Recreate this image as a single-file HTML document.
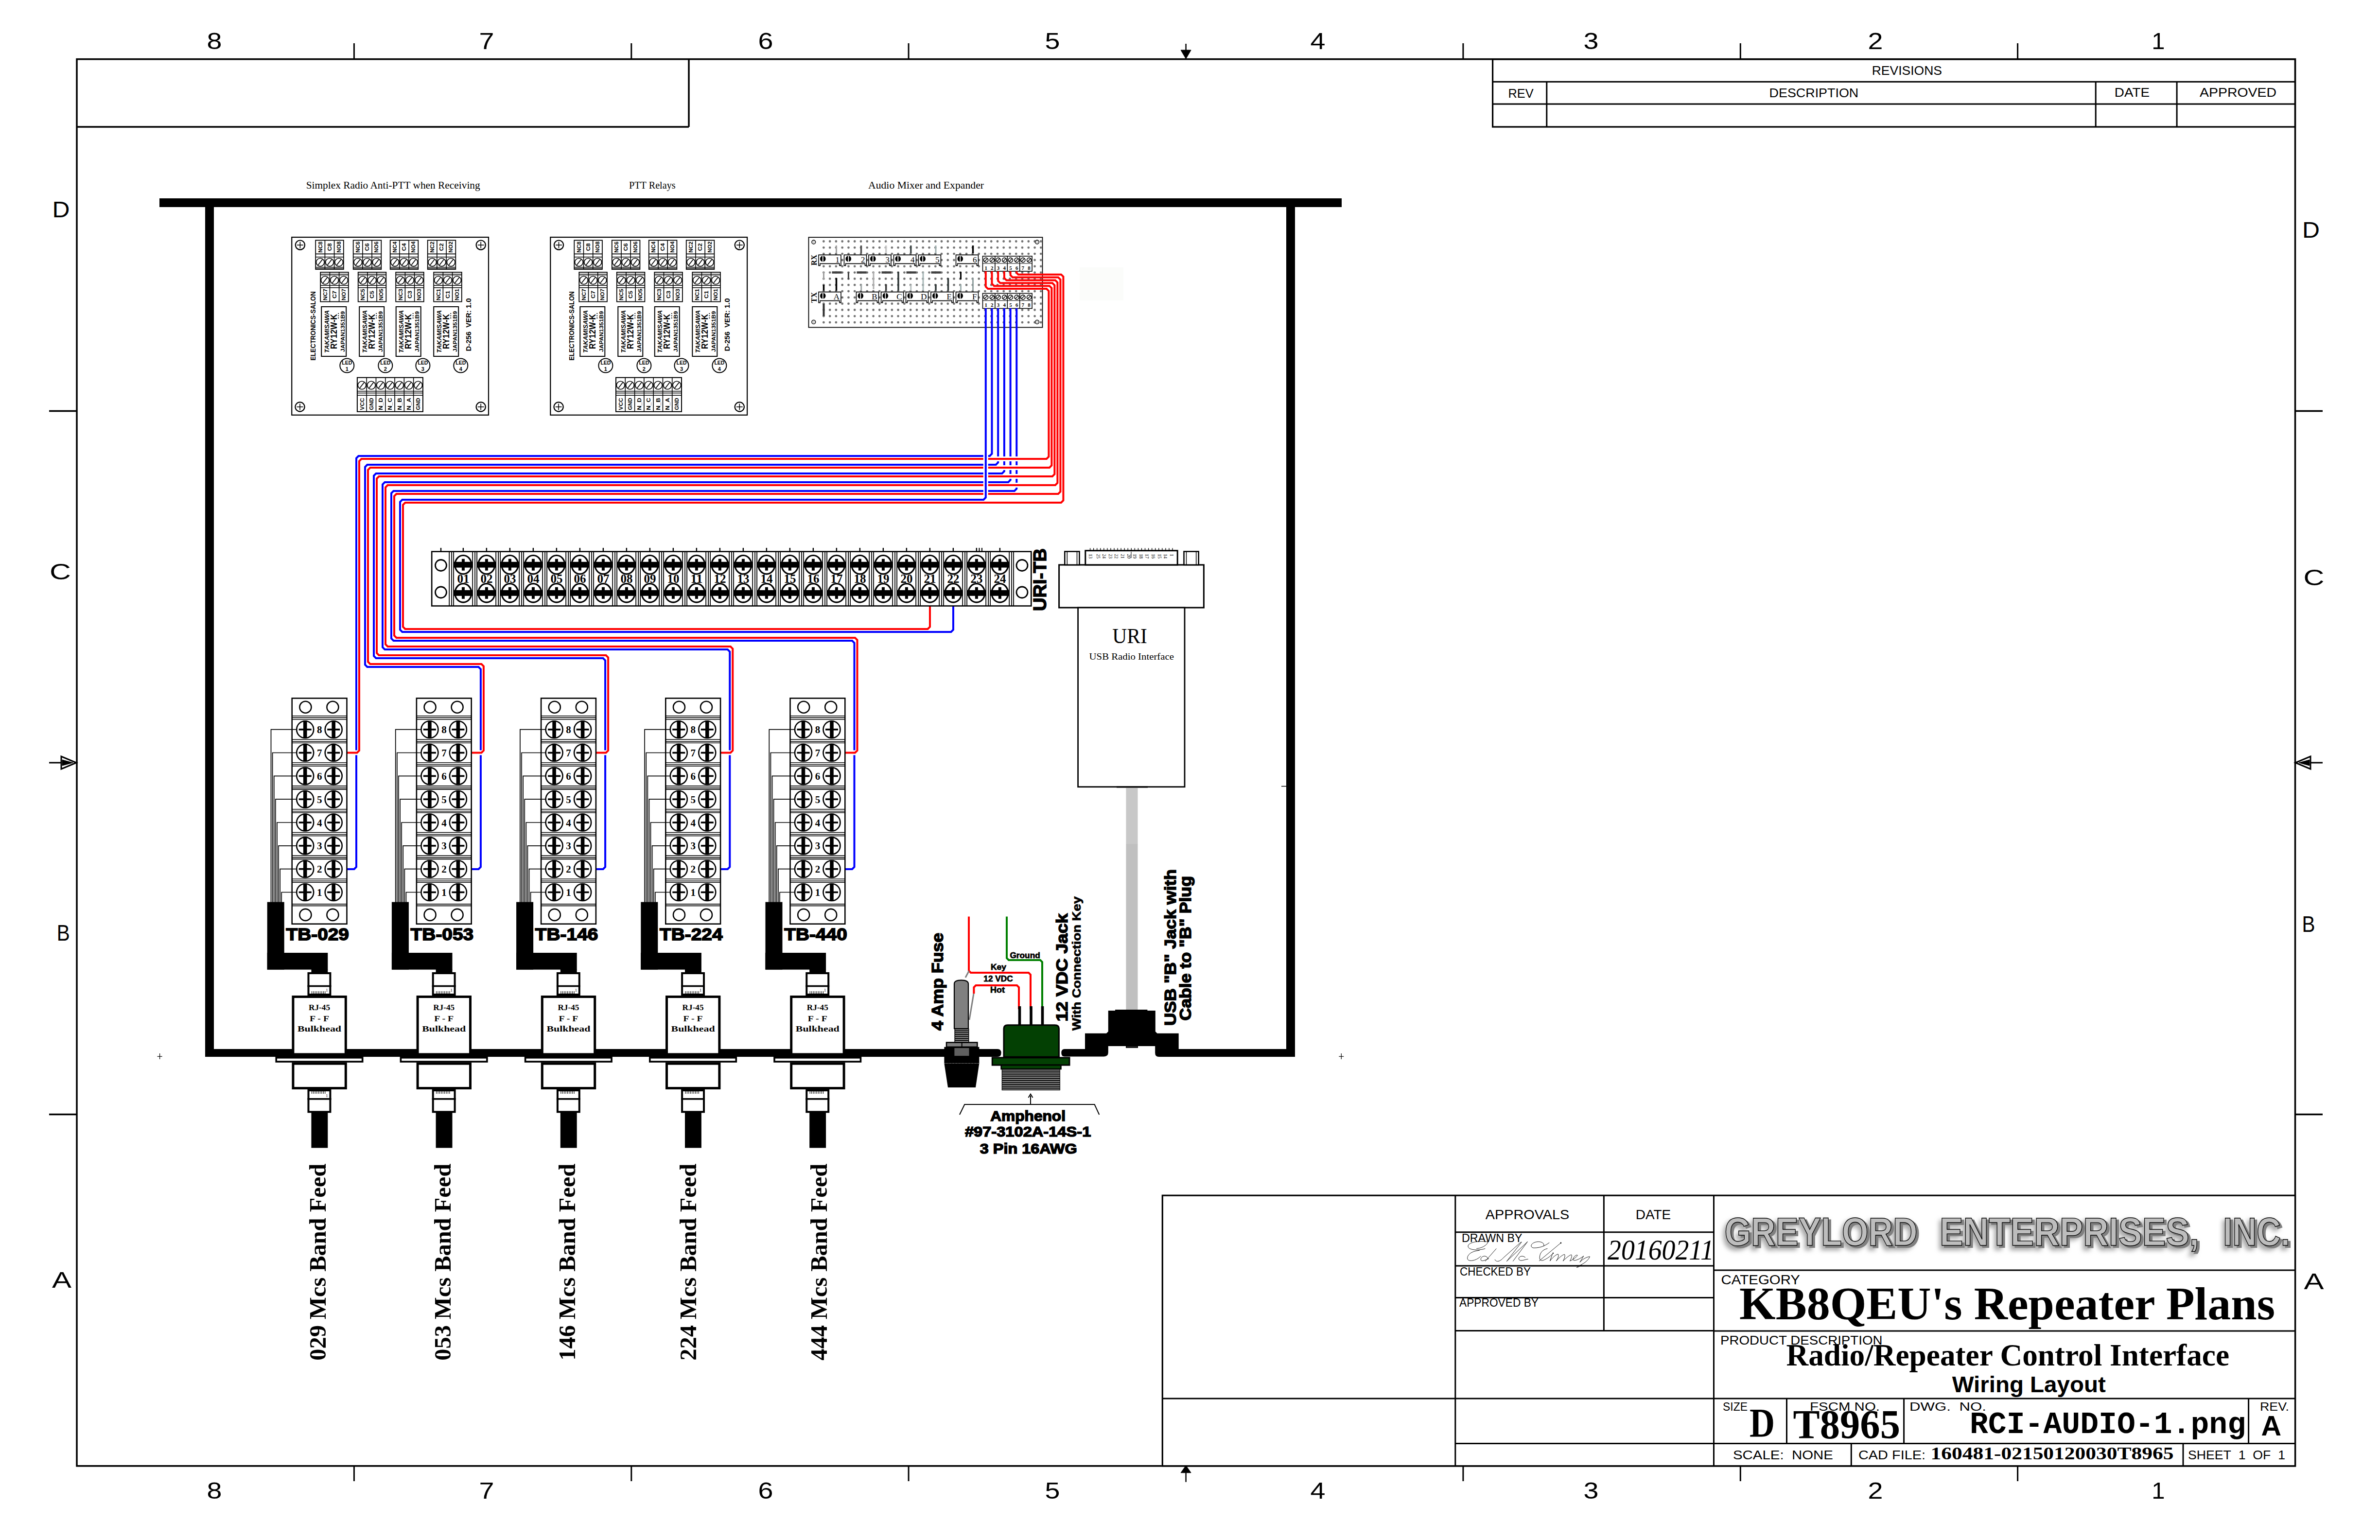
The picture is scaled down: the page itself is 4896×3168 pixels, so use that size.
<!DOCTYPE html><html><head><meta charset="utf-8"><style>html,body{margin:0;padding:0;background:#fff;overflow:hidden}svg{display:block}</style></head><body>
<svg width="4896" height="3168" viewBox="0 0 4896 3168">
<rect x="0" y="0" width="4896" height="3168" fill="#fff"/>
<rect x="158" y="121.7" width="4563.5" height="2894" fill="none" stroke="#000" stroke-width="3.5" />
<line x1="158" y1="261" x2="1417" y2="261" stroke="#000" stroke-width="3.5" />
<line x1="1417" y1="121.7" x2="1417" y2="261" stroke="#000" stroke-width="3.5" />
<line x1="728.4" y1="89" x2="728.4" y2="121.7" stroke="#000" stroke-width="3" />
<line x1="728.4" y1="3015.7" x2="728.4" y2="3047" stroke="#000" stroke-width="3" />
<line x1="1298.8" y1="89" x2="1298.8" y2="121.7" stroke="#000" stroke-width="3" />
<line x1="1298.8" y1="3015.7" x2="1298.8" y2="3047" stroke="#000" stroke-width="3" />
<line x1="1869.1" y1="89" x2="1869.1" y2="121.7" stroke="#000" stroke-width="3" />
<line x1="1869.1" y1="3015.7" x2="1869.1" y2="3047" stroke="#000" stroke-width="3" />
<line x1="3009.9" y1="89" x2="3009.9" y2="121.7" stroke="#000" stroke-width="3" />
<line x1="3009.9" y1="3015.7" x2="3009.9" y2="3047" stroke="#000" stroke-width="3" />
<line x1="3580.3" y1="89" x2="3580.3" y2="121.7" stroke="#000" stroke-width="3" />
<line x1="3580.3" y1="3015.7" x2="3580.3" y2="3047" stroke="#000" stroke-width="3" />
<line x1="4150.6" y1="89" x2="4150.6" y2="121.7" stroke="#000" stroke-width="3" />
<line x1="4150.6" y1="3015.7" x2="4150.6" y2="3047" stroke="#000" stroke-width="3" />
<line x1="101" y1="845.5" x2="158" y2="845.5" stroke="#000" stroke-width="3.5" />
<line x1="4721.5" y1="845.5" x2="4778" y2="845.5" stroke="#000" stroke-width="3.5" />
<line x1="101" y1="2292.5" x2="158" y2="2292.5" stroke="#000" stroke-width="3.5" />
<line x1="4721.5" y1="2292.5" x2="4778" y2="2292.5" stroke="#000" stroke-width="3.5" />
<line x1="2439.6" y1="90" x2="2439.6" y2="104" stroke="#000" stroke-width="2.5" />
<path d="M2429.1,103 L2450.1,103 L2439.6,121 Z" fill="#000" stroke="#000" stroke-width="1" />
<line x1="2439.6" y1="3048.7" x2="2439.6" y2="3029.7" stroke="#000" stroke-width="2.5" />
<path d="M2429.1,3029.7 L2450.1,3029.7 L2439.6,3014.7 Z" fill="#000" stroke="#000" stroke-width="1" />
<line x1="101" y1="1569" x2="126" y2="1569" stroke="#000" stroke-width="3" />
<path d="M126,1556 L126,1582 L157,1569 Z" fill="none" stroke="#000" stroke-width="3" />
<path d="M128,1563 L128,1575 L150,1569 Z" fill="#000" stroke="#000" stroke-width="1" />
<line x1="4753" y1="1569" x2="4778" y2="1569" stroke="#000" stroke-width="3" />
<path d="M4753,1556 L4753,1582 L4722,1569 Z" fill="none" stroke="#000" stroke-width="3" />
<path d="M4751,1563 L4751,1575 L4729,1569 Z" fill="#000" stroke="#000" stroke-width="1" />
<text x="441" y="101" font-family='"Liberation Sans", sans-serif' font-size="49" font-weight="normal" text-anchor="middle" fill="#000" textLength="31" lengthAdjust="spacingAndGlyphs" >8</text>
<text x="441" y="3083" font-family='"Liberation Sans", sans-serif' font-size="49" font-weight="normal" text-anchor="middle" fill="#000" textLength="31" lengthAdjust="spacingAndGlyphs" >8</text>
<text x="1001" y="101" font-family='"Liberation Sans", sans-serif' font-size="49" font-weight="normal" text-anchor="middle" fill="#000" textLength="31" lengthAdjust="spacingAndGlyphs" >7</text>
<text x="1001" y="3083" font-family='"Liberation Sans", sans-serif' font-size="49" font-weight="normal" text-anchor="middle" fill="#000" textLength="31" lengthAdjust="spacingAndGlyphs" >7</text>
<text x="1575" y="101" font-family='"Liberation Sans", sans-serif' font-size="49" font-weight="normal" text-anchor="middle" fill="#000" textLength="31" lengthAdjust="spacingAndGlyphs" >6</text>
<text x="1575" y="3083" font-family='"Liberation Sans", sans-serif' font-size="49" font-weight="normal" text-anchor="middle" fill="#000" textLength="31" lengthAdjust="spacingAndGlyphs" >6</text>
<text x="2165" y="101" font-family='"Liberation Sans", sans-serif' font-size="49" font-weight="normal" text-anchor="middle" fill="#000" textLength="31" lengthAdjust="spacingAndGlyphs" >5</text>
<text x="2165" y="3083" font-family='"Liberation Sans", sans-serif' font-size="49" font-weight="normal" text-anchor="middle" fill="#000" textLength="31" lengthAdjust="spacingAndGlyphs" >5</text>
<text x="2711" y="101" font-family='"Liberation Sans", sans-serif' font-size="49" font-weight="normal" text-anchor="middle" fill="#000" textLength="31" lengthAdjust="spacingAndGlyphs" >4</text>
<text x="2711" y="3083" font-family='"Liberation Sans", sans-serif' font-size="49" font-weight="normal" text-anchor="middle" fill="#000" textLength="31" lengthAdjust="spacingAndGlyphs" >4</text>
<text x="3273" y="101" font-family='"Liberation Sans", sans-serif' font-size="49" font-weight="normal" text-anchor="middle" fill="#000" textLength="31" lengthAdjust="spacingAndGlyphs" >3</text>
<text x="3273" y="3083" font-family='"Liberation Sans", sans-serif' font-size="49" font-weight="normal" text-anchor="middle" fill="#000" textLength="31" lengthAdjust="spacingAndGlyphs" >3</text>
<text x="3858" y="101" font-family='"Liberation Sans", sans-serif' font-size="49" font-weight="normal" text-anchor="middle" fill="#000" textLength="31" lengthAdjust="spacingAndGlyphs" >2</text>
<text x="3858" y="3083" font-family='"Liberation Sans", sans-serif' font-size="49" font-weight="normal" text-anchor="middle" fill="#000" textLength="31" lengthAdjust="spacingAndGlyphs" >2</text>
<text x="4440" y="101" font-family='"Liberation Sans", sans-serif' font-size="49" font-weight="normal" text-anchor="middle" fill="#000" >1</text>
<text x="4440" y="3083" font-family='"Liberation Sans", sans-serif' font-size="49" font-weight="normal" text-anchor="middle" fill="#000" >1</text>
<text x="125.6" y="447" font-family='"Liberation Sans", sans-serif' font-size="46" font-weight="normal" text-anchor="middle" fill="#000" textLength="36" lengthAdjust="spacingAndGlyphs" >D</text>
<text x="124" y="1192" font-family='"Liberation Sans", sans-serif' font-size="46" font-weight="normal" text-anchor="middle" fill="#000" textLength="44" lengthAdjust="spacingAndGlyphs" >C</text>
<text x="130.3" y="1935" font-family='"Liberation Sans", sans-serif' font-size="46" font-weight="normal" text-anchor="middle" fill="#000" textLength="27" lengthAdjust="spacingAndGlyphs" >B</text>
<text x="127" y="2649" font-family='"Liberation Sans", sans-serif' font-size="46" font-weight="normal" text-anchor="middle" fill="#000" textLength="40" lengthAdjust="spacingAndGlyphs" >A</text>
<text x="4754" y="489" font-family='"Liberation Sans", sans-serif' font-size="46" font-weight="normal" text-anchor="middle" fill="#000" textLength="36" lengthAdjust="spacingAndGlyphs" >D</text>
<text x="4760" y="1204" font-family='"Liberation Sans", sans-serif' font-size="46" font-weight="normal" text-anchor="middle" fill="#000" textLength="43" lengthAdjust="spacingAndGlyphs" >C</text>
<text x="4749" y="1917" font-family='"Liberation Sans", sans-serif' font-size="46" font-weight="normal" text-anchor="middle" fill="#000" textLength="27" lengthAdjust="spacingAndGlyphs" >B</text>
<text x="4760" y="2652" font-family='"Liberation Sans", sans-serif' font-size="46" font-weight="normal" text-anchor="middle" fill="#000" textLength="41" lengthAdjust="spacingAndGlyphs" >A</text>
<rect x="3070.6" y="121.7" width="1650.9" height="139.3" fill="none" stroke="#000" stroke-width="3.2" />
<line x1="3070.6" y1="168.2" x2="4721.5" y2="168.2" stroke="#000" stroke-width="3" />
<line x1="3070.6" y1="214.1" x2="4721.5" y2="214.1" stroke="#000" stroke-width="3" />
<line x1="3181.8" y1="168.2" x2="3181.8" y2="261" stroke="#000" stroke-width="3" />
<line x1="4311.2" y1="168.2" x2="4311.2" y2="261" stroke="#000" stroke-width="3" />
<line x1="4478.1" y1="168.2" x2="4478.1" y2="261" stroke="#000" stroke-width="3" />
<text x="3850.7" y="154.1" font-family='"Liberation Sans", sans-serif' font-size="26" font-weight="normal" text-anchor="start" fill="#000" textLength="144.3" lengthAdjust="spacingAndGlyphs" >REVISIONS</text>
<text x="3102.4" y="201" font-family='"Liberation Sans", sans-serif' font-size="26" font-weight="normal" text-anchor="start" fill="#000" textLength="52.2" lengthAdjust="spacingAndGlyphs" >REV</text>
<text x="3639.6" y="200" font-family='"Liberation Sans", sans-serif' font-size="26" font-weight="normal" text-anchor="start" fill="#000" textLength="183.6" lengthAdjust="spacingAndGlyphs" >DESCRIPTION</text>
<text x="4349.8" y="198.5" font-family='"Liberation Sans", sans-serif' font-size="26" font-weight="normal" text-anchor="start" fill="#000" textLength="72.2" lengthAdjust="spacingAndGlyphs" >DATE</text>
<text x="4525" y="198.5" font-family='"Liberation Sans", sans-serif' font-size="26" font-weight="normal" text-anchor="start" fill="#000" textLength="158" lengthAdjust="spacingAndGlyphs" >APPROVED</text>
<text x="629.7" y="387.5" font-family='"Liberation Serif", serif' font-size="21.4" font-weight="normal" text-anchor="start" fill="#000" textLength="358" lengthAdjust="spacingAndGlyphs" >Simplex Radio Anti-PTT when Receiving</text>
<text x="1294" y="387.5" font-family='"Liberation Serif", serif' font-size="21.4" font-weight="normal" text-anchor="start" fill="#000" textLength="95.7" lengthAdjust="spacingAndGlyphs" >PTT Relays</text>
<text x="1786" y="387.5" font-family='"Liberation Serif", serif' font-size="21.4" font-weight="normal" text-anchor="start" fill="#000" textLength="238" lengthAdjust="spacingAndGlyphs" >Audio Mixer and Expander</text>
<rect x="328" y="408" width="2432" height="18" fill="#000" />
<rect x="422" y="426" width="18" height="1748" fill="#000" />
<rect x="2646" y="426" width="18" height="1748" fill="#000" />
<path d="M422,2158 L2052,2158 Q2059.6,2158 2059.6,2166 Q2059.6,2174 2052,2174 L422,2174 Z" fill="#000" stroke="none" stroke-width="0" />
<rect x="2424" y="2158" width="240" height="16" fill="#000" />
<line x1="323.6" y1="2173.3" x2="333.6" y2="2173.3" stroke="#000" stroke-width="1.2" />
<line x1="328.6" y1="2167" x2="328.6" y2="2179" stroke="#000" stroke-width="1.2" />
<line x1="2754.3" y1="2173.3" x2="2764.3" y2="2173.3" stroke="#000" stroke-width="1.2" />
<line x1="2759.3" y1="2167" x2="2759.3" y2="2179" stroke="#000" stroke-width="1.2" />
<line x1="2636" y1="1617.5" x2="2646" y2="1617.5" stroke="#000" stroke-width="1.5" />
<rect x="2221" y="549.7" width="90" height="68.3" fill="#fbfcfa" />
<rect x="600.2" y="488" width="404.8" height="365.8" fill="#fff" stroke="#000" stroke-width="2.2" />
<circle cx="617.4" cy="504.1" r="9.6" fill="#fff" stroke="#000" stroke-width="2.2" />
<line x1="610.9" y1="504.1" x2="623.9" y2="504.1" stroke="#000" stroke-width="1.6" />
<line x1="617.4" y1="497.6" x2="617.4" y2="510.6" stroke="#000" stroke-width="1.6" />
<circle cx="989.2" cy="504.1" r="9.6" fill="#fff" stroke="#000" stroke-width="2.2" />
<line x1="982.7" y1="504.1" x2="995.7" y2="504.1" stroke="#000" stroke-width="1.6" />
<line x1="989.2" y1="497.6" x2="989.2" y2="510.6" stroke="#000" stroke-width="1.6" />
<circle cx="617" cy="837" r="9.6" fill="#fff" stroke="#000" stroke-width="2.2" />
<line x1="610.5" y1="837" x2="623.5" y2="837" stroke="#000" stroke-width="1.6" />
<line x1="617" y1="830.5" x2="617" y2="843.5" stroke="#000" stroke-width="1.6" />
<circle cx="989.2" cy="837" r="9.6" fill="#fff" stroke="#000" stroke-width="2.2" />
<line x1="982.7" y1="837" x2="995.7" y2="837" stroke="#000" stroke-width="1.6" />
<line x1="989.2" y1="830.5" x2="989.2" y2="843.5" stroke="#000" stroke-width="1.6" />
<rect x="649.2" y="494.3" width="57.6" height="59.7" fill="#fff" stroke="#000" stroke-width="1.8" />
<line x1="649.2" y1="522.4" x2="706.8" y2="522.4" stroke="#000" stroke-width="1.6" />
<line x1="649.2" y1="528.7" x2="706.8" y2="528.7" stroke="#000" stroke-width="1.6" />
<line x1="649.2" y1="549.7" x2="706.8" y2="549.7" stroke="#000" stroke-width="1.2" />
<line x1="649.2" y1="551.9" x2="706.8" y2="551.9" stroke="#000" stroke-width="1.2" />
<line x1="668.4" y1="494.3" x2="668.4" y2="554" stroke="#000" stroke-width="1.6" />
<line x1="687.6" y1="494.3" x2="687.6" y2="554" stroke="#000" stroke-width="1.6" />
<circle cx="658.8" cy="539.5" r="8.3" fill="#fff" stroke="#000" stroke-width="1.6" />
<line x1="654.32" y1="545.18" x2="663.28" y2="533.82" stroke="#000" stroke-width="1.76" />
<text x="662.58" y="508.3" font-family='"Liberation Sans", sans-serif' font-size="10.5" font-weight="bold" text-anchor="middle" fill="#000" textLength="23" lengthAdjust="spacingAndGlyphs" transform="rotate(-90 662.58 508.3)" >NC8</text>
<circle cx="678" cy="539.5" r="8.3" fill="#fff" stroke="#000" stroke-width="1.6" />
<line x1="673.52" y1="545.18" x2="682.48" y2="533.82" stroke="#000" stroke-width="1.76" />
<text x="681.78" y="508.3" font-family='"Liberation Sans", sans-serif' font-size="10.5" font-weight="bold" text-anchor="middle" fill="#000" textLength="16" lengthAdjust="spacingAndGlyphs" transform="rotate(-90 681.78 508.3)" >C8</text>
<circle cx="697.2" cy="539.5" r="8.3" fill="#fff" stroke="#000" stroke-width="1.6" />
<line x1="692.72" y1="545.18" x2="701.68" y2="533.82" stroke="#000" stroke-width="1.76" />
<text x="700.98" y="508.3" font-family='"Liberation Sans", sans-serif' font-size="10.5" font-weight="bold" text-anchor="middle" fill="#000" textLength="23" lengthAdjust="spacingAndGlyphs" transform="rotate(-90 700.98 508.3)" >NO8</text>
<rect x="726.7" y="494.3" width="57.6" height="59.7" fill="#fff" stroke="#000" stroke-width="1.8" />
<line x1="726.7" y1="522.4" x2="784.3" y2="522.4" stroke="#000" stroke-width="1.6" />
<line x1="726.7" y1="528.7" x2="784.3" y2="528.7" stroke="#000" stroke-width="1.6" />
<line x1="726.7" y1="549.7" x2="784.3" y2="549.7" stroke="#000" stroke-width="1.2" />
<line x1="726.7" y1="551.9" x2="784.3" y2="551.9" stroke="#000" stroke-width="1.2" />
<line x1="745.9" y1="494.3" x2="745.9" y2="554" stroke="#000" stroke-width="1.6" />
<line x1="765.1" y1="494.3" x2="765.1" y2="554" stroke="#000" stroke-width="1.6" />
<circle cx="736.3" cy="539.5" r="8.3" fill="#fff" stroke="#000" stroke-width="1.6" />
<line x1="731.82" y1="545.18" x2="740.78" y2="533.82" stroke="#000" stroke-width="1.76" />
<text x="740.08" y="508.3" font-family='"Liberation Sans", sans-serif' font-size="10.5" font-weight="bold" text-anchor="middle" fill="#000" textLength="23" lengthAdjust="spacingAndGlyphs" transform="rotate(-90 740.08 508.3)" >NC6</text>
<circle cx="755.5" cy="539.5" r="8.3" fill="#fff" stroke="#000" stroke-width="1.6" />
<line x1="751.02" y1="545.18" x2="759.98" y2="533.82" stroke="#000" stroke-width="1.76" />
<text x="759.28" y="508.3" font-family='"Liberation Sans", sans-serif' font-size="10.5" font-weight="bold" text-anchor="middle" fill="#000" textLength="16" lengthAdjust="spacingAndGlyphs" transform="rotate(-90 759.28 508.3)" >C6</text>
<circle cx="774.7" cy="539.5" r="8.3" fill="#fff" stroke="#000" stroke-width="1.6" />
<line x1="770.22" y1="545.18" x2="779.18" y2="533.82" stroke="#000" stroke-width="1.76" />
<text x="778.48" y="508.3" font-family='"Liberation Sans", sans-serif' font-size="10.5" font-weight="bold" text-anchor="middle" fill="#000" textLength="23" lengthAdjust="spacingAndGlyphs" transform="rotate(-90 778.48 508.3)" >NO6</text>
<rect x="802.7" y="494.3" width="57.6" height="59.7" fill="#fff" stroke="#000" stroke-width="1.8" />
<line x1="802.7" y1="522.4" x2="860.3" y2="522.4" stroke="#000" stroke-width="1.6" />
<line x1="802.7" y1="528.7" x2="860.3" y2="528.7" stroke="#000" stroke-width="1.6" />
<line x1="802.7" y1="549.7" x2="860.3" y2="549.7" stroke="#000" stroke-width="1.2" />
<line x1="802.7" y1="551.9" x2="860.3" y2="551.9" stroke="#000" stroke-width="1.2" />
<line x1="821.9" y1="494.3" x2="821.9" y2="554" stroke="#000" stroke-width="1.6" />
<line x1="841.1" y1="494.3" x2="841.1" y2="554" stroke="#000" stroke-width="1.6" />
<circle cx="812.3" cy="539.5" r="8.3" fill="#fff" stroke="#000" stroke-width="1.6" />
<line x1="807.82" y1="545.18" x2="816.78" y2="533.82" stroke="#000" stroke-width="1.76" />
<text x="816.08" y="508.3" font-family='"Liberation Sans", sans-serif' font-size="10.5" font-weight="bold" text-anchor="middle" fill="#000" textLength="23" lengthAdjust="spacingAndGlyphs" transform="rotate(-90 816.08 508.3)" >NC4</text>
<circle cx="831.5" cy="539.5" r="8.3" fill="#fff" stroke="#000" stroke-width="1.6" />
<line x1="827.02" y1="545.18" x2="835.98" y2="533.82" stroke="#000" stroke-width="1.76" />
<text x="835.28" y="508.3" font-family='"Liberation Sans", sans-serif' font-size="10.5" font-weight="bold" text-anchor="middle" fill="#000" textLength="16" lengthAdjust="spacingAndGlyphs" transform="rotate(-90 835.28 508.3)" >C4</text>
<circle cx="850.7" cy="539.5" r="8.3" fill="#fff" stroke="#000" stroke-width="1.6" />
<line x1="846.22" y1="545.18" x2="855.18" y2="533.82" stroke="#000" stroke-width="1.76" />
<text x="854.48" y="508.3" font-family='"Liberation Sans", sans-serif' font-size="10.5" font-weight="bold" text-anchor="middle" fill="#000" textLength="23" lengthAdjust="spacingAndGlyphs" transform="rotate(-90 854.48 508.3)" >NO4</text>
<rect x="879.7" y="494.3" width="57.6" height="59.7" fill="#fff" stroke="#000" stroke-width="1.8" />
<line x1="879.7" y1="522.4" x2="937.3" y2="522.4" stroke="#000" stroke-width="1.6" />
<line x1="879.7" y1="528.7" x2="937.3" y2="528.7" stroke="#000" stroke-width="1.6" />
<line x1="879.7" y1="549.7" x2="937.3" y2="549.7" stroke="#000" stroke-width="1.2" />
<line x1="879.7" y1="551.9" x2="937.3" y2="551.9" stroke="#000" stroke-width="1.2" />
<line x1="898.9" y1="494.3" x2="898.9" y2="554" stroke="#000" stroke-width="1.6" />
<line x1="918.1" y1="494.3" x2="918.1" y2="554" stroke="#000" stroke-width="1.6" />
<circle cx="889.3" cy="539.5" r="8.3" fill="#fff" stroke="#000" stroke-width="1.6" />
<line x1="884.82" y1="545.18" x2="893.78" y2="533.82" stroke="#000" stroke-width="1.76" />
<text x="893.08" y="508.3" font-family='"Liberation Sans", sans-serif' font-size="10.5" font-weight="bold" text-anchor="middle" fill="#000" textLength="23" lengthAdjust="spacingAndGlyphs" transform="rotate(-90 893.08 508.3)" >NC2</text>
<circle cx="908.5" cy="539.5" r="8.3" fill="#fff" stroke="#000" stroke-width="1.6" />
<line x1="904.02" y1="545.18" x2="912.98" y2="533.82" stroke="#000" stroke-width="1.76" />
<text x="912.28" y="508.3" font-family='"Liberation Sans", sans-serif' font-size="10.5" font-weight="bold" text-anchor="middle" fill="#000" textLength="16" lengthAdjust="spacingAndGlyphs" transform="rotate(-90 912.28 508.3)" >C2</text>
<circle cx="927.7" cy="539.5" r="8.3" fill="#fff" stroke="#000" stroke-width="1.6" />
<line x1="923.22" y1="545.18" x2="932.18" y2="533.82" stroke="#000" stroke-width="1.76" />
<text x="931.48" y="508.3" font-family='"Liberation Sans", sans-serif' font-size="10.5" font-weight="bold" text-anchor="middle" fill="#000" textLength="23" lengthAdjust="spacingAndGlyphs" transform="rotate(-90 931.48 508.3)" >NO2</text>
<rect x="659.2" y="560" width="57.6" height="60.6" fill="#fff" stroke="#000" stroke-width="1.8" />
<line x1="659.2" y1="563.8" x2="716.8" y2="563.8" stroke="#000" stroke-width="1.2" />
<line x1="659.2" y1="566" x2="716.8" y2="566" stroke="#000" stroke-width="1.2" />
<line x1="659.2" y1="587.3" x2="716.8" y2="587.3" stroke="#000" stroke-width="1.6" />
<line x1="659.2" y1="591.8" x2="716.8" y2="591.8" stroke="#000" stroke-width="1.6" />
<line x1="678.4" y1="560" x2="678.4" y2="620.6" stroke="#000" stroke-width="1.6" />
<line x1="697.6" y1="560" x2="697.6" y2="620.6" stroke="#000" stroke-width="1.6" />
<circle cx="668.8" cy="576.5" r="8.3" fill="#fff" stroke="#000" stroke-width="1.6" />
<line x1="664.32" y1="582.18" x2="673.28" y2="570.82" stroke="#000" stroke-width="1.76" />
<text x="672.58" y="606" font-family='"Liberation Sans", sans-serif' font-size="10.5" font-weight="bold" text-anchor="middle" fill="#000" textLength="24" lengthAdjust="spacingAndGlyphs" transform="rotate(-90 672.58 606)" >NC7</text>
<circle cx="688" cy="576.5" r="8.3" fill="#fff" stroke="#000" stroke-width="1.6" />
<line x1="683.52" y1="582.18" x2="692.48" y2="570.82" stroke="#000" stroke-width="1.76" />
<text x="691.78" y="606" font-family='"Liberation Sans", sans-serif' font-size="10.5" font-weight="bold" text-anchor="middle" fill="#000" textLength="16" lengthAdjust="spacingAndGlyphs" transform="rotate(-90 691.78 606)" >C7</text>
<circle cx="707.2" cy="576.5" r="8.3" fill="#fff" stroke="#000" stroke-width="1.6" />
<line x1="702.72" y1="582.18" x2="711.68" y2="570.82" stroke="#000" stroke-width="1.76" />
<text x="710.98" y="606" font-family='"Liberation Sans", sans-serif' font-size="10.5" font-weight="bold" text-anchor="middle" fill="#000" textLength="24" lengthAdjust="spacingAndGlyphs" transform="rotate(-90 710.98 606)" >NO7</text>
<rect x="736.7" y="560" width="57.6" height="60.6" fill="#fff" stroke="#000" stroke-width="1.8" />
<line x1="736.7" y1="563.8" x2="794.3" y2="563.8" stroke="#000" stroke-width="1.2" />
<line x1="736.7" y1="566" x2="794.3" y2="566" stroke="#000" stroke-width="1.2" />
<line x1="736.7" y1="587.3" x2="794.3" y2="587.3" stroke="#000" stroke-width="1.6" />
<line x1="736.7" y1="591.8" x2="794.3" y2="591.8" stroke="#000" stroke-width="1.6" />
<line x1="755.9" y1="560" x2="755.9" y2="620.6" stroke="#000" stroke-width="1.6" />
<line x1="775.1" y1="560" x2="775.1" y2="620.6" stroke="#000" stroke-width="1.6" />
<circle cx="746.3" cy="576.5" r="8.3" fill="#fff" stroke="#000" stroke-width="1.6" />
<line x1="741.82" y1="582.18" x2="750.78" y2="570.82" stroke="#000" stroke-width="1.76" />
<text x="750.08" y="606" font-family='"Liberation Sans", sans-serif' font-size="10.5" font-weight="bold" text-anchor="middle" fill="#000" textLength="24" lengthAdjust="spacingAndGlyphs" transform="rotate(-90 750.08 606)" >NC5</text>
<circle cx="765.5" cy="576.5" r="8.3" fill="#fff" stroke="#000" stroke-width="1.6" />
<line x1="761.02" y1="582.18" x2="769.98" y2="570.82" stroke="#000" stroke-width="1.76" />
<text x="769.28" y="606" font-family='"Liberation Sans", sans-serif' font-size="10.5" font-weight="bold" text-anchor="middle" fill="#000" textLength="16" lengthAdjust="spacingAndGlyphs" transform="rotate(-90 769.28 606)" >C5</text>
<circle cx="784.7" cy="576.5" r="8.3" fill="#fff" stroke="#000" stroke-width="1.6" />
<line x1="780.22" y1="582.18" x2="789.18" y2="570.82" stroke="#000" stroke-width="1.76" />
<text x="788.48" y="606" font-family='"Liberation Sans", sans-serif' font-size="10.5" font-weight="bold" text-anchor="middle" fill="#000" textLength="24" lengthAdjust="spacingAndGlyphs" transform="rotate(-90 788.48 606)" >NO5</text>
<rect x="814.2" y="560" width="57.6" height="60.6" fill="#fff" stroke="#000" stroke-width="1.8" />
<line x1="814.2" y1="563.8" x2="871.8" y2="563.8" stroke="#000" stroke-width="1.2" />
<line x1="814.2" y1="566" x2="871.8" y2="566" stroke="#000" stroke-width="1.2" />
<line x1="814.2" y1="587.3" x2="871.8" y2="587.3" stroke="#000" stroke-width="1.6" />
<line x1="814.2" y1="591.8" x2="871.8" y2="591.8" stroke="#000" stroke-width="1.6" />
<line x1="833.4" y1="560" x2="833.4" y2="620.6" stroke="#000" stroke-width="1.6" />
<line x1="852.6" y1="560" x2="852.6" y2="620.6" stroke="#000" stroke-width="1.6" />
<circle cx="823.8" cy="576.5" r="8.3" fill="#fff" stroke="#000" stroke-width="1.6" />
<line x1="819.32" y1="582.18" x2="828.28" y2="570.82" stroke="#000" stroke-width="1.76" />
<text x="827.58" y="606" font-family='"Liberation Sans", sans-serif' font-size="10.5" font-weight="bold" text-anchor="middle" fill="#000" textLength="24" lengthAdjust="spacingAndGlyphs" transform="rotate(-90 827.58 606)" >NC3</text>
<circle cx="843" cy="576.5" r="8.3" fill="#fff" stroke="#000" stroke-width="1.6" />
<line x1="838.52" y1="582.18" x2="847.48" y2="570.82" stroke="#000" stroke-width="1.76" />
<text x="846.78" y="606" font-family='"Liberation Sans", sans-serif' font-size="10.5" font-weight="bold" text-anchor="middle" fill="#000" textLength="16" lengthAdjust="spacingAndGlyphs" transform="rotate(-90 846.78 606)" >C3</text>
<circle cx="862.2" cy="576.5" r="8.3" fill="#fff" stroke="#000" stroke-width="1.6" />
<line x1="857.72" y1="582.18" x2="866.68" y2="570.82" stroke="#000" stroke-width="1.76" />
<text x="865.98" y="606" font-family='"Liberation Sans", sans-serif' font-size="10.5" font-weight="bold" text-anchor="middle" fill="#000" textLength="24" lengthAdjust="spacingAndGlyphs" transform="rotate(-90 865.98 606)" >NO3</text>
<rect x="892.2" y="560" width="57.6" height="60.6" fill="#fff" stroke="#000" stroke-width="1.8" />
<line x1="892.2" y1="563.8" x2="949.8" y2="563.8" stroke="#000" stroke-width="1.2" />
<line x1="892.2" y1="566" x2="949.8" y2="566" stroke="#000" stroke-width="1.2" />
<line x1="892.2" y1="587.3" x2="949.8" y2="587.3" stroke="#000" stroke-width="1.6" />
<line x1="892.2" y1="591.8" x2="949.8" y2="591.8" stroke="#000" stroke-width="1.6" />
<line x1="911.4" y1="560" x2="911.4" y2="620.6" stroke="#000" stroke-width="1.6" />
<line x1="930.6" y1="560" x2="930.6" y2="620.6" stroke="#000" stroke-width="1.6" />
<circle cx="901.8" cy="576.5" r="8.3" fill="#fff" stroke="#000" stroke-width="1.6" />
<line x1="897.32" y1="582.18" x2="906.28" y2="570.82" stroke="#000" stroke-width="1.76" />
<text x="905.58" y="606" font-family='"Liberation Sans", sans-serif' font-size="10.5" font-weight="bold" text-anchor="middle" fill="#000" textLength="24" lengthAdjust="spacingAndGlyphs" transform="rotate(-90 905.58 606)" >NC1</text>
<circle cx="921" cy="576.5" r="8.3" fill="#fff" stroke="#000" stroke-width="1.6" />
<line x1="916.52" y1="582.18" x2="925.48" y2="570.82" stroke="#000" stroke-width="1.76" />
<text x="924.78" y="606" font-family='"Liberation Sans", sans-serif' font-size="10.5" font-weight="bold" text-anchor="middle" fill="#000" textLength="16" lengthAdjust="spacingAndGlyphs" transform="rotate(-90 924.78 606)" >C1</text>
<circle cx="940.2" cy="576.5" r="8.3" fill="#fff" stroke="#000" stroke-width="1.6" />
<line x1="935.72" y1="582.18" x2="944.68" y2="570.82" stroke="#000" stroke-width="1.76" />
<text x="943.98" y="606" font-family='"Liberation Sans", sans-serif' font-size="10.5" font-weight="bold" text-anchor="middle" fill="#000" textLength="24" lengthAdjust="spacingAndGlyphs" transform="rotate(-90 943.98 606)" >NO1</text>
<rect x="661.2" y="631" width="51" height="102" fill="#fff" stroke="#000" stroke-width="2" />
<text x="676.88" y="682" font-family='"Liberation Sans", sans-serif' font-size="13" font-weight="bold" text-anchor="middle" fill="#000" textLength="88" lengthAdjust="spacingAndGlyphs" transform="rotate(-90 676.88 682)" font-style="italic" >TAKAMISAWA</text>
<text x="692.54" y="682" font-family='"Liberation Sans", sans-serif' font-size="19" font-weight="bold" text-anchor="middle" fill="#000" textLength="72" lengthAdjust="spacingAndGlyphs" transform="rotate(-90 692.54 682)" >RY12W-K</text>
<text x="708.84" y="682" font-family='"Liberation Sans", sans-serif' font-size="11.5" font-weight="bold" text-anchor="middle" fill="#000" textLength="84" lengthAdjust="spacingAndGlyphs" transform="rotate(-90 708.84 682)" >JAPAN1351B9</text>
<circle cx="696.2" cy="645" r="1.1" fill="#000" stroke="#000" stroke-width="0" />
<circle cx="696.2" cy="649.6" r="1.1" fill="#000" stroke="#000" stroke-width="0" />
<circle cx="696.2" cy="654.2" r="1.1" fill="#000" stroke="#000" stroke-width="0" />
<rect x="739.2" y="631" width="51" height="102" fill="#fff" stroke="#000" stroke-width="2" />
<text x="754.88" y="682" font-family='"Liberation Sans", sans-serif' font-size="13" font-weight="bold" text-anchor="middle" fill="#000" textLength="88" lengthAdjust="spacingAndGlyphs" transform="rotate(-90 754.88 682)" font-style="italic" >TAKAMISAWA</text>
<text x="770.54" y="682" font-family='"Liberation Sans", sans-serif' font-size="19" font-weight="bold" text-anchor="middle" fill="#000" textLength="72" lengthAdjust="spacingAndGlyphs" transform="rotate(-90 770.54 682)" >RY12W-K</text>
<text x="786.84" y="682" font-family='"Liberation Sans", sans-serif' font-size="11.5" font-weight="bold" text-anchor="middle" fill="#000" textLength="84" lengthAdjust="spacingAndGlyphs" transform="rotate(-90 786.84 682)" >JAPAN1351B9</text>
<circle cx="774.2" cy="645" r="1.1" fill="#000" stroke="#000" stroke-width="0" />
<circle cx="774.2" cy="649.6" r="1.1" fill="#000" stroke="#000" stroke-width="0" />
<circle cx="774.2" cy="654.2" r="1.1" fill="#000" stroke="#000" stroke-width="0" />
<rect x="814.7" y="631" width="51" height="102" fill="#fff" stroke="#000" stroke-width="2" />
<text x="830.38" y="682" font-family='"Liberation Sans", sans-serif' font-size="13" font-weight="bold" text-anchor="middle" fill="#000" textLength="88" lengthAdjust="spacingAndGlyphs" transform="rotate(-90 830.38 682)" font-style="italic" >TAKAMISAWA</text>
<text x="846.04" y="682" font-family='"Liberation Sans", sans-serif' font-size="19" font-weight="bold" text-anchor="middle" fill="#000" textLength="72" lengthAdjust="spacingAndGlyphs" transform="rotate(-90 846.04 682)" >RY12W-K</text>
<text x="862.34" y="682" font-family='"Liberation Sans", sans-serif' font-size="11.5" font-weight="bold" text-anchor="middle" fill="#000" textLength="84" lengthAdjust="spacingAndGlyphs" transform="rotate(-90 862.34 682)" >JAPAN1351B9</text>
<circle cx="849.7" cy="645" r="1.1" fill="#000" stroke="#000" stroke-width="0" />
<circle cx="849.7" cy="649.6" r="1.1" fill="#000" stroke="#000" stroke-width="0" />
<circle cx="849.7" cy="654.2" r="1.1" fill="#000" stroke="#000" stroke-width="0" />
<rect x="892.2" y="631" width="51" height="102" fill="#fff" stroke="#000" stroke-width="2" />
<text x="907.88" y="682" font-family='"Liberation Sans", sans-serif' font-size="13" font-weight="bold" text-anchor="middle" fill="#000" textLength="88" lengthAdjust="spacingAndGlyphs" transform="rotate(-90 907.88 682)" font-style="italic" >TAKAMISAWA</text>
<text x="923.54" y="682" font-family='"Liberation Sans", sans-serif' font-size="19" font-weight="bold" text-anchor="middle" fill="#000" textLength="72" lengthAdjust="spacingAndGlyphs" transform="rotate(-90 923.54 682)" >RY12W-K</text>
<text x="939.84" y="682" font-family='"Liberation Sans", sans-serif' font-size="11.5" font-weight="bold" text-anchor="middle" fill="#000" textLength="84" lengthAdjust="spacingAndGlyphs" transform="rotate(-90 939.84 682)" >JAPAN1351B9</text>
<circle cx="927.2" cy="645" r="1.1" fill="#000" stroke="#000" stroke-width="0" />
<circle cx="927.2" cy="649.6" r="1.1" fill="#000" stroke="#000" stroke-width="0" />
<circle cx="927.2" cy="654.2" r="1.1" fill="#000" stroke="#000" stroke-width="0" />
<circle cx="713.8" cy="752" r="14.5" fill="#fff" stroke="#000" stroke-width="2" />
<text x="713.8" y="750" font-family='"Liberation Sans", sans-serif' font-size="10" font-weight="bold" text-anchor="middle" fill="#000" textLength="21" lengthAdjust="spacingAndGlyphs" >LED</text>
<text x="713.8" y="763" font-family='"Liberation Sans", sans-serif' font-size="11" font-weight="bold" text-anchor="middle" fill="#000" >1</text>
<circle cx="792.8" cy="752" r="14.5" fill="#fff" stroke="#000" stroke-width="2" />
<text x="792.8" y="750" font-family='"Liberation Sans", sans-serif' font-size="10" font-weight="bold" text-anchor="middle" fill="#000" textLength="21" lengthAdjust="spacingAndGlyphs" >LED</text>
<text x="792.8" y="763" font-family='"Liberation Sans", sans-serif' font-size="11" font-weight="bold" text-anchor="middle" fill="#000" >2</text>
<circle cx="869.9" cy="752" r="14.5" fill="#fff" stroke="#000" stroke-width="2" />
<text x="869.9" y="750" font-family='"Liberation Sans", sans-serif' font-size="10" font-weight="bold" text-anchor="middle" fill="#000" textLength="21" lengthAdjust="spacingAndGlyphs" >LED</text>
<text x="869.9" y="763" font-family='"Liberation Sans", sans-serif' font-size="11" font-weight="bold" text-anchor="middle" fill="#000" >3</text>
<circle cx="947.8" cy="752" r="14.5" fill="#fff" stroke="#000" stroke-width="2" />
<text x="947.8" y="750" font-family='"Liberation Sans", sans-serif' font-size="10" font-weight="bold" text-anchor="middle" fill="#000" textLength="21" lengthAdjust="spacingAndGlyphs" >LED</text>
<text x="947.8" y="763" font-family='"Liberation Sans", sans-serif' font-size="11" font-weight="bold" text-anchor="middle" fill="#000" >4</text>
<text x="648.92" y="670.5" font-family='"Liberation Sans", sans-serif' font-size="14.5" font-weight="bold" text-anchor="middle" fill="#000" textLength="142" lengthAdjust="spacingAndGlyphs" transform="rotate(-90 648.92 670.5)" >ELECTRONICS-SALON</text>
<text x="969.3" y="668" font-family='"Liberation Sans", sans-serif' font-size="15" font-weight="bold" text-anchor="middle" fill="#000" textLength="109" lengthAdjust="spacingAndGlyphs" transform="rotate(-90 969.3 668)" >D-256&#160;&#160;VER: 1.0</text>
<rect x="734.9" y="776.7" width="135.03" height="70.1" fill="#fff" stroke="#000" stroke-width="2" />
<line x1="734.9" y1="804.7" x2="869.93" y2="804.7" stroke="#000" stroke-width="1.5" />
<line x1="734.9" y1="808.5" x2="869.93" y2="808.5" stroke="#000" stroke-width="1.5" />
<line x1="734.9" y1="813.3" x2="869.93" y2="813.3" stroke="#000" stroke-width="1.5" />
<line x1="754.19" y1="776.7" x2="754.19" y2="846.8" stroke="#000" stroke-width="1.6" />
<line x1="773.48" y1="776.7" x2="773.48" y2="846.8" stroke="#000" stroke-width="1.6" />
<line x1="792.77" y1="776.7" x2="792.77" y2="846.8" stroke="#000" stroke-width="1.6" />
<line x1="812.06" y1="776.7" x2="812.06" y2="846.8" stroke="#000" stroke-width="1.6" />
<line x1="831.35" y1="776.7" x2="831.35" y2="846.8" stroke="#000" stroke-width="1.6" />
<line x1="850.64" y1="776.7" x2="850.64" y2="846.8" stroke="#000" stroke-width="1.6" />
<circle cx="744.55" cy="792.5" r="8.3" fill="#fff" stroke="#000" stroke-width="1.6" />
<line x1="740.06" y1="798.18" x2="749.03" y2="786.82" stroke="#000" stroke-width="1.76" />
<text x="748.51" y="831" font-family='"Liberation Sans", sans-serif' font-size="11" font-weight="bold" text-anchor="middle" fill="#000" textLength="25" lengthAdjust="spacingAndGlyphs" transform="rotate(-90 748.51 831)" >VCC</text>
<circle cx="763.84" cy="792.5" r="8.3" fill="#fff" stroke="#000" stroke-width="1.6" />
<line x1="759.35" y1="798.18" x2="768.32" y2="786.82" stroke="#000" stroke-width="1.76" />
<text x="767.8" y="831" font-family='"Liberation Sans", sans-serif' font-size="11" font-weight="bold" text-anchor="middle" fill="#000" textLength="25" lengthAdjust="spacingAndGlyphs" transform="rotate(-90 767.8 831)" >GND</text>
<circle cx="783.13" cy="792.5" r="8.3" fill="#fff" stroke="#000" stroke-width="1.6" />
<line x1="778.64" y1="798.18" x2="787.61" y2="786.82" stroke="#000" stroke-width="1.76" />
<text x="787.09" y="831" font-family='"Liberation Sans", sans-serif' font-size="11" font-weight="bold" text-anchor="middle" fill="#000" textLength="25" lengthAdjust="spacingAndGlyphs" transform="rotate(-90 787.09 831)" >N_D</text>
<circle cx="802.42" cy="792.5" r="8.3" fill="#fff" stroke="#000" stroke-width="1.6" />
<line x1="797.93" y1="798.18" x2="806.9" y2="786.82" stroke="#000" stroke-width="1.76" />
<text x="806.38" y="831" font-family='"Liberation Sans", sans-serif' font-size="11" font-weight="bold" text-anchor="middle" fill="#000" textLength="25" lengthAdjust="spacingAndGlyphs" transform="rotate(-90 806.38 831)" >N_C</text>
<circle cx="821.71" cy="792.5" r="8.3" fill="#fff" stroke="#000" stroke-width="1.6" />
<line x1="817.22" y1="798.18" x2="826.19" y2="786.82" stroke="#000" stroke-width="1.76" />
<text x="825.67" y="831" font-family='"Liberation Sans", sans-serif' font-size="11" font-weight="bold" text-anchor="middle" fill="#000" textLength="25" lengthAdjust="spacingAndGlyphs" transform="rotate(-90 825.67 831)" >N_B</text>
<circle cx="841" cy="792.5" r="8.3" fill="#fff" stroke="#000" stroke-width="1.6" />
<line x1="836.51" y1="798.18" x2="845.48" y2="786.82" stroke="#000" stroke-width="1.76" />
<text x="844.96" y="831" font-family='"Liberation Sans", sans-serif' font-size="11" font-weight="bold" text-anchor="middle" fill="#000" textLength="25" lengthAdjust="spacingAndGlyphs" transform="rotate(-90 844.96 831)" >N_A</text>
<circle cx="860.29" cy="792.5" r="8.3" fill="#fff" stroke="#000" stroke-width="1.6" />
<line x1="855.8" y1="798.18" x2="864.77" y2="786.82" stroke="#000" stroke-width="1.76" />
<text x="864.25" y="831" font-family='"Liberation Sans", sans-serif' font-size="11" font-weight="bold" text-anchor="middle" fill="#000" textLength="25" lengthAdjust="spacingAndGlyphs" transform="rotate(-90 864.25 831)" >GND</text>
<rect x="1132.3" y="488" width="404.8" height="365.8" fill="#fff" stroke="#000" stroke-width="2.2" />
<circle cx="1149.5" cy="504.1" r="9.6" fill="#fff" stroke="#000" stroke-width="2.2" />
<line x1="1143" y1="504.1" x2="1156" y2="504.1" stroke="#000" stroke-width="1.6" />
<line x1="1149.5" y1="497.6" x2="1149.5" y2="510.6" stroke="#000" stroke-width="1.6" />
<circle cx="1521.3" cy="504.1" r="9.6" fill="#fff" stroke="#000" stroke-width="2.2" />
<line x1="1514.8" y1="504.1" x2="1527.8" y2="504.1" stroke="#000" stroke-width="1.6" />
<line x1="1521.3" y1="497.6" x2="1521.3" y2="510.6" stroke="#000" stroke-width="1.6" />
<circle cx="1149.1" cy="837" r="9.6" fill="#fff" stroke="#000" stroke-width="2.2" />
<line x1="1142.6" y1="837" x2="1155.6" y2="837" stroke="#000" stroke-width="1.6" />
<line x1="1149.1" y1="830.5" x2="1149.1" y2="843.5" stroke="#000" stroke-width="1.6" />
<circle cx="1521.3" cy="837" r="9.6" fill="#fff" stroke="#000" stroke-width="2.2" />
<line x1="1514.8" y1="837" x2="1527.8" y2="837" stroke="#000" stroke-width="1.6" />
<line x1="1521.3" y1="830.5" x2="1521.3" y2="843.5" stroke="#000" stroke-width="1.6" />
<rect x="1181.3" y="494.3" width="57.6" height="59.7" fill="#fff" stroke="#000" stroke-width="1.8" />
<line x1="1181.3" y1="522.4" x2="1238.9" y2="522.4" stroke="#000" stroke-width="1.6" />
<line x1="1181.3" y1="528.7" x2="1238.9" y2="528.7" stroke="#000" stroke-width="1.6" />
<line x1="1181.3" y1="549.7" x2="1238.9" y2="549.7" stroke="#000" stroke-width="1.2" />
<line x1="1181.3" y1="551.9" x2="1238.9" y2="551.9" stroke="#000" stroke-width="1.2" />
<line x1="1200.5" y1="494.3" x2="1200.5" y2="554" stroke="#000" stroke-width="1.6" />
<line x1="1219.7" y1="494.3" x2="1219.7" y2="554" stroke="#000" stroke-width="1.6" />
<circle cx="1190.9" cy="539.5" r="8.3" fill="#fff" stroke="#000" stroke-width="1.6" />
<line x1="1186.42" y1="545.18" x2="1195.38" y2="533.82" stroke="#000" stroke-width="1.76" />
<text x="1194.68" y="508.3" font-family='"Liberation Sans", sans-serif' font-size="10.5" font-weight="bold" text-anchor="middle" fill="#000" textLength="23" lengthAdjust="spacingAndGlyphs" transform="rotate(-90 1194.68 508.3)" >NC8</text>
<circle cx="1210.1" cy="539.5" r="8.3" fill="#fff" stroke="#000" stroke-width="1.6" />
<line x1="1205.62" y1="545.18" x2="1214.58" y2="533.82" stroke="#000" stroke-width="1.76" />
<text x="1213.88" y="508.3" font-family='"Liberation Sans", sans-serif' font-size="10.5" font-weight="bold" text-anchor="middle" fill="#000" textLength="16" lengthAdjust="spacingAndGlyphs" transform="rotate(-90 1213.88 508.3)" >C8</text>
<circle cx="1229.3" cy="539.5" r="8.3" fill="#fff" stroke="#000" stroke-width="1.6" />
<line x1="1224.82" y1="545.18" x2="1233.78" y2="533.82" stroke="#000" stroke-width="1.76" />
<text x="1233.08" y="508.3" font-family='"Liberation Sans", sans-serif' font-size="10.5" font-weight="bold" text-anchor="middle" fill="#000" textLength="23" lengthAdjust="spacingAndGlyphs" transform="rotate(-90 1233.08 508.3)" >NO8</text>
<rect x="1258.8" y="494.3" width="57.6" height="59.7" fill="#fff" stroke="#000" stroke-width="1.8" />
<line x1="1258.8" y1="522.4" x2="1316.4" y2="522.4" stroke="#000" stroke-width="1.6" />
<line x1="1258.8" y1="528.7" x2="1316.4" y2="528.7" stroke="#000" stroke-width="1.6" />
<line x1="1258.8" y1="549.7" x2="1316.4" y2="549.7" stroke="#000" stroke-width="1.2" />
<line x1="1258.8" y1="551.9" x2="1316.4" y2="551.9" stroke="#000" stroke-width="1.2" />
<line x1="1278" y1="494.3" x2="1278" y2="554" stroke="#000" stroke-width="1.6" />
<line x1="1297.2" y1="494.3" x2="1297.2" y2="554" stroke="#000" stroke-width="1.6" />
<circle cx="1268.4" cy="539.5" r="8.3" fill="#fff" stroke="#000" stroke-width="1.6" />
<line x1="1263.92" y1="545.18" x2="1272.88" y2="533.82" stroke="#000" stroke-width="1.76" />
<text x="1272.18" y="508.3" font-family='"Liberation Sans", sans-serif' font-size="10.5" font-weight="bold" text-anchor="middle" fill="#000" textLength="23" lengthAdjust="spacingAndGlyphs" transform="rotate(-90 1272.18 508.3)" >NC6</text>
<circle cx="1287.6" cy="539.5" r="8.3" fill="#fff" stroke="#000" stroke-width="1.6" />
<line x1="1283.12" y1="545.18" x2="1292.08" y2="533.82" stroke="#000" stroke-width="1.76" />
<text x="1291.38" y="508.3" font-family='"Liberation Sans", sans-serif' font-size="10.5" font-weight="bold" text-anchor="middle" fill="#000" textLength="16" lengthAdjust="spacingAndGlyphs" transform="rotate(-90 1291.38 508.3)" >C6</text>
<circle cx="1306.8" cy="539.5" r="8.3" fill="#fff" stroke="#000" stroke-width="1.6" />
<line x1="1302.32" y1="545.18" x2="1311.28" y2="533.82" stroke="#000" stroke-width="1.76" />
<text x="1310.58" y="508.3" font-family='"Liberation Sans", sans-serif' font-size="10.5" font-weight="bold" text-anchor="middle" fill="#000" textLength="23" lengthAdjust="spacingAndGlyphs" transform="rotate(-90 1310.58 508.3)" >NO6</text>
<rect x="1334.8" y="494.3" width="57.6" height="59.7" fill="#fff" stroke="#000" stroke-width="1.8" />
<line x1="1334.8" y1="522.4" x2="1392.4" y2="522.4" stroke="#000" stroke-width="1.6" />
<line x1="1334.8" y1="528.7" x2="1392.4" y2="528.7" stroke="#000" stroke-width="1.6" />
<line x1="1334.8" y1="549.7" x2="1392.4" y2="549.7" stroke="#000" stroke-width="1.2" />
<line x1="1334.8" y1="551.9" x2="1392.4" y2="551.9" stroke="#000" stroke-width="1.2" />
<line x1="1354" y1="494.3" x2="1354" y2="554" stroke="#000" stroke-width="1.6" />
<line x1="1373.2" y1="494.3" x2="1373.2" y2="554" stroke="#000" stroke-width="1.6" />
<circle cx="1344.4" cy="539.5" r="8.3" fill="#fff" stroke="#000" stroke-width="1.6" />
<line x1="1339.92" y1="545.18" x2="1348.88" y2="533.82" stroke="#000" stroke-width="1.76" />
<text x="1348.18" y="508.3" font-family='"Liberation Sans", sans-serif' font-size="10.5" font-weight="bold" text-anchor="middle" fill="#000" textLength="23" lengthAdjust="spacingAndGlyphs" transform="rotate(-90 1348.18 508.3)" >NC4</text>
<circle cx="1363.6" cy="539.5" r="8.3" fill="#fff" stroke="#000" stroke-width="1.6" />
<line x1="1359.12" y1="545.18" x2="1368.08" y2="533.82" stroke="#000" stroke-width="1.76" />
<text x="1367.38" y="508.3" font-family='"Liberation Sans", sans-serif' font-size="10.5" font-weight="bold" text-anchor="middle" fill="#000" textLength="16" lengthAdjust="spacingAndGlyphs" transform="rotate(-90 1367.38 508.3)" >C4</text>
<circle cx="1382.8" cy="539.5" r="8.3" fill="#fff" stroke="#000" stroke-width="1.6" />
<line x1="1378.32" y1="545.18" x2="1387.28" y2="533.82" stroke="#000" stroke-width="1.76" />
<text x="1386.58" y="508.3" font-family='"Liberation Sans", sans-serif' font-size="10.5" font-weight="bold" text-anchor="middle" fill="#000" textLength="23" lengthAdjust="spacingAndGlyphs" transform="rotate(-90 1386.58 508.3)" >NO4</text>
<rect x="1411.8" y="494.3" width="57.6" height="59.7" fill="#fff" stroke="#000" stroke-width="1.8" />
<line x1="1411.8" y1="522.4" x2="1469.4" y2="522.4" stroke="#000" stroke-width="1.6" />
<line x1="1411.8" y1="528.7" x2="1469.4" y2="528.7" stroke="#000" stroke-width="1.6" />
<line x1="1411.8" y1="549.7" x2="1469.4" y2="549.7" stroke="#000" stroke-width="1.2" />
<line x1="1411.8" y1="551.9" x2="1469.4" y2="551.9" stroke="#000" stroke-width="1.2" />
<line x1="1431" y1="494.3" x2="1431" y2="554" stroke="#000" stroke-width="1.6" />
<line x1="1450.2" y1="494.3" x2="1450.2" y2="554" stroke="#000" stroke-width="1.6" />
<circle cx="1421.4" cy="539.5" r="8.3" fill="#fff" stroke="#000" stroke-width="1.6" />
<line x1="1416.92" y1="545.18" x2="1425.88" y2="533.82" stroke="#000" stroke-width="1.76" />
<text x="1425.18" y="508.3" font-family='"Liberation Sans", sans-serif' font-size="10.5" font-weight="bold" text-anchor="middle" fill="#000" textLength="23" lengthAdjust="spacingAndGlyphs" transform="rotate(-90 1425.18 508.3)" >NC2</text>
<circle cx="1440.6" cy="539.5" r="8.3" fill="#fff" stroke="#000" stroke-width="1.6" />
<line x1="1436.12" y1="545.18" x2="1445.08" y2="533.82" stroke="#000" stroke-width="1.76" />
<text x="1444.38" y="508.3" font-family='"Liberation Sans", sans-serif' font-size="10.5" font-weight="bold" text-anchor="middle" fill="#000" textLength="16" lengthAdjust="spacingAndGlyphs" transform="rotate(-90 1444.38 508.3)" >C2</text>
<circle cx="1459.8" cy="539.5" r="8.3" fill="#fff" stroke="#000" stroke-width="1.6" />
<line x1="1455.32" y1="545.18" x2="1464.28" y2="533.82" stroke="#000" stroke-width="1.76" />
<text x="1463.58" y="508.3" font-family='"Liberation Sans", sans-serif' font-size="10.5" font-weight="bold" text-anchor="middle" fill="#000" textLength="23" lengthAdjust="spacingAndGlyphs" transform="rotate(-90 1463.58 508.3)" >NO2</text>
<rect x="1191.3" y="560" width="57.6" height="60.6" fill="#fff" stroke="#000" stroke-width="1.8" />
<line x1="1191.3" y1="563.8" x2="1248.9" y2="563.8" stroke="#000" stroke-width="1.2" />
<line x1="1191.3" y1="566" x2="1248.9" y2="566" stroke="#000" stroke-width="1.2" />
<line x1="1191.3" y1="587.3" x2="1248.9" y2="587.3" stroke="#000" stroke-width="1.6" />
<line x1="1191.3" y1="591.8" x2="1248.9" y2="591.8" stroke="#000" stroke-width="1.6" />
<line x1="1210.5" y1="560" x2="1210.5" y2="620.6" stroke="#000" stroke-width="1.6" />
<line x1="1229.7" y1="560" x2="1229.7" y2="620.6" stroke="#000" stroke-width="1.6" />
<circle cx="1200.9" cy="576.5" r="8.3" fill="#fff" stroke="#000" stroke-width="1.6" />
<line x1="1196.42" y1="582.18" x2="1205.38" y2="570.82" stroke="#000" stroke-width="1.76" />
<text x="1204.68" y="606" font-family='"Liberation Sans", sans-serif' font-size="10.5" font-weight="bold" text-anchor="middle" fill="#000" textLength="24" lengthAdjust="spacingAndGlyphs" transform="rotate(-90 1204.68 606)" >NC7</text>
<circle cx="1220.1" cy="576.5" r="8.3" fill="#fff" stroke="#000" stroke-width="1.6" />
<line x1="1215.62" y1="582.18" x2="1224.58" y2="570.82" stroke="#000" stroke-width="1.76" />
<text x="1223.88" y="606" font-family='"Liberation Sans", sans-serif' font-size="10.5" font-weight="bold" text-anchor="middle" fill="#000" textLength="16" lengthAdjust="spacingAndGlyphs" transform="rotate(-90 1223.88 606)" >C7</text>
<circle cx="1239.3" cy="576.5" r="8.3" fill="#fff" stroke="#000" stroke-width="1.6" />
<line x1="1234.82" y1="582.18" x2="1243.78" y2="570.82" stroke="#000" stroke-width="1.76" />
<text x="1243.08" y="606" font-family='"Liberation Sans", sans-serif' font-size="10.5" font-weight="bold" text-anchor="middle" fill="#000" textLength="24" lengthAdjust="spacingAndGlyphs" transform="rotate(-90 1243.08 606)" >NO7</text>
<rect x="1268.8" y="560" width="57.6" height="60.6" fill="#fff" stroke="#000" stroke-width="1.8" />
<line x1="1268.8" y1="563.8" x2="1326.4" y2="563.8" stroke="#000" stroke-width="1.2" />
<line x1="1268.8" y1="566" x2="1326.4" y2="566" stroke="#000" stroke-width="1.2" />
<line x1="1268.8" y1="587.3" x2="1326.4" y2="587.3" stroke="#000" stroke-width="1.6" />
<line x1="1268.8" y1="591.8" x2="1326.4" y2="591.8" stroke="#000" stroke-width="1.6" />
<line x1="1288" y1="560" x2="1288" y2="620.6" stroke="#000" stroke-width="1.6" />
<line x1="1307.2" y1="560" x2="1307.2" y2="620.6" stroke="#000" stroke-width="1.6" />
<circle cx="1278.4" cy="576.5" r="8.3" fill="#fff" stroke="#000" stroke-width="1.6" />
<line x1="1273.92" y1="582.18" x2="1282.88" y2="570.82" stroke="#000" stroke-width="1.76" />
<text x="1282.18" y="606" font-family='"Liberation Sans", sans-serif' font-size="10.5" font-weight="bold" text-anchor="middle" fill="#000" textLength="24" lengthAdjust="spacingAndGlyphs" transform="rotate(-90 1282.18 606)" >NC5</text>
<circle cx="1297.6" cy="576.5" r="8.3" fill="#fff" stroke="#000" stroke-width="1.6" />
<line x1="1293.12" y1="582.18" x2="1302.08" y2="570.82" stroke="#000" stroke-width="1.76" />
<text x="1301.38" y="606" font-family='"Liberation Sans", sans-serif' font-size="10.5" font-weight="bold" text-anchor="middle" fill="#000" textLength="16" lengthAdjust="spacingAndGlyphs" transform="rotate(-90 1301.38 606)" >C5</text>
<circle cx="1316.8" cy="576.5" r="8.3" fill="#fff" stroke="#000" stroke-width="1.6" />
<line x1="1312.32" y1="582.18" x2="1321.28" y2="570.82" stroke="#000" stroke-width="1.76" />
<text x="1320.58" y="606" font-family='"Liberation Sans", sans-serif' font-size="10.5" font-weight="bold" text-anchor="middle" fill="#000" textLength="24" lengthAdjust="spacingAndGlyphs" transform="rotate(-90 1320.58 606)" >NO5</text>
<rect x="1346.3" y="560" width="57.6" height="60.6" fill="#fff" stroke="#000" stroke-width="1.8" />
<line x1="1346.3" y1="563.8" x2="1403.9" y2="563.8" stroke="#000" stroke-width="1.2" />
<line x1="1346.3" y1="566" x2="1403.9" y2="566" stroke="#000" stroke-width="1.2" />
<line x1="1346.3" y1="587.3" x2="1403.9" y2="587.3" stroke="#000" stroke-width="1.6" />
<line x1="1346.3" y1="591.8" x2="1403.9" y2="591.8" stroke="#000" stroke-width="1.6" />
<line x1="1365.5" y1="560" x2="1365.5" y2="620.6" stroke="#000" stroke-width="1.6" />
<line x1="1384.7" y1="560" x2="1384.7" y2="620.6" stroke="#000" stroke-width="1.6" />
<circle cx="1355.9" cy="576.5" r="8.3" fill="#fff" stroke="#000" stroke-width="1.6" />
<line x1="1351.42" y1="582.18" x2="1360.38" y2="570.82" stroke="#000" stroke-width="1.76" />
<text x="1359.68" y="606" font-family='"Liberation Sans", sans-serif' font-size="10.5" font-weight="bold" text-anchor="middle" fill="#000" textLength="24" lengthAdjust="spacingAndGlyphs" transform="rotate(-90 1359.68 606)" >NC3</text>
<circle cx="1375.1" cy="576.5" r="8.3" fill="#fff" stroke="#000" stroke-width="1.6" />
<line x1="1370.62" y1="582.18" x2="1379.58" y2="570.82" stroke="#000" stroke-width="1.76" />
<text x="1378.88" y="606" font-family='"Liberation Sans", sans-serif' font-size="10.5" font-weight="bold" text-anchor="middle" fill="#000" textLength="16" lengthAdjust="spacingAndGlyphs" transform="rotate(-90 1378.88 606)" >C3</text>
<circle cx="1394.3" cy="576.5" r="8.3" fill="#fff" stroke="#000" stroke-width="1.6" />
<line x1="1389.82" y1="582.18" x2="1398.78" y2="570.82" stroke="#000" stroke-width="1.76" />
<text x="1398.08" y="606" font-family='"Liberation Sans", sans-serif' font-size="10.5" font-weight="bold" text-anchor="middle" fill="#000" textLength="24" lengthAdjust="spacingAndGlyphs" transform="rotate(-90 1398.08 606)" >NO3</text>
<rect x="1424.3" y="560" width="57.6" height="60.6" fill="#fff" stroke="#000" stroke-width="1.8" />
<line x1="1424.3" y1="563.8" x2="1481.9" y2="563.8" stroke="#000" stroke-width="1.2" />
<line x1="1424.3" y1="566" x2="1481.9" y2="566" stroke="#000" stroke-width="1.2" />
<line x1="1424.3" y1="587.3" x2="1481.9" y2="587.3" stroke="#000" stroke-width="1.6" />
<line x1="1424.3" y1="591.8" x2="1481.9" y2="591.8" stroke="#000" stroke-width="1.6" />
<line x1="1443.5" y1="560" x2="1443.5" y2="620.6" stroke="#000" stroke-width="1.6" />
<line x1="1462.7" y1="560" x2="1462.7" y2="620.6" stroke="#000" stroke-width="1.6" />
<circle cx="1433.9" cy="576.5" r="8.3" fill="#fff" stroke="#000" stroke-width="1.6" />
<line x1="1429.42" y1="582.18" x2="1438.38" y2="570.82" stroke="#000" stroke-width="1.76" />
<text x="1437.68" y="606" font-family='"Liberation Sans", sans-serif' font-size="10.5" font-weight="bold" text-anchor="middle" fill="#000" textLength="24" lengthAdjust="spacingAndGlyphs" transform="rotate(-90 1437.68 606)" >NC1</text>
<circle cx="1453.1" cy="576.5" r="8.3" fill="#fff" stroke="#000" stroke-width="1.6" />
<line x1="1448.62" y1="582.18" x2="1457.58" y2="570.82" stroke="#000" stroke-width="1.76" />
<text x="1456.88" y="606" font-family='"Liberation Sans", sans-serif' font-size="10.5" font-weight="bold" text-anchor="middle" fill="#000" textLength="16" lengthAdjust="spacingAndGlyphs" transform="rotate(-90 1456.88 606)" >C1</text>
<circle cx="1472.3" cy="576.5" r="8.3" fill="#fff" stroke="#000" stroke-width="1.6" />
<line x1="1467.82" y1="582.18" x2="1476.78" y2="570.82" stroke="#000" stroke-width="1.76" />
<text x="1476.08" y="606" font-family='"Liberation Sans", sans-serif' font-size="10.5" font-weight="bold" text-anchor="middle" fill="#000" textLength="24" lengthAdjust="spacingAndGlyphs" transform="rotate(-90 1476.08 606)" >NO1</text>
<rect x="1193.3" y="631" width="51" height="102" fill="#fff" stroke="#000" stroke-width="2" />
<text x="1208.98" y="682" font-family='"Liberation Sans", sans-serif' font-size="13" font-weight="bold" text-anchor="middle" fill="#000" textLength="88" lengthAdjust="spacingAndGlyphs" transform="rotate(-90 1208.98 682)" font-style="italic" >TAKAMISAWA</text>
<text x="1224.64" y="682" font-family='"Liberation Sans", sans-serif' font-size="19" font-weight="bold" text-anchor="middle" fill="#000" textLength="72" lengthAdjust="spacingAndGlyphs" transform="rotate(-90 1224.64 682)" >RY12W-K</text>
<text x="1240.94" y="682" font-family='"Liberation Sans", sans-serif' font-size="11.5" font-weight="bold" text-anchor="middle" fill="#000" textLength="84" lengthAdjust="spacingAndGlyphs" transform="rotate(-90 1240.94 682)" >JAPAN1351B9</text>
<circle cx="1228.3" cy="645" r="1.1" fill="#000" stroke="#000" stroke-width="0" />
<circle cx="1228.3" cy="649.6" r="1.1" fill="#000" stroke="#000" stroke-width="0" />
<circle cx="1228.3" cy="654.2" r="1.1" fill="#000" stroke="#000" stroke-width="0" />
<rect x="1271.3" y="631" width="51" height="102" fill="#fff" stroke="#000" stroke-width="2" />
<text x="1286.98" y="682" font-family='"Liberation Sans", sans-serif' font-size="13" font-weight="bold" text-anchor="middle" fill="#000" textLength="88" lengthAdjust="spacingAndGlyphs" transform="rotate(-90 1286.98 682)" font-style="italic" >TAKAMISAWA</text>
<text x="1302.64" y="682" font-family='"Liberation Sans", sans-serif' font-size="19" font-weight="bold" text-anchor="middle" fill="#000" textLength="72" lengthAdjust="spacingAndGlyphs" transform="rotate(-90 1302.64 682)" >RY12W-K</text>
<text x="1318.94" y="682" font-family='"Liberation Sans", sans-serif' font-size="11.5" font-weight="bold" text-anchor="middle" fill="#000" textLength="84" lengthAdjust="spacingAndGlyphs" transform="rotate(-90 1318.94 682)" >JAPAN1351B9</text>
<circle cx="1306.3" cy="645" r="1.1" fill="#000" stroke="#000" stroke-width="0" />
<circle cx="1306.3" cy="649.6" r="1.1" fill="#000" stroke="#000" stroke-width="0" />
<circle cx="1306.3" cy="654.2" r="1.1" fill="#000" stroke="#000" stroke-width="0" />
<rect x="1346.8" y="631" width="51" height="102" fill="#fff" stroke="#000" stroke-width="2" />
<text x="1362.48" y="682" font-family='"Liberation Sans", sans-serif' font-size="13" font-weight="bold" text-anchor="middle" fill="#000" textLength="88" lengthAdjust="spacingAndGlyphs" transform="rotate(-90 1362.48 682)" font-style="italic" >TAKAMISAWA</text>
<text x="1378.14" y="682" font-family='"Liberation Sans", sans-serif' font-size="19" font-weight="bold" text-anchor="middle" fill="#000" textLength="72" lengthAdjust="spacingAndGlyphs" transform="rotate(-90 1378.14 682)" >RY12W-K</text>
<text x="1394.44" y="682" font-family='"Liberation Sans", sans-serif' font-size="11.5" font-weight="bold" text-anchor="middle" fill="#000" textLength="84" lengthAdjust="spacingAndGlyphs" transform="rotate(-90 1394.44 682)" >JAPAN1351B9</text>
<circle cx="1381.8" cy="645" r="1.1" fill="#000" stroke="#000" stroke-width="0" />
<circle cx="1381.8" cy="649.6" r="1.1" fill="#000" stroke="#000" stroke-width="0" />
<circle cx="1381.8" cy="654.2" r="1.1" fill="#000" stroke="#000" stroke-width="0" />
<rect x="1424.3" y="631" width="51" height="102" fill="#fff" stroke="#000" stroke-width="2" />
<text x="1439.98" y="682" font-family='"Liberation Sans", sans-serif' font-size="13" font-weight="bold" text-anchor="middle" fill="#000" textLength="88" lengthAdjust="spacingAndGlyphs" transform="rotate(-90 1439.98 682)" font-style="italic" >TAKAMISAWA</text>
<text x="1455.64" y="682" font-family='"Liberation Sans", sans-serif' font-size="19" font-weight="bold" text-anchor="middle" fill="#000" textLength="72" lengthAdjust="spacingAndGlyphs" transform="rotate(-90 1455.64 682)" >RY12W-K</text>
<text x="1471.94" y="682" font-family='"Liberation Sans", sans-serif' font-size="11.5" font-weight="bold" text-anchor="middle" fill="#000" textLength="84" lengthAdjust="spacingAndGlyphs" transform="rotate(-90 1471.94 682)" >JAPAN1351B9</text>
<circle cx="1459.3" cy="645" r="1.1" fill="#000" stroke="#000" stroke-width="0" />
<circle cx="1459.3" cy="649.6" r="1.1" fill="#000" stroke="#000" stroke-width="0" />
<circle cx="1459.3" cy="654.2" r="1.1" fill="#000" stroke="#000" stroke-width="0" />
<circle cx="1245.9" cy="752" r="14.5" fill="#fff" stroke="#000" stroke-width="2" />
<text x="1245.9" y="750" font-family='"Liberation Sans", sans-serif' font-size="10" font-weight="bold" text-anchor="middle" fill="#000" textLength="21" lengthAdjust="spacingAndGlyphs" >LED</text>
<text x="1245.9" y="763" font-family='"Liberation Sans", sans-serif' font-size="11" font-weight="bold" text-anchor="middle" fill="#000" >1</text>
<circle cx="1324.9" cy="752" r="14.5" fill="#fff" stroke="#000" stroke-width="2" />
<text x="1324.9" y="750" font-family='"Liberation Sans", sans-serif' font-size="10" font-weight="bold" text-anchor="middle" fill="#000" textLength="21" lengthAdjust="spacingAndGlyphs" >LED</text>
<text x="1324.9" y="763" font-family='"Liberation Sans", sans-serif' font-size="11" font-weight="bold" text-anchor="middle" fill="#000" >2</text>
<circle cx="1402" cy="752" r="14.5" fill="#fff" stroke="#000" stroke-width="2" />
<text x="1402" y="750" font-family='"Liberation Sans", sans-serif' font-size="10" font-weight="bold" text-anchor="middle" fill="#000" textLength="21" lengthAdjust="spacingAndGlyphs" >LED</text>
<text x="1402" y="763" font-family='"Liberation Sans", sans-serif' font-size="11" font-weight="bold" text-anchor="middle" fill="#000" >3</text>
<circle cx="1479.9" cy="752" r="14.5" fill="#fff" stroke="#000" stroke-width="2" />
<text x="1479.9" y="750" font-family='"Liberation Sans", sans-serif' font-size="10" font-weight="bold" text-anchor="middle" fill="#000" textLength="21" lengthAdjust="spacingAndGlyphs" >LED</text>
<text x="1479.9" y="763" font-family='"Liberation Sans", sans-serif' font-size="11" font-weight="bold" text-anchor="middle" fill="#000" >4</text>
<text x="1181.02" y="670.5" font-family='"Liberation Sans", sans-serif' font-size="14.5" font-weight="bold" text-anchor="middle" fill="#000" textLength="142" lengthAdjust="spacingAndGlyphs" transform="rotate(-90 1181.02 670.5)" >ELECTRONICS-SALON</text>
<text x="1501.4" y="668" font-family='"Liberation Sans", sans-serif' font-size="15" font-weight="bold" text-anchor="middle" fill="#000" textLength="109" lengthAdjust="spacingAndGlyphs" transform="rotate(-90 1501.4 668)" >D-256&#160;&#160;VER: 1.0</text>
<rect x="1267" y="776.7" width="135.03" height="70.1" fill="#fff" stroke="#000" stroke-width="2" />
<line x1="1267" y1="804.7" x2="1402.03" y2="804.7" stroke="#000" stroke-width="1.5" />
<line x1="1267" y1="808.5" x2="1402.03" y2="808.5" stroke="#000" stroke-width="1.5" />
<line x1="1267" y1="813.3" x2="1402.03" y2="813.3" stroke="#000" stroke-width="1.5" />
<line x1="1286.29" y1="776.7" x2="1286.29" y2="846.8" stroke="#000" stroke-width="1.6" />
<line x1="1305.58" y1="776.7" x2="1305.58" y2="846.8" stroke="#000" stroke-width="1.6" />
<line x1="1324.87" y1="776.7" x2="1324.87" y2="846.8" stroke="#000" stroke-width="1.6" />
<line x1="1344.16" y1="776.7" x2="1344.16" y2="846.8" stroke="#000" stroke-width="1.6" />
<line x1="1363.45" y1="776.7" x2="1363.45" y2="846.8" stroke="#000" stroke-width="1.6" />
<line x1="1382.74" y1="776.7" x2="1382.74" y2="846.8" stroke="#000" stroke-width="1.6" />
<circle cx="1276.64" cy="792.5" r="8.3" fill="#fff" stroke="#000" stroke-width="1.6" />
<line x1="1272.16" y1="798.18" x2="1281.13" y2="786.82" stroke="#000" stroke-width="1.76" />
<text x="1280.61" y="831" font-family='"Liberation Sans", sans-serif' font-size="11" font-weight="bold" text-anchor="middle" fill="#000" textLength="25" lengthAdjust="spacingAndGlyphs" transform="rotate(-90 1280.61 831)" >VCC</text>
<circle cx="1295.93" cy="792.5" r="8.3" fill="#fff" stroke="#000" stroke-width="1.6" />
<line x1="1291.45" y1="798.18" x2="1300.42" y2="786.82" stroke="#000" stroke-width="1.76" />
<text x="1299.89" y="831" font-family='"Liberation Sans", sans-serif' font-size="11" font-weight="bold" text-anchor="middle" fill="#000" textLength="25" lengthAdjust="spacingAndGlyphs" transform="rotate(-90 1299.89 831)" >GND</text>
<circle cx="1315.22" cy="792.5" r="8.3" fill="#fff" stroke="#000" stroke-width="1.6" />
<line x1="1310.74" y1="798.18" x2="1319.71" y2="786.82" stroke="#000" stroke-width="1.76" />
<text x="1319.18" y="831" font-family='"Liberation Sans", sans-serif' font-size="11" font-weight="bold" text-anchor="middle" fill="#000" textLength="25" lengthAdjust="spacingAndGlyphs" transform="rotate(-90 1319.18 831)" >N_D</text>
<circle cx="1334.52" cy="792.5" r="8.3" fill="#fff" stroke="#000" stroke-width="1.6" />
<line x1="1330.03" y1="798.18" x2="1339" y2="786.82" stroke="#000" stroke-width="1.76" />
<text x="1338.48" y="831" font-family='"Liberation Sans", sans-serif' font-size="11" font-weight="bold" text-anchor="middle" fill="#000" textLength="25" lengthAdjust="spacingAndGlyphs" transform="rotate(-90 1338.48 831)" >N_C</text>
<circle cx="1353.81" cy="792.5" r="8.3" fill="#fff" stroke="#000" stroke-width="1.6" />
<line x1="1349.32" y1="798.18" x2="1358.29" y2="786.82" stroke="#000" stroke-width="1.76" />
<text x="1357.77" y="831" font-family='"Liberation Sans", sans-serif' font-size="11" font-weight="bold" text-anchor="middle" fill="#000" textLength="25" lengthAdjust="spacingAndGlyphs" transform="rotate(-90 1357.77 831)" >N_B</text>
<circle cx="1373.1" cy="792.5" r="8.3" fill="#fff" stroke="#000" stroke-width="1.6" />
<line x1="1368.61" y1="798.18" x2="1377.58" y2="786.82" stroke="#000" stroke-width="1.76" />
<text x="1377.06" y="831" font-family='"Liberation Sans", sans-serif' font-size="11" font-weight="bold" text-anchor="middle" fill="#000" textLength="25" lengthAdjust="spacingAndGlyphs" transform="rotate(-90 1377.06 831)" >N_A</text>
<circle cx="1392.38" cy="792.5" r="8.3" fill="#fff" stroke="#000" stroke-width="1.6" />
<line x1="1387.9" y1="798.18" x2="1396.87" y2="786.82" stroke="#000" stroke-width="1.76" />
<text x="1396.35" y="831" font-family='"Liberation Sans", sans-serif' font-size="11" font-weight="bold" text-anchor="middle" fill="#000" textLength="25" lengthAdjust="spacingAndGlyphs" transform="rotate(-90 1396.35 831)" >GND</text>
<rect x="1663.5" y="488.2" width="481" height="185.3" fill="#fff" stroke="#000" stroke-width="1.8" />
<path d="M1694.4,496.5h0 M1707.2,496.5h0 M1719.9,496.5h0 M1732.7,496.5h0 M1745.5,496.5h0 M1758.2,496.5h0 M1771.0,496.5h0 M1783.8,496.5h0 M1796.6,496.5h0 M1809.3,496.5h0 M1822.1,496.5h0 M1834.9,496.5h0 M1847.6,496.5h0 M1860.4,496.5h0 M1873.2,496.5h0 M1886.0,496.5h0 M1898.7,496.5h0 M1911.5,496.5h0 M1924.3,496.5h0 M1937.0,496.5h0 M1949.8,496.5h0 M1962.6,496.5h0 M1975.3,496.5h0 M1988.1,496.5h0 M2000.9,496.5h0 M2013.7,496.5h0 M2026.4,496.5h0 M2039.2,496.5h0 M2052.0,496.5h0 M2064.7,496.5h0 M2077.5,496.5h0 M2090.3,496.5h0 M2103.0,496.5h0 M2115.8,496.5h0 M2128.6,496.5h0 M2141.3,496.5h0 M1694.4,509.3h0 M1707.2,509.3h0 M1719.9,509.3h0 M1732.7,509.3h0 M1745.5,509.3h0 M1758.2,509.3h0 M1771.0,509.3h0 M1783.8,509.3h0 M1796.6,509.3h0 M1809.3,509.3h0 M1822.1,509.3h0 M1834.9,509.3h0 M1847.6,509.3h0 M1860.4,509.3h0 M1873.2,509.3h0 M1886.0,509.3h0 M1898.7,509.3h0 M1911.5,509.3h0 M1924.3,509.3h0 M1937.0,509.3h0 M1949.8,509.3h0 M1962.6,509.3h0 M1975.3,509.3h0 M1988.1,509.3h0 M2000.9,509.3h0 M2013.7,509.3h0 M2026.4,509.3h0 M2039.2,509.3h0 M2052.0,509.3h0 M2064.7,509.3h0 M2077.5,509.3h0 M2090.3,509.3h0 M2103.0,509.3h0 M2115.8,509.3h0 M2128.6,509.3h0 M2141.3,509.3h0 M1694.4,522.1h0 M1707.2,522.1h0 M1719.9,522.1h0 M1732.7,522.1h0 M1745.5,522.1h0 M1758.2,522.1h0 M1771.0,522.1h0 M1783.8,522.1h0 M1796.6,522.1h0 M1809.3,522.1h0 M1822.1,522.1h0 M1834.9,522.1h0 M1847.6,522.1h0 M1860.4,522.1h0 M1873.2,522.1h0 M1886.0,522.1h0 M1898.7,522.1h0 M1911.5,522.1h0 M1924.3,522.1h0 M1937.0,522.1h0 M1949.8,522.1h0 M1962.6,522.1h0 M1975.3,522.1h0 M1988.1,522.1h0 M2000.9,522.1h0 M2013.7,522.1h0 M2026.4,522.1h0 M2039.2,522.1h0 M2052.0,522.1h0 M2064.7,522.1h0 M2077.5,522.1h0 M2090.3,522.1h0 M2103.0,522.1h0 M2115.8,522.1h0 M2128.6,522.1h0 M2141.3,522.1h0 M1694.4,535.0h0 M1707.2,535.0h0 M1719.9,535.0h0 M1732.7,535.0h0 M1745.5,535.0h0 M1758.2,535.0h0 M1771.0,535.0h0 M1783.8,535.0h0 M1796.6,535.0h0 M1809.3,535.0h0 M1822.1,535.0h0 M1834.9,535.0h0 M1847.6,535.0h0 M1860.4,535.0h0 M1873.2,535.0h0 M1886.0,535.0h0 M1898.7,535.0h0 M1911.5,535.0h0 M1924.3,535.0h0 M1937.0,535.0h0 M1949.8,535.0h0 M1962.6,535.0h0 M1975.3,535.0h0 M1988.1,535.0h0 M2000.9,535.0h0 M2013.7,535.0h0 M2026.4,535.0h0 M2039.2,535.0h0 M2052.0,535.0h0 M2064.7,535.0h0 M2077.5,535.0h0 M2090.3,535.0h0 M2103.0,535.0h0 M2115.8,535.0h0 M2128.6,535.0h0 M2141.3,535.0h0 M1694.4,547.8h0 M1707.2,547.8h0 M1719.9,547.8h0 M1732.7,547.8h0 M1745.5,547.8h0 M1758.2,547.8h0 M1771.0,547.8h0 M1783.8,547.8h0 M1796.6,547.8h0 M1809.3,547.8h0 M1822.1,547.8h0 M1834.9,547.8h0 M1847.6,547.8h0 M1860.4,547.8h0 M1873.2,547.8h0 M1886.0,547.8h0 M1898.7,547.8h0 M1911.5,547.8h0 M1924.3,547.8h0 M1937.0,547.8h0 M1949.8,547.8h0 M1962.6,547.8h0 M1975.3,547.8h0 M1988.1,547.8h0 M2000.9,547.8h0 M2013.7,547.8h0 M2026.4,547.8h0 M2039.2,547.8h0 M2052.0,547.8h0 M2064.7,547.8h0 M2077.5,547.8h0 M2090.3,547.8h0 M2103.0,547.8h0 M2115.8,547.8h0 M2128.6,547.8h0 M2141.3,547.8h0 M1694.4,560.6h0 M1707.2,560.6h0 M1719.9,560.6h0 M1732.7,560.6h0 M1745.5,560.6h0 M1758.2,560.6h0 M1771.0,560.6h0 M1783.8,560.6h0 M1796.6,560.6h0 M1809.3,560.6h0 M1822.1,560.6h0 M1834.9,560.6h0 M1847.6,560.6h0 M1860.4,560.6h0 M1873.2,560.6h0 M1886.0,560.6h0 M1898.7,560.6h0 M1911.5,560.6h0 M1924.3,560.6h0 M1937.0,560.6h0 M1949.8,560.6h0 M1962.6,560.6h0 M1975.3,560.6h0 M1988.1,560.6h0 M2000.9,560.6h0 M2013.7,560.6h0 M2026.4,560.6h0 M2039.2,560.6h0 M2052.0,560.6h0 M2064.7,560.6h0 M2077.5,560.6h0 M2090.3,560.6h0 M2103.0,560.6h0 M2115.8,560.6h0 M2128.6,560.6h0 M2141.3,560.6h0 M1694.4,573.4h0 M1707.2,573.4h0 M1719.9,573.4h0 M1732.7,573.4h0 M1745.5,573.4h0 M1758.2,573.4h0 M1771.0,573.4h0 M1783.8,573.4h0 M1796.6,573.4h0 M1809.3,573.4h0 M1822.1,573.4h0 M1834.9,573.4h0 M1847.6,573.4h0 M1860.4,573.4h0 M1873.2,573.4h0 M1886.0,573.4h0 M1898.7,573.4h0 M1911.5,573.4h0 M1924.3,573.4h0 M1937.0,573.4h0 M1949.8,573.4h0 M1962.6,573.4h0 M1975.3,573.4h0 M1988.1,573.4h0 M2000.9,573.4h0 M2013.7,573.4h0 M2026.4,573.4h0 M2039.2,573.4h0 M2052.0,573.4h0 M2064.7,573.4h0 M2077.5,573.4h0 M2090.3,573.4h0 M2103.0,573.4h0 M2115.8,573.4h0 M2128.6,573.4h0 M2141.3,573.4h0 M1694.4,586.2h0 M1707.2,586.2h0 M1719.9,586.2h0 M1732.7,586.2h0 M1745.5,586.2h0 M1758.2,586.2h0 M1771.0,586.2h0 M1783.8,586.2h0 M1796.6,586.2h0 M1809.3,586.2h0 M1822.1,586.2h0 M1834.9,586.2h0 M1847.6,586.2h0 M1860.4,586.2h0 M1873.2,586.2h0 M1886.0,586.2h0 M1898.7,586.2h0 M1911.5,586.2h0 M1924.3,586.2h0 M1937.0,586.2h0 M1949.8,586.2h0 M1962.6,586.2h0 M1975.3,586.2h0 M1988.1,586.2h0 M2000.9,586.2h0 M2013.7,586.2h0 M2026.4,586.2h0 M2039.2,586.2h0 M2052.0,586.2h0 M2064.7,586.2h0 M2077.5,586.2h0 M2090.3,586.2h0 M2103.0,586.2h0 M2115.8,586.2h0 M2128.6,586.2h0 M2141.3,586.2h0 M1694.4,599.1h0 M1707.2,599.1h0 M1719.9,599.1h0 M1732.7,599.1h0 M1745.5,599.1h0 M1758.2,599.1h0 M1771.0,599.1h0 M1783.8,599.1h0 M1796.6,599.1h0 M1809.3,599.1h0 M1822.1,599.1h0 M1834.9,599.1h0 M1847.6,599.1h0 M1860.4,599.1h0 M1873.2,599.1h0 M1886.0,599.1h0 M1898.7,599.1h0 M1911.5,599.1h0 M1924.3,599.1h0 M1937.0,599.1h0 M1949.8,599.1h0 M1962.6,599.1h0 M1975.3,599.1h0 M1988.1,599.1h0 M2000.9,599.1h0 M2013.7,599.1h0 M2026.4,599.1h0 M2039.2,599.1h0 M2052.0,599.1h0 M2064.7,599.1h0 M2077.5,599.1h0 M2090.3,599.1h0 M2103.0,599.1h0 M2115.8,599.1h0 M2128.6,599.1h0 M2141.3,599.1h0 M1694.4,611.9h0 M1707.2,611.9h0 M1719.9,611.9h0 M1732.7,611.9h0 M1745.5,611.9h0 M1758.2,611.9h0 M1771.0,611.9h0 M1783.8,611.9h0 M1796.6,611.9h0 M1809.3,611.9h0 M1822.1,611.9h0 M1834.9,611.9h0 M1847.6,611.9h0 M1860.4,611.9h0 M1873.2,611.9h0 M1886.0,611.9h0 M1898.7,611.9h0 M1911.5,611.9h0 M1924.3,611.9h0 M1937.0,611.9h0 M1949.8,611.9h0 M1962.6,611.9h0 M1975.3,611.9h0 M1988.1,611.9h0 M2000.9,611.9h0 M2013.7,611.9h0 M2026.4,611.9h0 M2039.2,611.9h0 M2052.0,611.9h0 M2064.7,611.9h0 M2077.5,611.9h0 M2090.3,611.9h0 M2103.0,611.9h0 M2115.8,611.9h0 M2128.6,611.9h0 M2141.3,611.9h0 M1694.4,624.7h0 M1707.2,624.7h0 M1719.9,624.7h0 M1732.7,624.7h0 M1745.5,624.7h0 M1758.2,624.7h0 M1771.0,624.7h0 M1783.8,624.7h0 M1796.6,624.7h0 M1809.3,624.7h0 M1822.1,624.7h0 M1834.9,624.7h0 M1847.6,624.7h0 M1860.4,624.7h0 M1873.2,624.7h0 M1886.0,624.7h0 M1898.7,624.7h0 M1911.5,624.7h0 M1924.3,624.7h0 M1937.0,624.7h0 M1949.8,624.7h0 M1962.6,624.7h0 M1975.3,624.7h0 M1988.1,624.7h0 M2000.9,624.7h0 M2013.7,624.7h0 M2026.4,624.7h0 M2039.2,624.7h0 M2052.0,624.7h0 M2064.7,624.7h0 M2077.5,624.7h0 M2090.3,624.7h0 M2103.0,624.7h0 M2115.8,624.7h0 M2128.6,624.7h0 M2141.3,624.7h0 M1694.4,637.5h0 M1707.2,637.5h0 M1719.9,637.5h0 M1732.7,637.5h0 M1745.5,637.5h0 M1758.2,637.5h0 M1771.0,637.5h0 M1783.8,637.5h0 M1796.6,637.5h0 M1809.3,637.5h0 M1822.1,637.5h0 M1834.9,637.5h0 M1847.6,637.5h0 M1860.4,637.5h0 M1873.2,637.5h0 M1886.0,637.5h0 M1898.7,637.5h0 M1911.5,637.5h0 M1924.3,637.5h0 M1937.0,637.5h0 M1949.8,637.5h0 M1962.6,637.5h0 M1975.3,637.5h0 M1988.1,637.5h0 M2000.9,637.5h0 M2013.7,637.5h0 M2026.4,637.5h0 M2039.2,637.5h0 M2052.0,637.5h0 M2064.7,637.5h0 M2077.5,637.5h0 M2090.3,637.5h0 M2103.0,637.5h0 M2115.8,637.5h0 M2128.6,637.5h0 M2141.3,637.5h0 M1694.4,650.3h0 M1707.2,650.3h0 M1719.9,650.3h0 M1732.7,650.3h0 M1745.5,650.3h0 M1758.2,650.3h0 M1771.0,650.3h0 M1783.8,650.3h0 M1796.6,650.3h0 M1809.3,650.3h0 M1822.1,650.3h0 M1834.9,650.3h0 M1847.6,650.3h0 M1860.4,650.3h0 M1873.2,650.3h0 M1886.0,650.3h0 M1898.7,650.3h0 M1911.5,650.3h0 M1924.3,650.3h0 M1937.0,650.3h0 M1949.8,650.3h0 M1962.6,650.3h0 M1975.3,650.3h0 M1988.1,650.3h0 M2000.9,650.3h0 M2013.7,650.3h0 M2026.4,650.3h0 M2039.2,650.3h0 M2052.0,650.3h0 M2064.7,650.3h0 M2077.5,650.3h0 M2090.3,650.3h0 M2103.0,650.3h0 M2115.8,650.3h0 M2128.6,650.3h0 M2141.3,650.3h0 M1694.4,663.2h0 M1707.2,663.2h0 M1719.9,663.2h0 M1732.7,663.2h0 M1745.5,663.2h0 M1758.2,663.2h0 M1771.0,663.2h0 M1783.8,663.2h0 M1796.6,663.2h0 M1809.3,663.2h0 M1822.1,663.2h0 M1834.9,663.2h0 M1847.6,663.2h0 M1860.4,663.2h0 M1873.2,663.2h0 M1886.0,663.2h0 M1898.7,663.2h0 M1911.5,663.2h0 M1924.3,663.2h0 M1937.0,663.2h0 M1949.8,663.2h0 M1962.6,663.2h0 M1975.3,663.2h0 M1988.1,663.2h0 M2000.9,663.2h0 M2013.7,663.2h0 M2026.4,663.2h0 M2039.2,663.2h0 M2052.0,663.2h0 M2064.7,663.2h0 M2077.5,663.2h0 M2090.3,663.2h0 M2103.0,663.2h0 M2115.8,663.2h0 M2128.6,663.2h0 M2141.3,663.2h0" stroke="#737373" stroke-width="4.8" stroke-linecap="round" fill="none"/>
<circle cx="1673.8" cy="498" r="4" fill="#d4d4d4" stroke="#000" stroke-width="1.3" />
<circle cx="2133.5" cy="498" r="4" fill="#d4d4d4" stroke="#000" stroke-width="1.3" />
<circle cx="1673.8" cy="662.4" r="4" fill="#d4d4d4" stroke="#000" stroke-width="1.3" />
<circle cx="2133.5" cy="662.4" r="4" fill="#d4d4d4" stroke="#000" stroke-width="1.3" />
<line x1="1720.5" y1="505" x2="1720.5" y2="521" stroke="#a0a0a0" stroke-width="3" />
<line x1="1771.5" y1="505" x2="1771.5" y2="521" stroke="#505050" stroke-width="3.5" />
<line x1="1822.7" y1="505" x2="1822.7" y2="521" stroke="#c8c8c8" stroke-width="3.5" />
<line x1="1873.8" y1="505" x2="1873.8" y2="521" stroke="#404848" stroke-width="3.5" />
<line x1="1925" y1="505" x2="1925" y2="521" stroke="#a0b0b0" stroke-width="3" />
<line x1="2001.5" y1="505" x2="2001.5" y2="521" stroke="#000" stroke-width="3.5" />
<line x1="1694.5" y1="559" x2="1694.5" y2="575" stroke="#a0a0a0" stroke-width="3" />
<line x1="1745.4" y1="560" x2="1745.4" y2="575" stroke="#404040" stroke-width="3" />
<line x1="1797" y1="559" x2="1797" y2="595" stroke="#b0b0b0" stroke-width="3" />
<line x1="1848" y1="559" x2="1848" y2="598" stroke="#303838" stroke-width="3.5" />
<line x1="1899" y1="559" x2="1899" y2="598" stroke="#a8b8b8" stroke-width="3" />
<line x1="1950.5" y1="572" x2="1950.5" y2="598" stroke="#303838" stroke-width="3.5" />
<line x1="1976.5" y1="559" x2="1976.5" y2="575" stroke="#000" stroke-width="3" />
<line x1="2001.5" y1="572" x2="2001.5" y2="598" stroke="#90a0a0" stroke-width="3" />
<line x1="1694.5" y1="586" x2="1694.5" y2="598" stroke="#000" stroke-width="3.5" />
<line x1="1720.5" y1="572" x2="1720.5" y2="598" stroke="#000" stroke-width="3.5" />
<line x1="1771.7" y1="585" x2="1771.7" y2="598" stroke="#a0a8a8" stroke-width="3" />
<line x1="1822.7" y1="585" x2="1822.7" y2="598" stroke="#383838" stroke-width="3.5" />
<line x1="1873.8" y1="585" x2="1873.8" y2="598" stroke="#b8c0c0" stroke-width="3" />
<line x1="1925" y1="585" x2="1925" y2="598" stroke="#303838" stroke-width="3.5" />
<line x1="1976.5" y1="585" x2="1976.5" y2="598" stroke="#a0b0b0" stroke-width="3" />
<line x1="1694.5" y1="625" x2="1694.5" y2="650" stroke="#303030" stroke-width="4" />
<line x1="1711.5" y1="560.5" x2="1731.5" y2="560.5" stroke="#404040" stroke-width="4.5" />
<line x1="1762.5" y1="560.5" x2="1782.5" y2="560.5" stroke="#404040" stroke-width="4.5" />
<line x1="1813.5" y1="560.5" x2="1833.5" y2="560.5" stroke="#404040" stroke-width="4.5" />
<line x1="1864.5" y1="560.5" x2="1884.5" y2="560.5" stroke="#404040" stroke-width="4.5" />
<line x1="1915.5" y1="560.5" x2="1935.5" y2="560.5" stroke="#404040" stroke-width="4.5" />
<path d="M1684,524.4 L1730,524.4 L1730,546.4 L1727,546.4 L1727,542.4 L1687,542.4 L1687,546.4 L1684,546.4 Z" fill="#fff" stroke="#000" stroke-width="1.6" />
<ellipse cx="1692.8" cy="532.4" rx="5.8" ry="6.2" fill="#000"/>
<line x1="1692.8" y1="525.9" x2="1692.8" y2="538.9" stroke="#fff" stroke-width="1.8" />
<text x="1727" y="539.9" font-family='"Liberation Serif", serif' font-size="17" font-weight="normal" text-anchor="end" fill="#000" >1</text>
<path d="M1736.5,524.4 L1782.5,524.4 L1782.5,546.4 L1779.5,546.4 L1779.5,542.4 L1739.5,542.4 L1739.5,546.4 L1736.5,546.4 Z" fill="#fff" stroke="#000" stroke-width="1.6" />
<ellipse cx="1745.3" cy="532.4" rx="5.8" ry="6.2" fill="#000"/>
<line x1="1745.3" y1="525.9" x2="1745.3" y2="538.9" stroke="#fff" stroke-width="1.8" />
<text x="1779.5" y="539.9" font-family='"Liberation Serif", serif' font-size="17" font-weight="normal" text-anchor="end" fill="#000" >2</text>
<path d="M1787,524.4 L1833,524.4 L1833,546.4 L1830,546.4 L1830,542.4 L1790,542.4 L1790,546.4 L1787,546.4 Z" fill="#fff" stroke="#000" stroke-width="1.6" />
<ellipse cx="1795.8" cy="532.4" rx="5.8" ry="6.2" fill="#000"/>
<line x1="1795.8" y1="525.9" x2="1795.8" y2="538.9" stroke="#fff" stroke-width="1.8" />
<text x="1830" y="539.9" font-family='"Liberation Serif", serif' font-size="17" font-weight="normal" text-anchor="end" fill="#000" >3</text>
<path d="M1838.5,524.4 L1884.5,524.4 L1884.5,546.4 L1881.5,546.4 L1881.5,542.4 L1841.5,542.4 L1841.5,546.4 L1838.5,546.4 Z" fill="#fff" stroke="#000" stroke-width="1.6" />
<ellipse cx="1847.3" cy="532.4" rx="5.8" ry="6.2" fill="#000"/>
<line x1="1847.3" y1="525.9" x2="1847.3" y2="538.9" stroke="#fff" stroke-width="1.8" />
<text x="1881.5" y="539.9" font-family='"Liberation Serif", serif' font-size="17" font-weight="normal" text-anchor="end" fill="#000" >4</text>
<path d="M1889.4,524.4 L1935.4,524.4 L1935.4,546.4 L1932.4,546.4 L1932.4,542.4 L1892.4,542.4 L1892.4,546.4 L1889.4,546.4 Z" fill="#fff" stroke="#000" stroke-width="1.6" />
<ellipse cx="1898.2" cy="532.4" rx="5.8" ry="6.2" fill="#000"/>
<line x1="1898.2" y1="525.9" x2="1898.2" y2="538.9" stroke="#fff" stroke-width="1.8" />
<text x="1932.4" y="539.9" font-family='"Liberation Serif", serif' font-size="17" font-weight="normal" text-anchor="end" fill="#000" >5</text>
<path d="M1966.5,524.4 L2012.5,524.4 L2012.5,546.4 L2009.5,546.4 L2009.5,542.4 L1969.5,542.4 L1969.5,546.4 L1966.5,546.4 Z" fill="#fff" stroke="#000" stroke-width="1.6" />
<ellipse cx="1975.3" cy="532.4" rx="5.8" ry="6.2" fill="#000"/>
<line x1="1975.3" y1="525.9" x2="1975.3" y2="538.9" stroke="#fff" stroke-width="1.8" />
<text x="2009.5" y="539.9" font-family='"Liberation Serif", serif' font-size="17" font-weight="normal" text-anchor="end" fill="#000" >6</text>
<path d="M1684,600.6 L1730,600.6 L1730,622.6 L1727,622.6 L1727,618.6 L1687,618.6 L1687,622.6 L1684,622.6 Z" fill="#fff" stroke="#000" stroke-width="1.6" />
<ellipse cx="1692.8" cy="608.6" rx="5.8" ry="6.2" fill="#000"/>
<line x1="1692.8" y1="602.1" x2="1692.8" y2="615.1" stroke="#fff" stroke-width="1.8" />
<text x="1727" y="616.1" font-family='"Liberation Serif", serif' font-size="17" font-weight="normal" text-anchor="end" fill="#000" >A</text>
<path d="M1761.5,600.6 L1807.5,600.6 L1807.5,622.6 L1804.5,622.6 L1804.5,618.6 L1764.5,618.6 L1764.5,622.6 L1761.5,622.6 Z" fill="#fff" stroke="#000" stroke-width="1.6" />
<ellipse cx="1770.3" cy="608.6" rx="5.8" ry="6.2" fill="#000"/>
<line x1="1770.3" y1="602.1" x2="1770.3" y2="615.1" stroke="#fff" stroke-width="1.8" />
<text x="1804.5" y="616.1" font-family='"Liberation Serif", serif' font-size="17" font-weight="normal" text-anchor="end" fill="#000" >B</text>
<path d="M1812.6,600.6 L1858.6,600.6 L1858.6,622.6 L1855.6,622.6 L1855.6,618.6 L1815.6,618.6 L1815.6,622.6 L1812.6,622.6 Z" fill="#fff" stroke="#000" stroke-width="1.6" />
<ellipse cx="1821.4" cy="608.6" rx="5.8" ry="6.2" fill="#000"/>
<line x1="1821.4" y1="602.1" x2="1821.4" y2="615.1" stroke="#fff" stroke-width="1.8" />
<text x="1855.6" y="616.1" font-family='"Liberation Serif", serif' font-size="17" font-weight="normal" text-anchor="end" fill="#000" >C</text>
<path d="M1863.5,600.6 L1909.5,600.6 L1909.5,622.6 L1906.5,622.6 L1906.5,618.6 L1866.5,618.6 L1866.5,622.6 L1863.5,622.6 Z" fill="#fff" stroke="#000" stroke-width="1.6" />
<ellipse cx="1872.3" cy="608.6" rx="5.8" ry="6.2" fill="#000"/>
<line x1="1872.3" y1="602.1" x2="1872.3" y2="615.1" stroke="#fff" stroke-width="1.8" />
<text x="1906.5" y="616.1" font-family='"Liberation Serif", serif' font-size="17" font-weight="normal" text-anchor="end" fill="#000" >D</text>
<path d="M1915,600.6 L1961,600.6 L1961,622.6 L1958,622.6 L1958,618.6 L1918,618.6 L1918,622.6 L1915,622.6 Z" fill="#fff" stroke="#000" stroke-width="1.6" />
<ellipse cx="1923.8" cy="608.6" rx="5.8" ry="6.2" fill="#000"/>
<line x1="1923.8" y1="602.1" x2="1923.8" y2="615.1" stroke="#fff" stroke-width="1.8" />
<text x="1958" y="616.1" font-family='"Liberation Serif", serif' font-size="17" font-weight="normal" text-anchor="end" fill="#000" >E</text>
<path d="M1966.5,600.6 L2012.5,600.6 L2012.5,622.6 L2009.5,622.6 L2009.5,618.6 L1969.5,618.6 L1969.5,622.6 L1966.5,622.6 Z" fill="#fff" stroke="#000" stroke-width="1.6" />
<ellipse cx="1975.3" cy="608.6" rx="5.8" ry="6.2" fill="#000"/>
<line x1="1975.3" y1="602.1" x2="1975.3" y2="615.1" stroke="#fff" stroke-width="1.8" />
<text x="2009.5" y="616.1" font-family='"Liberation Serif", serif' font-size="17" font-weight="normal" text-anchor="end" fill="#000" >F</text>
<text x="1680" y="535" font-family='"Liberation Serif", serif' font-size="17" font-weight="bold" text-anchor="middle" fill="#000" textLength="22" lengthAdjust="spacingAndGlyphs" transform="rotate(-90 1680 535)" >RX</text>
<text x="1680" y="612" font-family='"Liberation Serif", serif' font-size="17" font-weight="bold" text-anchor="middle" fill="#000" textLength="22" lengthAdjust="spacingAndGlyphs" transform="rotate(-90 1680 612)" >TX</text>
<rect x="2021.5" y="527" width="101.6" height="31" fill="#fff" stroke="#000" stroke-width="1.6" />
<line x1="2021.5" y1="542" x2="2123.1" y2="542" stroke="#000" stroke-width="1.2" />
<line x1="2046.9" y1="527" x2="2046.9" y2="558" stroke="#000" stroke-width="1.6" />
<line x1="2072.3" y1="527" x2="2072.3" y2="558" stroke="#000" stroke-width="1.6" />
<line x1="2097.7" y1="527" x2="2097.7" y2="558" stroke="#000" stroke-width="1.6" />
<circle cx="2028.15" cy="535" r="4.6" fill="#fff" stroke="#000" stroke-width="1.6" />
<line x1="2025.15" y1="538" x2="2031.15" y2="532" stroke="#000" stroke-width="1.5" />
<text x="2028.15" y="554.5" font-family='"Liberation Serif", serif' font-size="11" font-weight="bold" text-anchor="middle" fill="#000" >1</text>
<circle cx="2040.85" cy="535" r="4.6" fill="#fff" stroke="#000" stroke-width="1.6" />
<line x1="2037.85" y1="538" x2="2043.85" y2="532" stroke="#000" stroke-width="1.5" />
<text x="2040.85" y="554.5" font-family='"Liberation Serif", serif' font-size="11" font-weight="bold" text-anchor="middle" fill="#000" >2</text>
<circle cx="2053.55" cy="535" r="4.6" fill="#fff" stroke="#000" stroke-width="1.6" />
<line x1="2050.55" y1="538" x2="2056.55" y2="532" stroke="#000" stroke-width="1.5" />
<text x="2053.55" y="554.5" font-family='"Liberation Serif", serif' font-size="11" font-weight="bold" text-anchor="middle" fill="#000" >3</text>
<circle cx="2066.25" cy="535" r="4.6" fill="#fff" stroke="#000" stroke-width="1.6" />
<line x1="2063.25" y1="538" x2="2069.25" y2="532" stroke="#000" stroke-width="1.5" />
<text x="2066.25" y="554.5" font-family='"Liberation Serif", serif' font-size="11" font-weight="bold" text-anchor="middle" fill="#000" >4</text>
<circle cx="2078.95" cy="535" r="4.6" fill="#fff" stroke="#000" stroke-width="1.6" />
<line x1="2075.95" y1="538" x2="2081.95" y2="532" stroke="#000" stroke-width="1.5" />
<text x="2078.95" y="554.5" font-family='"Liberation Serif", serif' font-size="11" font-weight="bold" text-anchor="middle" fill="#000" >5</text>
<circle cx="2091.65" cy="535" r="4.6" fill="#fff" stroke="#000" stroke-width="1.6" />
<line x1="2088.65" y1="538" x2="2094.65" y2="532" stroke="#000" stroke-width="1.5" />
<text x="2091.65" y="554.5" font-family='"Liberation Serif", serif' font-size="11" font-weight="bold" text-anchor="middle" fill="#000" >6</text>
<circle cx="2104.35" cy="535" r="4.6" fill="#fff" stroke="#000" stroke-width="1.6" />
<line x1="2101.35" y1="538" x2="2107.35" y2="532" stroke="#000" stroke-width="1.5" />
<text x="2104.35" y="554.5" font-family='"Liberation Serif", serif' font-size="11" font-weight="bold" text-anchor="middle" fill="#000" >7</text>
<circle cx="2117.05" cy="535" r="4.6" fill="#fff" stroke="#000" stroke-width="1.6" />
<line x1="2114.05" y1="538" x2="2120.05" y2="532" stroke="#000" stroke-width="1.5" />
<text x="2117.05" y="554.5" font-family='"Liberation Serif", serif' font-size="11" font-weight="bold" text-anchor="middle" fill="#000" >8</text>
<rect x="2021.5" y="603.5" width="101.6" height="31" fill="#fff" stroke="#000" stroke-width="1.6" />
<line x1="2021.5" y1="618.5" x2="2123.1" y2="618.5" stroke="#000" stroke-width="1.2" />
<line x1="2046.9" y1="603.5" x2="2046.9" y2="634.5" stroke="#000" stroke-width="1.6" />
<line x1="2072.3" y1="603.5" x2="2072.3" y2="634.5" stroke="#000" stroke-width="1.6" />
<line x1="2097.7" y1="603.5" x2="2097.7" y2="634.5" stroke="#000" stroke-width="1.6" />
<circle cx="2028.15" cy="611.5" r="4.6" fill="#fff" stroke="#000" stroke-width="1.6" />
<line x1="2025.15" y1="614.5" x2="2031.15" y2="608.5" stroke="#000" stroke-width="1.5" />
<text x="2028.15" y="631" font-family='"Liberation Serif", serif' font-size="11" font-weight="bold" text-anchor="middle" fill="#000" >1</text>
<circle cx="2040.85" cy="611.5" r="4.6" fill="#fff" stroke="#000" stroke-width="1.6" />
<line x1="2037.85" y1="614.5" x2="2043.85" y2="608.5" stroke="#000" stroke-width="1.5" />
<text x="2040.85" y="631" font-family='"Liberation Serif", serif' font-size="11" font-weight="bold" text-anchor="middle" fill="#000" >2</text>
<circle cx="2053.55" cy="611.5" r="4.6" fill="#fff" stroke="#000" stroke-width="1.6" />
<line x1="2050.55" y1="614.5" x2="2056.55" y2="608.5" stroke="#000" stroke-width="1.5" />
<text x="2053.55" y="631" font-family='"Liberation Serif", serif' font-size="11" font-weight="bold" text-anchor="middle" fill="#000" >3</text>
<circle cx="2066.25" cy="611.5" r="4.6" fill="#fff" stroke="#000" stroke-width="1.6" />
<line x1="2063.25" y1="614.5" x2="2069.25" y2="608.5" stroke="#000" stroke-width="1.5" />
<text x="2066.25" y="631" font-family='"Liberation Serif", serif' font-size="11" font-weight="bold" text-anchor="middle" fill="#000" >4</text>
<circle cx="2078.95" cy="611.5" r="4.6" fill="#fff" stroke="#000" stroke-width="1.6" />
<line x1="2075.95" y1="614.5" x2="2081.95" y2="608.5" stroke="#000" stroke-width="1.5" />
<text x="2078.95" y="631" font-family='"Liberation Serif", serif' font-size="11" font-weight="bold" text-anchor="middle" fill="#000" >5</text>
<circle cx="2091.65" cy="611.5" r="4.6" fill="#fff" stroke="#000" stroke-width="1.6" />
<line x1="2088.65" y1="614.5" x2="2094.65" y2="608.5" stroke="#000" stroke-width="1.5" />
<text x="2091.65" y="631" font-family='"Liberation Serif", serif' font-size="11" font-weight="bold" text-anchor="middle" fill="#000" >6</text>
<circle cx="2104.35" cy="611.5" r="4.6" fill="#fff" stroke="#000" stroke-width="1.6" />
<line x1="2101.35" y1="614.5" x2="2107.35" y2="608.5" stroke="#000" stroke-width="1.5" />
<text x="2104.35" y="631" font-family='"Liberation Serif", serif' font-size="11" font-weight="bold" text-anchor="middle" fill="#000" >7</text>
<circle cx="2117.05" cy="611.5" r="4.6" fill="#fff" stroke="#000" stroke-width="1.6" />
<line x1="2114.05" y1="614.5" x2="2120.05" y2="608.5" stroke="#000" stroke-width="1.5" />
<text x="2117.05" y="631" font-family='"Liberation Serif", serif' font-size="11" font-weight="bold" text-anchor="middle" fill="#000" >8</text>
<path d="M2040.5,634.0 L2040.5,933.5 L2036.0,938.0 L737.5,938.0 L733.0,942.5 L733.0,1783.5 L728.5,1788.0 L704.7,1788.0" fill="none" stroke="#0000ff" stroke-width="4" stroke-linejoin="miter" stroke-linecap="butt"/>
<path d="M2053.2,634.0 L2053.2,951.5 L2048.7,956.0 L755.5,956.0 L751.0,960.5 L751.0,1367.5 L755.5,1372.0 L984.4,1372.0 L988.9,1376.5 L988.9,1783.5 L984.4,1788.0 L960.9,1788.0" fill="none" stroke="#0000ff" stroke-width="4" stroke-linejoin="miter" stroke-linecap="butt"/>
<path d="M2065.9,634.0 L2065.9,969.5 L2061.4,974.0 L773.5,974.0 L769.0,978.5 L769.0,1349.5 L773.5,1354.0 L1240.6,1354.0 L1245.1,1358.5 L1245.1,1783.5 L1240.6,1788.0 L1217.1,1788.0" fill="none" stroke="#0000ff" stroke-width="4" stroke-linejoin="miter" stroke-linecap="butt"/>
<path d="M2078.6,634.0 L2078.6,987.5 L2074.1,992.0 L791.5,992.0 L787.0,996.5 L787.0,1331.5 L791.5,1336.0 L1496.8,1336.0 L1501.3,1340.5 L1501.3,1783.5 L1496.8,1788.0 L1473.3,1788.0" fill="none" stroke="#0000ff" stroke-width="4" stroke-linejoin="miter" stroke-linecap="butt"/>
<path d="M2091.3,634.0 L2091.3,1005.5 L2086.8,1010.0 L809.5,1010.0 L805.0,1014.5 L805.0,1313.5 L809.5,1318.0 L1753.0,1318.0 L1757.5,1322.5 L1757.5,1783.5 L1753.0,1788.0 L1729.5,1788.0" fill="none" stroke="#0000ff" stroke-width="4" stroke-linejoin="miter" stroke-linecap="butt"/>
<rect x="2050.2" y="939" width="6" height="10" fill="#fff" />
<rect x="2062.9" y="939" width="6" height="10" fill="#fff" />
<rect x="2062.9" y="957" width="6" height="10" fill="#fff" />
<rect x="2075.6" y="939" width="6" height="10" fill="#fff" />
<rect x="2075.6" y="957" width="6" height="10" fill="#fff" />
<rect x="2075.6" y="975" width="6" height="10" fill="#fff" />
<rect x="2088.3" y="939" width="6" height="10" fill="#fff" />
<rect x="2088.3" y="957" width="6" height="10" fill="#fff" />
<rect x="2088.3" y="975" width="6" height="10" fill="#fff" />
<rect x="2088.3" y="993" width="6" height="10" fill="#fff" />
<rect x="730" y="1543.4" width="6" height="10" fill="#fff" />
<rect x="985.9" y="1543.4" width="6" height="10" fill="#fff" />
<rect x="1242.1" y="1543.4" width="6" height="10" fill="#fff" />
<rect x="1498.3" y="1543.4" width="6" height="10" fill="#fff" />
<rect x="1754.5" y="1543.4" width="6" height="10" fill="#fff" />
<path d="M2027.8,558.0 L2027.8,589.6 L2032.3,594.1 L2152.9,594.1 L2157.4,598.6 L2157.4,939.5 L2152.9,944.0 L743.5,944.0 L739.0,948.5 L739.0,1543.9 L734.5,1548.4 L704.7,1548.4" fill="none" stroke="#ff0000" stroke-width="4" stroke-linejoin="miter" stroke-linecap="butt"/>
<path d="M2040.5,558.0 L2040.5,583.7 L2045.0,588.2 L2158.9,588.2 L2163.4,592.7 L2163.4,957.5 L2158.9,962.0 L761.5,962.0 L757.0,966.5 L757.0,1361.5 L761.5,1366.0 L990.4,1366.0 L994.9,1370.5 L994.9,1543.9 L990.4,1548.4 L960.9,1548.4" fill="none" stroke="#ff0000" stroke-width="4" stroke-linejoin="miter" stroke-linecap="butt"/>
<path d="M2053.2,558.0 L2053.2,577.8 L2057.7,582.3 L2164.9,582.3 L2169.4,586.8 L2169.4,975.5 L2164.9,980.0 L779.5,980.0 L775.0,984.5 L775.0,1343.5 L779.5,1348.0 L1246.6,1348.0 L1251.1,1352.5 L1251.1,1543.9 L1246.6,1548.4 L1217.1,1548.4" fill="none" stroke="#ff0000" stroke-width="4" stroke-linejoin="miter" stroke-linecap="butt"/>
<path d="M2065.9,558.0 L2065.9,572.0 L2070.4,576.5 L2170.9,576.5 L2175.4,581.0 L2175.4,993.5 L2170.9,998.0 L797.5,998.0 L793.0,1002.5 L793.0,1325.5 L797.5,1330.0 L1502.8,1330.0 L1507.3,1334.5 L1507.3,1543.9 L1502.8,1548.4 L1473.3,1548.4" fill="none" stroke="#ff0000" stroke-width="4" stroke-linejoin="miter" stroke-linecap="butt"/>
<path d="M2078.6,558.0 L2078.6,566.1 L2083.1,570.6 L2176.9,570.6 L2181.4,575.1 L2181.4,1011.5 L2176.9,1016.0 L815.5,1016.0 L811.0,1020.5 L811.0,1307.5 L815.5,1312.0 L1759.0,1312.0 L1763.5,1316.5 L1763.5,1543.9 L1759.0,1548.4 L1729.5,1548.4" fill="none" stroke="#ff0000" stroke-width="4" stroke-linejoin="miter" stroke-linecap="butt"/>
<path d="M2091.3,558.0 L2091.3,561.4 L2094.7,564.7 L2182.9,564.7 L2187.4,569.2 L2187.4,1029.5 L2182.9,1034.0 L833.5,1034.0 L829.0,1038.5 L829.0,1289.5 L833.5,1294.0 L1908.5,1294.0 L1913.0,1289.5 L1913.0,1239.0" fill="none" stroke="#ff0000" stroke-width="4" stroke-linejoin="miter" stroke-linecap="butt"/>
<rect x="2022.8" y="935" width="10" height="6" fill="#fff" />
<rect x="2022.8" y="941" width="10" height="6" fill="#fff" />
<rect x="2022.8" y="953" width="10" height="6" fill="#fff" />
<rect x="2022.8" y="959" width="10" height="6" fill="#fff" />
<rect x="2022.8" y="971" width="10" height="6" fill="#fff" />
<rect x="2022.8" y="977" width="10" height="6" fill="#fff" />
<rect x="2022.8" y="989" width="10" height="6" fill="#fff" />
<rect x="2022.8" y="995" width="10" height="6" fill="#fff" />
<rect x="2022.8" y="1007" width="10" height="6" fill="#fff" />
<rect x="2022.8" y="1013" width="10" height="6" fill="#fff" />
<path d="M2027.8,634.0 L2027.8,1023.5 L2023.3,1028.0 L827.5,1028.0 L823.0,1032.5 L823.0,1295.5 L827.5,1300.0 L1956.5,1300.0 L1961.0,1295.5 L1961.0,1239.0" fill="none" stroke="#0000ff" stroke-width="4" stroke-linejoin="miter" stroke-linecap="butt"/>
<rect x="600.7" y="1436.4" width="112.8" height="464.3" fill="#fff" stroke="#000" stroke-width="2.6" />
<circle cx="628.4" cy="1454.7" r="12" fill="#fff" stroke="#000" stroke-width="2.6" />
<circle cx="684.4" cy="1454.7" r="12" fill="#fff" stroke="#000" stroke-width="2.6" />
<line x1="600.7" y1="1472.8" x2="713.5" y2="1472.8" stroke="#000" stroke-width="1.6" />
<line x1="600.7" y1="1476.4" x2="713.5" y2="1476.4" stroke="#000" stroke-width="1.6" />
<line x1="600.7" y1="1480" x2="713.5" y2="1480" stroke="#000" stroke-width="1.6" />
<circle cx="627.7" cy="1500.7" r="17.5" fill="#fff" stroke="#000" stroke-width="2.6" />
<rect x="623.9" y="1482.7" width="7.6" height="36" fill="#000" />
<rect x="614.7" y="1498.9" width="26" height="3.6" fill="#000" />
<circle cx="686.2" cy="1500.7" r="17.5" fill="#fff" stroke="#000" stroke-width="2.6" />
<rect x="682.4" y="1482.7" width="7.6" height="36" fill="#000" />
<rect x="673.2" y="1498.9" width="26" height="3.6" fill="#000" />
<text x="657.2" y="1508.2" font-family='"Liberation Serif", serif' font-size="21" font-weight="bold" text-anchor="middle" fill="#000" >8</text>
<line x1="600.7" y1="1521.2" x2="713.5" y2="1521.2" stroke="#000" stroke-width="1.6" />
<line x1="600.7" y1="1525.2" x2="713.5" y2="1525.2" stroke="#000" stroke-width="1.6" />
<line x1="600.7" y1="1528.2" x2="713.5" y2="1528.2" stroke="#000" stroke-width="1.6" />
<circle cx="627.7" cy="1548.53" r="17.5" fill="#fff" stroke="#000" stroke-width="2.6" />
<rect x="623.9" y="1530.53" width="7.6" height="36" fill="#000" />
<rect x="614.7" y="1546.73" width="26" height="3.6" fill="#000" />
<circle cx="686.2" cy="1548.53" r="17.5" fill="#fff" stroke="#000" stroke-width="2.6" />
<rect x="682.4" y="1530.53" width="7.6" height="36" fill="#000" />
<rect x="673.2" y="1546.73" width="26" height="3.6" fill="#000" />
<text x="657.2" y="1556.03" font-family='"Liberation Serif", serif' font-size="21" font-weight="bold" text-anchor="middle" fill="#000" >7</text>
<line x1="600.7" y1="1569.03" x2="713.5" y2="1569.03" stroke="#000" stroke-width="1.6" />
<line x1="600.7" y1="1573.03" x2="713.5" y2="1573.03" stroke="#000" stroke-width="1.6" />
<line x1="600.7" y1="1576.03" x2="713.5" y2="1576.03" stroke="#000" stroke-width="1.6" />
<circle cx="627.7" cy="1596.36" r="17.5" fill="#fff" stroke="#000" stroke-width="2.6" />
<rect x="623.9" y="1578.36" width="7.6" height="36" fill="#000" />
<rect x="614.7" y="1594.56" width="26" height="3.6" fill="#000" />
<circle cx="686.2" cy="1596.36" r="17.5" fill="#fff" stroke="#000" stroke-width="2.6" />
<rect x="682.4" y="1578.36" width="7.6" height="36" fill="#000" />
<rect x="673.2" y="1594.56" width="26" height="3.6" fill="#000" />
<text x="657.2" y="1603.86" font-family='"Liberation Serif", serif' font-size="21" font-weight="bold" text-anchor="middle" fill="#000" >6</text>
<line x1="600.7" y1="1616.86" x2="713.5" y2="1616.86" stroke="#000" stroke-width="1.6" />
<line x1="600.7" y1="1620.86" x2="713.5" y2="1620.86" stroke="#000" stroke-width="1.6" />
<line x1="600.7" y1="1623.86" x2="713.5" y2="1623.86" stroke="#000" stroke-width="1.6" />
<circle cx="627.7" cy="1644.19" r="17.5" fill="#fff" stroke="#000" stroke-width="2.6" />
<rect x="623.9" y="1626.19" width="7.6" height="36" fill="#000" />
<rect x="614.7" y="1642.39" width="26" height="3.6" fill="#000" />
<circle cx="686.2" cy="1644.19" r="17.5" fill="#fff" stroke="#000" stroke-width="2.6" />
<rect x="682.4" y="1626.19" width="7.6" height="36" fill="#000" />
<rect x="673.2" y="1642.39" width="26" height="3.6" fill="#000" />
<text x="657.2" y="1651.69" font-family='"Liberation Serif", serif' font-size="21" font-weight="bold" text-anchor="middle" fill="#000" >5</text>
<line x1="600.7" y1="1664.69" x2="713.5" y2="1664.69" stroke="#000" stroke-width="1.6" />
<line x1="600.7" y1="1668.69" x2="713.5" y2="1668.69" stroke="#000" stroke-width="1.6" />
<line x1="600.7" y1="1671.69" x2="713.5" y2="1671.69" stroke="#000" stroke-width="1.6" />
<circle cx="627.7" cy="1692.02" r="17.5" fill="#fff" stroke="#000" stroke-width="2.6" />
<rect x="623.9" y="1674.02" width="7.6" height="36" fill="#000" />
<rect x="614.7" y="1690.22" width="26" height="3.6" fill="#000" />
<circle cx="686.2" cy="1692.02" r="17.5" fill="#fff" stroke="#000" stroke-width="2.6" />
<rect x="682.4" y="1674.02" width="7.6" height="36" fill="#000" />
<rect x="673.2" y="1690.22" width="26" height="3.6" fill="#000" />
<text x="657.2" y="1699.52" font-family='"Liberation Serif", serif' font-size="21" font-weight="bold" text-anchor="middle" fill="#000" >4</text>
<line x1="600.7" y1="1712.52" x2="713.5" y2="1712.52" stroke="#000" stroke-width="1.6" />
<line x1="600.7" y1="1716.52" x2="713.5" y2="1716.52" stroke="#000" stroke-width="1.6" />
<line x1="600.7" y1="1719.52" x2="713.5" y2="1719.52" stroke="#000" stroke-width="1.6" />
<circle cx="627.7" cy="1739.85" r="17.5" fill="#fff" stroke="#000" stroke-width="2.6" />
<rect x="623.9" y="1721.85" width="7.6" height="36" fill="#000" />
<rect x="614.7" y="1738.05" width="26" height="3.6" fill="#000" />
<circle cx="686.2" cy="1739.85" r="17.5" fill="#fff" stroke="#000" stroke-width="2.6" />
<rect x="682.4" y="1721.85" width="7.6" height="36" fill="#000" />
<rect x="673.2" y="1738.05" width="26" height="3.6" fill="#000" />
<text x="657.2" y="1747.35" font-family='"Liberation Serif", serif' font-size="21" font-weight="bold" text-anchor="middle" fill="#000" >3</text>
<line x1="600.7" y1="1760.35" x2="713.5" y2="1760.35" stroke="#000" stroke-width="1.6" />
<line x1="600.7" y1="1764.35" x2="713.5" y2="1764.35" stroke="#000" stroke-width="1.6" />
<line x1="600.7" y1="1767.35" x2="713.5" y2="1767.35" stroke="#000" stroke-width="1.6" />
<circle cx="627.7" cy="1787.68" r="17.5" fill="#fff" stroke="#000" stroke-width="2.6" />
<rect x="623.9" y="1769.68" width="7.6" height="36" fill="#000" />
<rect x="614.7" y="1785.88" width="26" height="3.6" fill="#000" />
<circle cx="686.2" cy="1787.68" r="17.5" fill="#fff" stroke="#000" stroke-width="2.6" />
<rect x="682.4" y="1769.68" width="7.6" height="36" fill="#000" />
<rect x="673.2" y="1785.88" width="26" height="3.6" fill="#000" />
<text x="657.2" y="1795.18" font-family='"Liberation Serif", serif' font-size="21" font-weight="bold" text-anchor="middle" fill="#000" >2</text>
<line x1="600.7" y1="1808.18" x2="713.5" y2="1808.18" stroke="#000" stroke-width="1.6" />
<line x1="600.7" y1="1812.18" x2="713.5" y2="1812.18" stroke="#000" stroke-width="1.6" />
<line x1="600.7" y1="1815.18" x2="713.5" y2="1815.18" stroke="#000" stroke-width="1.6" />
<circle cx="627.7" cy="1835.51" r="17.5" fill="#fff" stroke="#000" stroke-width="2.6" />
<rect x="623.9" y="1817.51" width="7.6" height="36" fill="#000" />
<rect x="614.7" y="1833.71" width="26" height="3.6" fill="#000" />
<circle cx="686.2" cy="1835.51" r="17.5" fill="#fff" stroke="#000" stroke-width="2.6" />
<rect x="682.4" y="1817.51" width="7.6" height="36" fill="#000" />
<rect x="673.2" y="1833.71" width="26" height="3.6" fill="#000" />
<text x="657.2" y="1843.01" font-family='"Liberation Serif", serif' font-size="21" font-weight="bold" text-anchor="middle" fill="#000" >1</text>
<line x1="600.7" y1="1859.9" x2="713.5" y2="1859.9" stroke="#000" stroke-width="1.6" />
<line x1="600.7" y1="1863.4" x2="713.5" y2="1863.4" stroke="#000" stroke-width="1.6" />
<circle cx="628.4" cy="1881.9" r="12" fill="#fff" stroke="#000" stroke-width="2.6" />
<circle cx="684.4" cy="1881.9" r="12" fill="#fff" stroke="#000" stroke-width="2.6" />
<path d="M610.7,1500.7 L557.5,1500.7 L557.5,1856" fill="none" stroke="#000" stroke-width="1.7" />
<path d="M610.7,1548.5 L560.6,1548.5 L560.6,1856" fill="none" stroke="#000" stroke-width="1.7" />
<path d="M610.7,1596.4 L563.7,1596.4 L563.7,1856" fill="none" stroke="#000" stroke-width="1.7" />
<path d="M610.7,1644.2 L566.8,1644.2 L566.8,1856" fill="none" stroke="#000" stroke-width="1.7" />
<path d="M610.7,1692.0 L569.9,1692.0 L569.9,1856" fill="none" stroke="#000" stroke-width="1.7" />
<path d="M610.7,1739.9 L573.0,1739.9 L573.0,1856" fill="none" stroke="#000" stroke-width="1.7" />
<path d="M610.7,1787.7 L576.1,1787.7 L576.1,1856" fill="none" stroke="#000" stroke-width="1.7" />
<path d="M610.7,1835.5 L579.2,1835.5 L579.2,1856" fill="none" stroke="#000" stroke-width="1.7" />
<rect x="549.7" y="1855.6" width="35" height="139" fill="#000" />
<rect x="549.7" y="1960" width="124.6" height="34.6" fill="#000" />
<rect x="640.4" y="1994" width="33.9" height="7" fill="#000" />
<text x="653.2" y="1933.5" font-family='"Liberation Sans", sans-serif' font-size="35" font-weight="bold" text-anchor="middle" fill="#000" textLength="129.6" lengthAdjust="spacingAndGlyphs" stroke="#000" stroke-width="1.8">TB-029</text>
<rect x="634.5" y="2002" width="44.9" height="44" fill="#fff" stroke="#000" stroke-width="4" />
<line x1="632.5" y1="2028.6" x2="681.4" y2="2028.6" stroke="#000" stroke-width="3.5" />
<line x1="641.5" y1="2039" x2="641.5" y2="2045" stroke="#000" stroke-width="1.1" />
<line x1="644.9" y1="2039" x2="644.9" y2="2045" stroke="#000" stroke-width="1.1" />
<line x1="648.3" y1="2039" x2="648.3" y2="2045" stroke="#000" stroke-width="1.1" />
<line x1="651.7" y1="2039" x2="651.7" y2="2045" stroke="#000" stroke-width="1.1" />
<line x1="655.1" y1="2039" x2="655.1" y2="2045" stroke="#000" stroke-width="1.1" />
<line x1="658.5" y1="2039" x2="658.5" y2="2045" stroke="#000" stroke-width="1.1" />
<line x1="661.9" y1="2039" x2="661.9" y2="2045" stroke="#000" stroke-width="1.1" />
<line x1="665.3" y1="2039" x2="665.3" y2="2045" stroke="#000" stroke-width="1.1" />
<line x1="668.7" y1="2039" x2="668.7" y2="2045" stroke="#000" stroke-width="1.1" />
<line x1="640.5" y1="2044.5" x2="669.4" y2="2044.5" stroke="#000" stroke-width="1.2" />
<text x="672.4" y="2040" font-family='"Liberation Serif", serif' font-size="8.5" font-weight="normal" text-anchor="middle" fill="#000" >1</text>
<rect x="602.9" y="2050.5" width="108.4" height="118.4" fill="#fff" stroke="#000" stroke-width="5" />
<text x="657" y="2077.5" font-family='"Liberation Serif", serif' font-size="17" font-weight="bold" text-anchor="middle" fill="#000" textLength="44" lengthAdjust="spacingAndGlyphs" >RJ-45</text>
<text x="657" y="2100.5" font-family='"Liberation Serif", serif' font-size="17" font-weight="bold" text-anchor="middle" fill="#000" textLength="40" lengthAdjust="spacingAndGlyphs" >F - F</text>
<text x="657" y="2122" font-family='"Liberation Serif", serif' font-size="17" font-weight="bold" text-anchor="middle" fill="#000" textLength="90" lengthAdjust="spacingAndGlyphs" >Bulkhead</text>
<rect x="568.2" y="2175.8" width="177.5" height="8.2" fill="#fff" stroke="#000" stroke-width="3.6" />
<rect x="602.9" y="2188" width="108.4" height="50.5" fill="#fff" stroke="#000" stroke-width="5" />
<rect x="634.5" y="2243" width="44.9" height="44.3" fill="#fff" stroke="#000" stroke-width="4" />
<line x1="632.5" y1="2260.7" x2="681.4" y2="2260.7" stroke="#000" stroke-width="3.5" />
<line x1="641.5" y1="2244" x2="641.5" y2="2250" stroke="#000" stroke-width="1.1" />
<line x1="644.9" y1="2244" x2="644.9" y2="2250" stroke="#000" stroke-width="1.1" />
<line x1="648.3" y1="2244" x2="648.3" y2="2250" stroke="#000" stroke-width="1.1" />
<line x1="651.7" y1="2244" x2="651.7" y2="2250" stroke="#000" stroke-width="1.1" />
<line x1="655.1" y1="2244" x2="655.1" y2="2250" stroke="#000" stroke-width="1.1" />
<line x1="658.5" y1="2244" x2="658.5" y2="2250" stroke="#000" stroke-width="1.1" />
<line x1="661.9" y1="2244" x2="661.9" y2="2250" stroke="#000" stroke-width="1.1" />
<line x1="665.3" y1="2244" x2="665.3" y2="2250" stroke="#000" stroke-width="1.1" />
<line x1="668.7" y1="2244" x2="668.7" y2="2250" stroke="#000" stroke-width="1.1" />
<line x1="640.5" y1="2244.5" x2="669.4" y2="2244.5" stroke="#000" stroke-width="1.2" />
<text x="672.4" y="2257" font-family='"Liberation Serif", serif' font-size="8.5" font-weight="normal" text-anchor="middle" fill="#000" >1</text>
<rect x="640.4" y="2289" width="33.9" height="72.4" fill="#000" />
<text x="670" y="2596.3" font-family='"Liberation Serif", serif' font-size="48" font-weight="bold" text-anchor="middle" fill="#000" textLength="405" lengthAdjust="spacingAndGlyphs" transform="rotate(-90 670 2596.3)" >029 Mcs Band Feed</text>
<rect x="856.9" y="1436.4" width="112.8" height="464.3" fill="#fff" stroke="#000" stroke-width="2.6" />
<circle cx="884.6" cy="1454.7" r="12" fill="#fff" stroke="#000" stroke-width="2.6" />
<circle cx="940.6" cy="1454.7" r="12" fill="#fff" stroke="#000" stroke-width="2.6" />
<line x1="856.9" y1="1472.8" x2="969.7" y2="1472.8" stroke="#000" stroke-width="1.6" />
<line x1="856.9" y1="1476.4" x2="969.7" y2="1476.4" stroke="#000" stroke-width="1.6" />
<line x1="856.9" y1="1480" x2="969.7" y2="1480" stroke="#000" stroke-width="1.6" />
<circle cx="883.9" cy="1500.7" r="17.5" fill="#fff" stroke="#000" stroke-width="2.6" />
<rect x="880.1" y="1482.7" width="7.6" height="36" fill="#000" />
<rect x="870.9" y="1498.9" width="26" height="3.6" fill="#000" />
<circle cx="942.4" cy="1500.7" r="17.5" fill="#fff" stroke="#000" stroke-width="2.6" />
<rect x="938.6" y="1482.7" width="7.6" height="36" fill="#000" />
<rect x="929.4" y="1498.9" width="26" height="3.6" fill="#000" />
<text x="913.4" y="1508.2" font-family='"Liberation Serif", serif' font-size="21" font-weight="bold" text-anchor="middle" fill="#000" >8</text>
<line x1="856.9" y1="1521.2" x2="969.7" y2="1521.2" stroke="#000" stroke-width="1.6" />
<line x1="856.9" y1="1525.2" x2="969.7" y2="1525.2" stroke="#000" stroke-width="1.6" />
<line x1="856.9" y1="1528.2" x2="969.7" y2="1528.2" stroke="#000" stroke-width="1.6" />
<circle cx="883.9" cy="1548.53" r="17.5" fill="#fff" stroke="#000" stroke-width="2.6" />
<rect x="880.1" y="1530.53" width="7.6" height="36" fill="#000" />
<rect x="870.9" y="1546.73" width="26" height="3.6" fill="#000" />
<circle cx="942.4" cy="1548.53" r="17.5" fill="#fff" stroke="#000" stroke-width="2.6" />
<rect x="938.6" y="1530.53" width="7.6" height="36" fill="#000" />
<rect x="929.4" y="1546.73" width="26" height="3.6" fill="#000" />
<text x="913.4" y="1556.03" font-family='"Liberation Serif", serif' font-size="21" font-weight="bold" text-anchor="middle" fill="#000" >7</text>
<line x1="856.9" y1="1569.03" x2="969.7" y2="1569.03" stroke="#000" stroke-width="1.6" />
<line x1="856.9" y1="1573.03" x2="969.7" y2="1573.03" stroke="#000" stroke-width="1.6" />
<line x1="856.9" y1="1576.03" x2="969.7" y2="1576.03" stroke="#000" stroke-width="1.6" />
<circle cx="883.9" cy="1596.36" r="17.5" fill="#fff" stroke="#000" stroke-width="2.6" />
<rect x="880.1" y="1578.36" width="7.6" height="36" fill="#000" />
<rect x="870.9" y="1594.56" width="26" height="3.6" fill="#000" />
<circle cx="942.4" cy="1596.36" r="17.5" fill="#fff" stroke="#000" stroke-width="2.6" />
<rect x="938.6" y="1578.36" width="7.6" height="36" fill="#000" />
<rect x="929.4" y="1594.56" width="26" height="3.6" fill="#000" />
<text x="913.4" y="1603.86" font-family='"Liberation Serif", serif' font-size="21" font-weight="bold" text-anchor="middle" fill="#000" >6</text>
<line x1="856.9" y1="1616.86" x2="969.7" y2="1616.86" stroke="#000" stroke-width="1.6" />
<line x1="856.9" y1="1620.86" x2="969.7" y2="1620.86" stroke="#000" stroke-width="1.6" />
<line x1="856.9" y1="1623.86" x2="969.7" y2="1623.86" stroke="#000" stroke-width="1.6" />
<circle cx="883.9" cy="1644.19" r="17.5" fill="#fff" stroke="#000" stroke-width="2.6" />
<rect x="880.1" y="1626.19" width="7.6" height="36" fill="#000" />
<rect x="870.9" y="1642.39" width="26" height="3.6" fill="#000" />
<circle cx="942.4" cy="1644.19" r="17.5" fill="#fff" stroke="#000" stroke-width="2.6" />
<rect x="938.6" y="1626.19" width="7.6" height="36" fill="#000" />
<rect x="929.4" y="1642.39" width="26" height="3.6" fill="#000" />
<text x="913.4" y="1651.69" font-family='"Liberation Serif", serif' font-size="21" font-weight="bold" text-anchor="middle" fill="#000" >5</text>
<line x1="856.9" y1="1664.69" x2="969.7" y2="1664.69" stroke="#000" stroke-width="1.6" />
<line x1="856.9" y1="1668.69" x2="969.7" y2="1668.69" stroke="#000" stroke-width="1.6" />
<line x1="856.9" y1="1671.69" x2="969.7" y2="1671.69" stroke="#000" stroke-width="1.6" />
<circle cx="883.9" cy="1692.02" r="17.5" fill="#fff" stroke="#000" stroke-width="2.6" />
<rect x="880.1" y="1674.02" width="7.6" height="36" fill="#000" />
<rect x="870.9" y="1690.22" width="26" height="3.6" fill="#000" />
<circle cx="942.4" cy="1692.02" r="17.5" fill="#fff" stroke="#000" stroke-width="2.6" />
<rect x="938.6" y="1674.02" width="7.6" height="36" fill="#000" />
<rect x="929.4" y="1690.22" width="26" height="3.6" fill="#000" />
<text x="913.4" y="1699.52" font-family='"Liberation Serif", serif' font-size="21" font-weight="bold" text-anchor="middle" fill="#000" >4</text>
<line x1="856.9" y1="1712.52" x2="969.7" y2="1712.52" stroke="#000" stroke-width="1.6" />
<line x1="856.9" y1="1716.52" x2="969.7" y2="1716.52" stroke="#000" stroke-width="1.6" />
<line x1="856.9" y1="1719.52" x2="969.7" y2="1719.52" stroke="#000" stroke-width="1.6" />
<circle cx="883.9" cy="1739.85" r="17.5" fill="#fff" stroke="#000" stroke-width="2.6" />
<rect x="880.1" y="1721.85" width="7.6" height="36" fill="#000" />
<rect x="870.9" y="1738.05" width="26" height="3.6" fill="#000" />
<circle cx="942.4" cy="1739.85" r="17.5" fill="#fff" stroke="#000" stroke-width="2.6" />
<rect x="938.6" y="1721.85" width="7.6" height="36" fill="#000" />
<rect x="929.4" y="1738.05" width="26" height="3.6" fill="#000" />
<text x="913.4" y="1747.35" font-family='"Liberation Serif", serif' font-size="21" font-weight="bold" text-anchor="middle" fill="#000" >3</text>
<line x1="856.9" y1="1760.35" x2="969.7" y2="1760.35" stroke="#000" stroke-width="1.6" />
<line x1="856.9" y1="1764.35" x2="969.7" y2="1764.35" stroke="#000" stroke-width="1.6" />
<line x1="856.9" y1="1767.35" x2="969.7" y2="1767.35" stroke="#000" stroke-width="1.6" />
<circle cx="883.9" cy="1787.68" r="17.5" fill="#fff" stroke="#000" stroke-width="2.6" />
<rect x="880.1" y="1769.68" width="7.6" height="36" fill="#000" />
<rect x="870.9" y="1785.88" width="26" height="3.6" fill="#000" />
<circle cx="942.4" cy="1787.68" r="17.5" fill="#fff" stroke="#000" stroke-width="2.6" />
<rect x="938.6" y="1769.68" width="7.6" height="36" fill="#000" />
<rect x="929.4" y="1785.88" width="26" height="3.6" fill="#000" />
<text x="913.4" y="1795.18" font-family='"Liberation Serif", serif' font-size="21" font-weight="bold" text-anchor="middle" fill="#000" >2</text>
<line x1="856.9" y1="1808.18" x2="969.7" y2="1808.18" stroke="#000" stroke-width="1.6" />
<line x1="856.9" y1="1812.18" x2="969.7" y2="1812.18" stroke="#000" stroke-width="1.6" />
<line x1="856.9" y1="1815.18" x2="969.7" y2="1815.18" stroke="#000" stroke-width="1.6" />
<circle cx="883.9" cy="1835.51" r="17.5" fill="#fff" stroke="#000" stroke-width="2.6" />
<rect x="880.1" y="1817.51" width="7.6" height="36" fill="#000" />
<rect x="870.9" y="1833.71" width="26" height="3.6" fill="#000" />
<circle cx="942.4" cy="1835.51" r="17.5" fill="#fff" stroke="#000" stroke-width="2.6" />
<rect x="938.6" y="1817.51" width="7.6" height="36" fill="#000" />
<rect x="929.4" y="1833.71" width="26" height="3.6" fill="#000" />
<text x="913.4" y="1843.01" font-family='"Liberation Serif", serif' font-size="21" font-weight="bold" text-anchor="middle" fill="#000" >1</text>
<line x1="856.9" y1="1859.9" x2="969.7" y2="1859.9" stroke="#000" stroke-width="1.6" />
<line x1="856.9" y1="1863.4" x2="969.7" y2="1863.4" stroke="#000" stroke-width="1.6" />
<circle cx="884.6" cy="1881.9" r="12" fill="#fff" stroke="#000" stroke-width="2.6" />
<circle cx="940.6" cy="1881.9" r="12" fill="#fff" stroke="#000" stroke-width="2.6" />
<path d="M866.9000000000001,1500.7 L813.7,1500.7 L813.7,1856" fill="none" stroke="#000" stroke-width="1.7" />
<path d="M866.9000000000001,1548.5 L816.8,1548.5 L816.8,1856" fill="none" stroke="#000" stroke-width="1.7" />
<path d="M866.9000000000001,1596.4 L819.9,1596.4 L819.9,1856" fill="none" stroke="#000" stroke-width="1.7" />
<path d="M866.9000000000001,1644.2 L823.0,1644.2 L823.0,1856" fill="none" stroke="#000" stroke-width="1.7" />
<path d="M866.9000000000001,1692.0 L826.1,1692.0 L826.1,1856" fill="none" stroke="#000" stroke-width="1.7" />
<path d="M866.9000000000001,1739.9 L829.2,1739.9 L829.2,1856" fill="none" stroke="#000" stroke-width="1.7" />
<path d="M866.9000000000001,1787.7 L832.3,1787.7 L832.3,1856" fill="none" stroke="#000" stroke-width="1.7" />
<path d="M866.9000000000001,1835.5 L835.4,1835.5 L835.4,1856" fill="none" stroke="#000" stroke-width="1.7" />
<rect x="805.9" y="1855.6" width="35" height="139" fill="#000" />
<rect x="805.9" y="1960" width="124.6" height="34.6" fill="#000" />
<rect x="896.6" y="1994" width="33.9" height="7" fill="#000" />
<text x="909.4" y="1933.5" font-family='"Liberation Sans", sans-serif' font-size="35" font-weight="bold" text-anchor="middle" fill="#000" textLength="129.6" lengthAdjust="spacingAndGlyphs" stroke="#000" stroke-width="1.8">TB-053</text>
<rect x="890.7" y="2002" width="44.9" height="44" fill="#fff" stroke="#000" stroke-width="4" />
<line x1="888.7" y1="2028.6" x2="937.6" y2="2028.6" stroke="#000" stroke-width="3.5" />
<line x1="897.7" y1="2039" x2="897.7" y2="2045" stroke="#000" stroke-width="1.1" />
<line x1="901.1" y1="2039" x2="901.1" y2="2045" stroke="#000" stroke-width="1.1" />
<line x1="904.5" y1="2039" x2="904.5" y2="2045" stroke="#000" stroke-width="1.1" />
<line x1="907.9" y1="2039" x2="907.9" y2="2045" stroke="#000" stroke-width="1.1" />
<line x1="911.3" y1="2039" x2="911.3" y2="2045" stroke="#000" stroke-width="1.1" />
<line x1="914.7" y1="2039" x2="914.7" y2="2045" stroke="#000" stroke-width="1.1" />
<line x1="918.1" y1="2039" x2="918.1" y2="2045" stroke="#000" stroke-width="1.1" />
<line x1="921.5" y1="2039" x2="921.5" y2="2045" stroke="#000" stroke-width="1.1" />
<line x1="924.9" y1="2039" x2="924.9" y2="2045" stroke="#000" stroke-width="1.1" />
<line x1="896.7" y1="2044.5" x2="925.6" y2="2044.5" stroke="#000" stroke-width="1.2" />
<text x="928.6" y="2040" font-family='"Liberation Serif", serif' font-size="8.5" font-weight="normal" text-anchor="middle" fill="#000" >1</text>
<rect x="859.1" y="2050.5" width="108.4" height="118.4" fill="#fff" stroke="#000" stroke-width="5" />
<text x="913.2" y="2077.5" font-family='"Liberation Serif", serif' font-size="17" font-weight="bold" text-anchor="middle" fill="#000" textLength="44" lengthAdjust="spacingAndGlyphs" >RJ-45</text>
<text x="913.2" y="2100.5" font-family='"Liberation Serif", serif' font-size="17" font-weight="bold" text-anchor="middle" fill="#000" textLength="40" lengthAdjust="spacingAndGlyphs" >F - F</text>
<text x="913.2" y="2122" font-family='"Liberation Serif", serif' font-size="17" font-weight="bold" text-anchor="middle" fill="#000" textLength="90" lengthAdjust="spacingAndGlyphs" >Bulkhead</text>
<rect x="824.4" y="2175.8" width="177.5" height="8.2" fill="#fff" stroke="#000" stroke-width="3.6" />
<rect x="859.1" y="2188" width="108.4" height="50.5" fill="#fff" stroke="#000" stroke-width="5" />
<rect x="890.7" y="2243" width="44.9" height="44.3" fill="#fff" stroke="#000" stroke-width="4" />
<line x1="888.7" y1="2260.7" x2="937.6" y2="2260.7" stroke="#000" stroke-width="3.5" />
<line x1="897.7" y1="2244" x2="897.7" y2="2250" stroke="#000" stroke-width="1.1" />
<line x1="901.1" y1="2244" x2="901.1" y2="2250" stroke="#000" stroke-width="1.1" />
<line x1="904.5" y1="2244" x2="904.5" y2="2250" stroke="#000" stroke-width="1.1" />
<line x1="907.9" y1="2244" x2="907.9" y2="2250" stroke="#000" stroke-width="1.1" />
<line x1="911.3" y1="2244" x2="911.3" y2="2250" stroke="#000" stroke-width="1.1" />
<line x1="914.7" y1="2244" x2="914.7" y2="2250" stroke="#000" stroke-width="1.1" />
<line x1="918.1" y1="2244" x2="918.1" y2="2250" stroke="#000" stroke-width="1.1" />
<line x1="921.5" y1="2244" x2="921.5" y2="2250" stroke="#000" stroke-width="1.1" />
<line x1="924.9" y1="2244" x2="924.9" y2="2250" stroke="#000" stroke-width="1.1" />
<line x1="896.7" y1="2244.5" x2="925.6" y2="2244.5" stroke="#000" stroke-width="1.2" />
<rect x="896.6" y="2289" width="33.9" height="72.4" fill="#000" />
<text x="927.4" y="2596.3" font-family='"Liberation Serif", serif' font-size="48" font-weight="bold" text-anchor="middle" fill="#000" textLength="405" lengthAdjust="spacingAndGlyphs" transform="rotate(-90 927.4 2596.3)" >053 Mcs Band Feed</text>
<rect x="1113.1" y="1436.4" width="112.8" height="464.3" fill="#fff" stroke="#000" stroke-width="2.6" />
<circle cx="1140.8" cy="1454.7" r="12" fill="#fff" stroke="#000" stroke-width="2.6" />
<circle cx="1196.8" cy="1454.7" r="12" fill="#fff" stroke="#000" stroke-width="2.6" />
<line x1="1113.1" y1="1472.8" x2="1225.9" y2="1472.8" stroke="#000" stroke-width="1.6" />
<line x1="1113.1" y1="1476.4" x2="1225.9" y2="1476.4" stroke="#000" stroke-width="1.6" />
<line x1="1113.1" y1="1480" x2="1225.9" y2="1480" stroke="#000" stroke-width="1.6" />
<circle cx="1140.1" cy="1500.7" r="17.5" fill="#fff" stroke="#000" stroke-width="2.6" />
<rect x="1136.3" y="1482.7" width="7.6" height="36" fill="#000" />
<rect x="1127.1" y="1498.9" width="26" height="3.6" fill="#000" />
<circle cx="1198.6" cy="1500.7" r="17.5" fill="#fff" stroke="#000" stroke-width="2.6" />
<rect x="1194.8" y="1482.7" width="7.6" height="36" fill="#000" />
<rect x="1185.6" y="1498.9" width="26" height="3.6" fill="#000" />
<text x="1169.6" y="1508.2" font-family='"Liberation Serif", serif' font-size="21" font-weight="bold" text-anchor="middle" fill="#000" >8</text>
<line x1="1113.1" y1="1521.2" x2="1225.9" y2="1521.2" stroke="#000" stroke-width="1.6" />
<line x1="1113.1" y1="1525.2" x2="1225.9" y2="1525.2" stroke="#000" stroke-width="1.6" />
<line x1="1113.1" y1="1528.2" x2="1225.9" y2="1528.2" stroke="#000" stroke-width="1.6" />
<circle cx="1140.1" cy="1548.53" r="17.5" fill="#fff" stroke="#000" stroke-width="2.6" />
<rect x="1136.3" y="1530.53" width="7.6" height="36" fill="#000" />
<rect x="1127.1" y="1546.73" width="26" height="3.6" fill="#000" />
<circle cx="1198.6" cy="1548.53" r="17.5" fill="#fff" stroke="#000" stroke-width="2.6" />
<rect x="1194.8" y="1530.53" width="7.6" height="36" fill="#000" />
<rect x="1185.6" y="1546.73" width="26" height="3.6" fill="#000" />
<text x="1169.6" y="1556.03" font-family='"Liberation Serif", serif' font-size="21" font-weight="bold" text-anchor="middle" fill="#000" >7</text>
<line x1="1113.1" y1="1569.03" x2="1225.9" y2="1569.03" stroke="#000" stroke-width="1.6" />
<line x1="1113.1" y1="1573.03" x2="1225.9" y2="1573.03" stroke="#000" stroke-width="1.6" />
<line x1="1113.1" y1="1576.03" x2="1225.9" y2="1576.03" stroke="#000" stroke-width="1.6" />
<circle cx="1140.1" cy="1596.36" r="17.5" fill="#fff" stroke="#000" stroke-width="2.6" />
<rect x="1136.3" y="1578.36" width="7.6" height="36" fill="#000" />
<rect x="1127.1" y="1594.56" width="26" height="3.6" fill="#000" />
<circle cx="1198.6" cy="1596.36" r="17.5" fill="#fff" stroke="#000" stroke-width="2.6" />
<rect x="1194.8" y="1578.36" width="7.6" height="36" fill="#000" />
<rect x="1185.6" y="1594.56" width="26" height="3.6" fill="#000" />
<text x="1169.6" y="1603.86" font-family='"Liberation Serif", serif' font-size="21" font-weight="bold" text-anchor="middle" fill="#000" >6</text>
<line x1="1113.1" y1="1616.86" x2="1225.9" y2="1616.86" stroke="#000" stroke-width="1.6" />
<line x1="1113.1" y1="1620.86" x2="1225.9" y2="1620.86" stroke="#000" stroke-width="1.6" />
<line x1="1113.1" y1="1623.86" x2="1225.9" y2="1623.86" stroke="#000" stroke-width="1.6" />
<circle cx="1140.1" cy="1644.19" r="17.5" fill="#fff" stroke="#000" stroke-width="2.6" />
<rect x="1136.3" y="1626.19" width="7.6" height="36" fill="#000" />
<rect x="1127.1" y="1642.39" width="26" height="3.6" fill="#000" />
<circle cx="1198.6" cy="1644.19" r="17.5" fill="#fff" stroke="#000" stroke-width="2.6" />
<rect x="1194.8" y="1626.19" width="7.6" height="36" fill="#000" />
<rect x="1185.6" y="1642.39" width="26" height="3.6" fill="#000" />
<text x="1169.6" y="1651.69" font-family='"Liberation Serif", serif' font-size="21" font-weight="bold" text-anchor="middle" fill="#000" >5</text>
<line x1="1113.1" y1="1664.69" x2="1225.9" y2="1664.69" stroke="#000" stroke-width="1.6" />
<line x1="1113.1" y1="1668.69" x2="1225.9" y2="1668.69" stroke="#000" stroke-width="1.6" />
<line x1="1113.1" y1="1671.69" x2="1225.9" y2="1671.69" stroke="#000" stroke-width="1.6" />
<circle cx="1140.1" cy="1692.02" r="17.5" fill="#fff" stroke="#000" stroke-width="2.6" />
<rect x="1136.3" y="1674.02" width="7.6" height="36" fill="#000" />
<rect x="1127.1" y="1690.22" width="26" height="3.6" fill="#000" />
<circle cx="1198.6" cy="1692.02" r="17.5" fill="#fff" stroke="#000" stroke-width="2.6" />
<rect x="1194.8" y="1674.02" width="7.6" height="36" fill="#000" />
<rect x="1185.6" y="1690.22" width="26" height="3.6" fill="#000" />
<text x="1169.6" y="1699.52" font-family='"Liberation Serif", serif' font-size="21" font-weight="bold" text-anchor="middle" fill="#000" >4</text>
<line x1="1113.1" y1="1712.52" x2="1225.9" y2="1712.52" stroke="#000" stroke-width="1.6" />
<line x1="1113.1" y1="1716.52" x2="1225.9" y2="1716.52" stroke="#000" stroke-width="1.6" />
<line x1="1113.1" y1="1719.52" x2="1225.9" y2="1719.52" stroke="#000" stroke-width="1.6" />
<circle cx="1140.1" cy="1739.85" r="17.5" fill="#fff" stroke="#000" stroke-width="2.6" />
<rect x="1136.3" y="1721.85" width="7.6" height="36" fill="#000" />
<rect x="1127.1" y="1738.05" width="26" height="3.6" fill="#000" />
<circle cx="1198.6" cy="1739.85" r="17.5" fill="#fff" stroke="#000" stroke-width="2.6" />
<rect x="1194.8" y="1721.85" width="7.6" height="36" fill="#000" />
<rect x="1185.6" y="1738.05" width="26" height="3.6" fill="#000" />
<text x="1169.6" y="1747.35" font-family='"Liberation Serif", serif' font-size="21" font-weight="bold" text-anchor="middle" fill="#000" >3</text>
<line x1="1113.1" y1="1760.35" x2="1225.9" y2="1760.35" stroke="#000" stroke-width="1.6" />
<line x1="1113.1" y1="1764.35" x2="1225.9" y2="1764.35" stroke="#000" stroke-width="1.6" />
<line x1="1113.1" y1="1767.35" x2="1225.9" y2="1767.35" stroke="#000" stroke-width="1.6" />
<circle cx="1140.1" cy="1787.68" r="17.5" fill="#fff" stroke="#000" stroke-width="2.6" />
<rect x="1136.3" y="1769.68" width="7.6" height="36" fill="#000" />
<rect x="1127.1" y="1785.88" width="26" height="3.6" fill="#000" />
<circle cx="1198.6" cy="1787.68" r="17.5" fill="#fff" stroke="#000" stroke-width="2.6" />
<rect x="1194.8" y="1769.68" width="7.6" height="36" fill="#000" />
<rect x="1185.6" y="1785.88" width="26" height="3.6" fill="#000" />
<text x="1169.6" y="1795.18" font-family='"Liberation Serif", serif' font-size="21" font-weight="bold" text-anchor="middle" fill="#000" >2</text>
<line x1="1113.1" y1="1808.18" x2="1225.9" y2="1808.18" stroke="#000" stroke-width="1.6" />
<line x1="1113.1" y1="1812.18" x2="1225.9" y2="1812.18" stroke="#000" stroke-width="1.6" />
<line x1="1113.1" y1="1815.18" x2="1225.9" y2="1815.18" stroke="#000" stroke-width="1.6" />
<circle cx="1140.1" cy="1835.51" r="17.5" fill="#fff" stroke="#000" stroke-width="2.6" />
<rect x="1136.3" y="1817.51" width="7.6" height="36" fill="#000" />
<rect x="1127.1" y="1833.71" width="26" height="3.6" fill="#000" />
<circle cx="1198.6" cy="1835.51" r="17.5" fill="#fff" stroke="#000" stroke-width="2.6" />
<rect x="1194.8" y="1817.51" width="7.6" height="36" fill="#000" />
<rect x="1185.6" y="1833.71" width="26" height="3.6" fill="#000" />
<text x="1169.6" y="1843.01" font-family='"Liberation Serif", serif' font-size="21" font-weight="bold" text-anchor="middle" fill="#000" >1</text>
<line x1="1113.1" y1="1859.9" x2="1225.9" y2="1859.9" stroke="#000" stroke-width="1.6" />
<line x1="1113.1" y1="1863.4" x2="1225.9" y2="1863.4" stroke="#000" stroke-width="1.6" />
<circle cx="1140.8" cy="1881.9" r="12" fill="#fff" stroke="#000" stroke-width="2.6" />
<circle cx="1196.8" cy="1881.9" r="12" fill="#fff" stroke="#000" stroke-width="2.6" />
<path d="M1123.1,1500.7 L1069.9,1500.7 L1069.9,1856" fill="none" stroke="#000" stroke-width="1.7" />
<path d="M1123.1,1548.5 L1073.0,1548.5 L1073.0,1856" fill="none" stroke="#000" stroke-width="1.7" />
<path d="M1123.1,1596.4 L1076.1,1596.4 L1076.1,1856" fill="none" stroke="#000" stroke-width="1.7" />
<path d="M1123.1,1644.2 L1079.2,1644.2 L1079.2,1856" fill="none" stroke="#000" stroke-width="1.7" />
<path d="M1123.1,1692.0 L1082.3,1692.0 L1082.3,1856" fill="none" stroke="#000" stroke-width="1.7" />
<path d="M1123.1,1739.9 L1085.4,1739.9 L1085.4,1856" fill="none" stroke="#000" stroke-width="1.7" />
<path d="M1123.1,1787.7 L1088.5,1787.7 L1088.5,1856" fill="none" stroke="#000" stroke-width="1.7" />
<path d="M1123.1,1835.5 L1091.6,1835.5 L1091.6,1856" fill="none" stroke="#000" stroke-width="1.7" />
<rect x="1062.1" y="1855.6" width="35" height="139" fill="#000" />
<rect x="1062.1" y="1960" width="124.6" height="34.6" fill="#000" />
<rect x="1152.8" y="1994" width="33.9" height="7" fill="#000" />
<text x="1165.6" y="1933.5" font-family='"Liberation Sans", sans-serif' font-size="35" font-weight="bold" text-anchor="middle" fill="#000" textLength="129.6" lengthAdjust="spacingAndGlyphs" stroke="#000" stroke-width="1.8">TB-146</text>
<rect x="1146.9" y="2002" width="44.9" height="44" fill="#fff" stroke="#000" stroke-width="4" />
<line x1="1144.9" y1="2028.6" x2="1193.8" y2="2028.6" stroke="#000" stroke-width="3.5" />
<line x1="1153.9" y1="2039" x2="1153.9" y2="2045" stroke="#000" stroke-width="1.1" />
<line x1="1157.3" y1="2039" x2="1157.3" y2="2045" stroke="#000" stroke-width="1.1" />
<line x1="1160.7" y1="2039" x2="1160.7" y2="2045" stroke="#000" stroke-width="1.1" />
<line x1="1164.1" y1="2039" x2="1164.1" y2="2045" stroke="#000" stroke-width="1.1" />
<line x1="1167.5" y1="2039" x2="1167.5" y2="2045" stroke="#000" stroke-width="1.1" />
<line x1="1170.9" y1="2039" x2="1170.9" y2="2045" stroke="#000" stroke-width="1.1" />
<line x1="1174.3" y1="2039" x2="1174.3" y2="2045" stroke="#000" stroke-width="1.1" />
<line x1="1177.7" y1="2039" x2="1177.7" y2="2045" stroke="#000" stroke-width="1.1" />
<line x1="1181.1" y1="2039" x2="1181.1" y2="2045" stroke="#000" stroke-width="1.1" />
<line x1="1152.9" y1="2044.5" x2="1181.8" y2="2044.5" stroke="#000" stroke-width="1.2" />
<text x="1184.8" y="2040" font-family='"Liberation Serif", serif' font-size="8.5" font-weight="normal" text-anchor="middle" fill="#000" >1</text>
<rect x="1115.3" y="2050.5" width="108.4" height="118.4" fill="#fff" stroke="#000" stroke-width="5" />
<text x="1169.4" y="2077.5" font-family='"Liberation Serif", serif' font-size="17" font-weight="bold" text-anchor="middle" fill="#000" textLength="44" lengthAdjust="spacingAndGlyphs" >RJ-45</text>
<text x="1169.4" y="2100.5" font-family='"Liberation Serif", serif' font-size="17" font-weight="bold" text-anchor="middle" fill="#000" textLength="40" lengthAdjust="spacingAndGlyphs" >F - F</text>
<text x="1169.4" y="2122" font-family='"Liberation Serif", serif' font-size="17" font-weight="bold" text-anchor="middle" fill="#000" textLength="90" lengthAdjust="spacingAndGlyphs" >Bulkhead</text>
<rect x="1080.6" y="2175.8" width="177.5" height="8.2" fill="#fff" stroke="#000" stroke-width="3.6" />
<rect x="1115.3" y="2188" width="108.4" height="50.5" fill="#fff" stroke="#000" stroke-width="5" />
<rect x="1146.9" y="2243" width="44.9" height="44.3" fill="#fff" stroke="#000" stroke-width="4" />
<line x1="1144.9" y1="2260.7" x2="1193.8" y2="2260.7" stroke="#000" stroke-width="3.5" />
<line x1="1153.9" y1="2244" x2="1153.9" y2="2250" stroke="#000" stroke-width="1.1" />
<line x1="1157.3" y1="2244" x2="1157.3" y2="2250" stroke="#000" stroke-width="1.1" />
<line x1="1160.7" y1="2244" x2="1160.7" y2="2250" stroke="#000" stroke-width="1.1" />
<line x1="1164.1" y1="2244" x2="1164.1" y2="2250" stroke="#000" stroke-width="1.1" />
<line x1="1167.5" y1="2244" x2="1167.5" y2="2250" stroke="#000" stroke-width="1.1" />
<line x1="1170.9" y1="2244" x2="1170.9" y2="2250" stroke="#000" stroke-width="1.1" />
<line x1="1174.3" y1="2244" x2="1174.3" y2="2250" stroke="#000" stroke-width="1.1" />
<line x1="1177.7" y1="2244" x2="1177.7" y2="2250" stroke="#000" stroke-width="1.1" />
<line x1="1181.1" y1="2244" x2="1181.1" y2="2250" stroke="#000" stroke-width="1.1" />
<line x1="1152.9" y1="2244.5" x2="1181.8" y2="2244.5" stroke="#000" stroke-width="1.2" />
<rect x="1152.8" y="2289" width="33.9" height="72.4" fill="#000" />
<text x="1182.9" y="2596.3" font-family='"Liberation Serif", serif' font-size="48" font-weight="bold" text-anchor="middle" fill="#000" textLength="405" lengthAdjust="spacingAndGlyphs" transform="rotate(-90 1182.9 2596.3)" >146 Mcs Band Feed</text>
<rect x="1369.3" y="1436.4" width="112.8" height="464.3" fill="#fff" stroke="#000" stroke-width="2.6" />
<circle cx="1397" cy="1454.7" r="12" fill="#fff" stroke="#000" stroke-width="2.6" />
<circle cx="1453" cy="1454.7" r="12" fill="#fff" stroke="#000" stroke-width="2.6" />
<line x1="1369.3" y1="1472.8" x2="1482.1" y2="1472.8" stroke="#000" stroke-width="1.6" />
<line x1="1369.3" y1="1476.4" x2="1482.1" y2="1476.4" stroke="#000" stroke-width="1.6" />
<line x1="1369.3" y1="1480" x2="1482.1" y2="1480" stroke="#000" stroke-width="1.6" />
<circle cx="1396.3" cy="1500.7" r="17.5" fill="#fff" stroke="#000" stroke-width="2.6" />
<rect x="1392.5" y="1482.7" width="7.6" height="36" fill="#000" />
<rect x="1383.3" y="1498.9" width="26" height="3.6" fill="#000" />
<circle cx="1454.8" cy="1500.7" r="17.5" fill="#fff" stroke="#000" stroke-width="2.6" />
<rect x="1451" y="1482.7" width="7.6" height="36" fill="#000" />
<rect x="1441.8" y="1498.9" width="26" height="3.6" fill="#000" />
<text x="1425.8" y="1508.2" font-family='"Liberation Serif", serif' font-size="21" font-weight="bold" text-anchor="middle" fill="#000" >8</text>
<line x1="1369.3" y1="1521.2" x2="1482.1" y2="1521.2" stroke="#000" stroke-width="1.6" />
<line x1="1369.3" y1="1525.2" x2="1482.1" y2="1525.2" stroke="#000" stroke-width="1.6" />
<line x1="1369.3" y1="1528.2" x2="1482.1" y2="1528.2" stroke="#000" stroke-width="1.6" />
<circle cx="1396.3" cy="1548.53" r="17.5" fill="#fff" stroke="#000" stroke-width="2.6" />
<rect x="1392.5" y="1530.53" width="7.6" height="36" fill="#000" />
<rect x="1383.3" y="1546.73" width="26" height="3.6" fill="#000" />
<circle cx="1454.8" cy="1548.53" r="17.5" fill="#fff" stroke="#000" stroke-width="2.6" />
<rect x="1451" y="1530.53" width="7.6" height="36" fill="#000" />
<rect x="1441.8" y="1546.73" width="26" height="3.6" fill="#000" />
<text x="1425.8" y="1556.03" font-family='"Liberation Serif", serif' font-size="21" font-weight="bold" text-anchor="middle" fill="#000" >7</text>
<line x1="1369.3" y1="1569.03" x2="1482.1" y2="1569.03" stroke="#000" stroke-width="1.6" />
<line x1="1369.3" y1="1573.03" x2="1482.1" y2="1573.03" stroke="#000" stroke-width="1.6" />
<line x1="1369.3" y1="1576.03" x2="1482.1" y2="1576.03" stroke="#000" stroke-width="1.6" />
<circle cx="1396.3" cy="1596.36" r="17.5" fill="#fff" stroke="#000" stroke-width="2.6" />
<rect x="1392.5" y="1578.36" width="7.6" height="36" fill="#000" />
<rect x="1383.3" y="1594.56" width="26" height="3.6" fill="#000" />
<circle cx="1454.8" cy="1596.36" r="17.5" fill="#fff" stroke="#000" stroke-width="2.6" />
<rect x="1451" y="1578.36" width="7.6" height="36" fill="#000" />
<rect x="1441.8" y="1594.56" width="26" height="3.6" fill="#000" />
<text x="1425.8" y="1603.86" font-family='"Liberation Serif", serif' font-size="21" font-weight="bold" text-anchor="middle" fill="#000" >6</text>
<line x1="1369.3" y1="1616.86" x2="1482.1" y2="1616.86" stroke="#000" stroke-width="1.6" />
<line x1="1369.3" y1="1620.86" x2="1482.1" y2="1620.86" stroke="#000" stroke-width="1.6" />
<line x1="1369.3" y1="1623.86" x2="1482.1" y2="1623.86" stroke="#000" stroke-width="1.6" />
<circle cx="1396.3" cy="1644.19" r="17.5" fill="#fff" stroke="#000" stroke-width="2.6" />
<rect x="1392.5" y="1626.19" width="7.6" height="36" fill="#000" />
<rect x="1383.3" y="1642.39" width="26" height="3.6" fill="#000" />
<circle cx="1454.8" cy="1644.19" r="17.5" fill="#fff" stroke="#000" stroke-width="2.6" />
<rect x="1451" y="1626.19" width="7.6" height="36" fill="#000" />
<rect x="1441.8" y="1642.39" width="26" height="3.6" fill="#000" />
<text x="1425.8" y="1651.69" font-family='"Liberation Serif", serif' font-size="21" font-weight="bold" text-anchor="middle" fill="#000" >5</text>
<line x1="1369.3" y1="1664.69" x2="1482.1" y2="1664.69" stroke="#000" stroke-width="1.6" />
<line x1="1369.3" y1="1668.69" x2="1482.1" y2="1668.69" stroke="#000" stroke-width="1.6" />
<line x1="1369.3" y1="1671.69" x2="1482.1" y2="1671.69" stroke="#000" stroke-width="1.6" />
<circle cx="1396.3" cy="1692.02" r="17.5" fill="#fff" stroke="#000" stroke-width="2.6" />
<rect x="1392.5" y="1674.02" width="7.6" height="36" fill="#000" />
<rect x="1383.3" y="1690.22" width="26" height="3.6" fill="#000" />
<circle cx="1454.8" cy="1692.02" r="17.5" fill="#fff" stroke="#000" stroke-width="2.6" />
<rect x="1451" y="1674.02" width="7.6" height="36" fill="#000" />
<rect x="1441.8" y="1690.22" width="26" height="3.6" fill="#000" />
<text x="1425.8" y="1699.52" font-family='"Liberation Serif", serif' font-size="21" font-weight="bold" text-anchor="middle" fill="#000" >4</text>
<line x1="1369.3" y1="1712.52" x2="1482.1" y2="1712.52" stroke="#000" stroke-width="1.6" />
<line x1="1369.3" y1="1716.52" x2="1482.1" y2="1716.52" stroke="#000" stroke-width="1.6" />
<line x1="1369.3" y1="1719.52" x2="1482.1" y2="1719.52" stroke="#000" stroke-width="1.6" />
<circle cx="1396.3" cy="1739.85" r="17.5" fill="#fff" stroke="#000" stroke-width="2.6" />
<rect x="1392.5" y="1721.85" width="7.6" height="36" fill="#000" />
<rect x="1383.3" y="1738.05" width="26" height="3.6" fill="#000" />
<circle cx="1454.8" cy="1739.85" r="17.5" fill="#fff" stroke="#000" stroke-width="2.6" />
<rect x="1451" y="1721.85" width="7.6" height="36" fill="#000" />
<rect x="1441.8" y="1738.05" width="26" height="3.6" fill="#000" />
<text x="1425.8" y="1747.35" font-family='"Liberation Serif", serif' font-size="21" font-weight="bold" text-anchor="middle" fill="#000" >3</text>
<line x1="1369.3" y1="1760.35" x2="1482.1" y2="1760.35" stroke="#000" stroke-width="1.6" />
<line x1="1369.3" y1="1764.35" x2="1482.1" y2="1764.35" stroke="#000" stroke-width="1.6" />
<line x1="1369.3" y1="1767.35" x2="1482.1" y2="1767.35" stroke="#000" stroke-width="1.6" />
<circle cx="1396.3" cy="1787.68" r="17.5" fill="#fff" stroke="#000" stroke-width="2.6" />
<rect x="1392.5" y="1769.68" width="7.6" height="36" fill="#000" />
<rect x="1383.3" y="1785.88" width="26" height="3.6" fill="#000" />
<circle cx="1454.8" cy="1787.68" r="17.5" fill="#fff" stroke="#000" stroke-width="2.6" />
<rect x="1451" y="1769.68" width="7.6" height="36" fill="#000" />
<rect x="1441.8" y="1785.88" width="26" height="3.6" fill="#000" />
<text x="1425.8" y="1795.18" font-family='"Liberation Serif", serif' font-size="21" font-weight="bold" text-anchor="middle" fill="#000" >2</text>
<line x1="1369.3" y1="1808.18" x2="1482.1" y2="1808.18" stroke="#000" stroke-width="1.6" />
<line x1="1369.3" y1="1812.18" x2="1482.1" y2="1812.18" stroke="#000" stroke-width="1.6" />
<line x1="1369.3" y1="1815.18" x2="1482.1" y2="1815.18" stroke="#000" stroke-width="1.6" />
<circle cx="1396.3" cy="1835.51" r="17.5" fill="#fff" stroke="#000" stroke-width="2.6" />
<rect x="1392.5" y="1817.51" width="7.6" height="36" fill="#000" />
<rect x="1383.3" y="1833.71" width="26" height="3.6" fill="#000" />
<circle cx="1454.8" cy="1835.51" r="17.5" fill="#fff" stroke="#000" stroke-width="2.6" />
<rect x="1451" y="1817.51" width="7.6" height="36" fill="#000" />
<rect x="1441.8" y="1833.71" width="26" height="3.6" fill="#000" />
<text x="1425.8" y="1843.01" font-family='"Liberation Serif", serif' font-size="21" font-weight="bold" text-anchor="middle" fill="#000" >1</text>
<line x1="1369.3" y1="1859.9" x2="1482.1" y2="1859.9" stroke="#000" stroke-width="1.6" />
<line x1="1369.3" y1="1863.4" x2="1482.1" y2="1863.4" stroke="#000" stroke-width="1.6" />
<circle cx="1397" cy="1881.9" r="12" fill="#fff" stroke="#000" stroke-width="2.6" />
<circle cx="1453" cy="1881.9" r="12" fill="#fff" stroke="#000" stroke-width="2.6" />
<path d="M1379.3,1500.7 L1326.1,1500.7 L1326.1,1856" fill="none" stroke="#000" stroke-width="1.7" />
<path d="M1379.3,1548.5 L1329.2,1548.5 L1329.2,1856" fill="none" stroke="#000" stroke-width="1.7" />
<path d="M1379.3,1596.4 L1332.3,1596.4 L1332.3,1856" fill="none" stroke="#000" stroke-width="1.7" />
<path d="M1379.3,1644.2 L1335.4,1644.2 L1335.4,1856" fill="none" stroke="#000" stroke-width="1.7" />
<path d="M1379.3,1692.0 L1338.5,1692.0 L1338.5,1856" fill="none" stroke="#000" stroke-width="1.7" />
<path d="M1379.3,1739.9 L1341.6,1739.9 L1341.6,1856" fill="none" stroke="#000" stroke-width="1.7" />
<path d="M1379.3,1787.7 L1344.7,1787.7 L1344.7,1856" fill="none" stroke="#000" stroke-width="1.7" />
<path d="M1379.3,1835.5 L1347.8,1835.5 L1347.8,1856" fill="none" stroke="#000" stroke-width="1.7" />
<rect x="1318.3" y="1855.6" width="35" height="139" fill="#000" />
<rect x="1318.3" y="1960" width="124.6" height="34.6" fill="#000" />
<rect x="1409" y="1994" width="33.9" height="7" fill="#000" />
<text x="1421.8" y="1933.5" font-family='"Liberation Sans", sans-serif' font-size="35" font-weight="bold" text-anchor="middle" fill="#000" textLength="129.6" lengthAdjust="spacingAndGlyphs" stroke="#000" stroke-width="1.8">TB-224</text>
<rect x="1403.1" y="2002" width="44.9" height="44" fill="#fff" stroke="#000" stroke-width="4" />
<line x1="1401.1" y1="2028.6" x2="1450" y2="2028.6" stroke="#000" stroke-width="3.5" />
<line x1="1410.1" y1="2039" x2="1410.1" y2="2045" stroke="#000" stroke-width="1.1" />
<line x1="1413.5" y1="2039" x2="1413.5" y2="2045" stroke="#000" stroke-width="1.1" />
<line x1="1416.9" y1="2039" x2="1416.9" y2="2045" stroke="#000" stroke-width="1.1" />
<line x1="1420.3" y1="2039" x2="1420.3" y2="2045" stroke="#000" stroke-width="1.1" />
<line x1="1423.7" y1="2039" x2="1423.7" y2="2045" stroke="#000" stroke-width="1.1" />
<line x1="1427.1" y1="2039" x2="1427.1" y2="2045" stroke="#000" stroke-width="1.1" />
<line x1="1430.5" y1="2039" x2="1430.5" y2="2045" stroke="#000" stroke-width="1.1" />
<line x1="1433.9" y1="2039" x2="1433.9" y2="2045" stroke="#000" stroke-width="1.1" />
<line x1="1437.3" y1="2039" x2="1437.3" y2="2045" stroke="#000" stroke-width="1.1" />
<line x1="1409.1" y1="2044.5" x2="1438" y2="2044.5" stroke="#000" stroke-width="1.2" />
<text x="1441" y="2040" font-family='"Liberation Serif", serif' font-size="8.5" font-weight="normal" text-anchor="middle" fill="#000" >1</text>
<rect x="1371.5" y="2050.5" width="108.4" height="118.4" fill="#fff" stroke="#000" stroke-width="5" />
<text x="1425.6" y="2077.5" font-family='"Liberation Serif", serif' font-size="17" font-weight="bold" text-anchor="middle" fill="#000" textLength="44" lengthAdjust="spacingAndGlyphs" >RJ-45</text>
<text x="1425.6" y="2100.5" font-family='"Liberation Serif", serif' font-size="17" font-weight="bold" text-anchor="middle" fill="#000" textLength="40" lengthAdjust="spacingAndGlyphs" >F - F</text>
<text x="1425.6" y="2122" font-family='"Liberation Serif", serif' font-size="17" font-weight="bold" text-anchor="middle" fill="#000" textLength="90" lengthAdjust="spacingAndGlyphs" >Bulkhead</text>
<rect x="1336.8" y="2175.8" width="177.5" height="8.2" fill="#fff" stroke="#000" stroke-width="3.6" />
<rect x="1371.5" y="2188" width="108.4" height="50.5" fill="#fff" stroke="#000" stroke-width="5" />
<rect x="1403.1" y="2243" width="44.9" height="44.3" fill="#fff" stroke="#000" stroke-width="4" />
<line x1="1401.1" y1="2260.7" x2="1450" y2="2260.7" stroke="#000" stroke-width="3.5" />
<line x1="1410.1" y1="2244" x2="1410.1" y2="2250" stroke="#000" stroke-width="1.1" />
<line x1="1413.5" y1="2244" x2="1413.5" y2="2250" stroke="#000" stroke-width="1.1" />
<line x1="1416.9" y1="2244" x2="1416.9" y2="2250" stroke="#000" stroke-width="1.1" />
<line x1="1420.3" y1="2244" x2="1420.3" y2="2250" stroke="#000" stroke-width="1.1" />
<line x1="1423.7" y1="2244" x2="1423.7" y2="2250" stroke="#000" stroke-width="1.1" />
<line x1="1427.1" y1="2244" x2="1427.1" y2="2250" stroke="#000" stroke-width="1.1" />
<line x1="1430.5" y1="2244" x2="1430.5" y2="2250" stroke="#000" stroke-width="1.1" />
<line x1="1433.9" y1="2244" x2="1433.9" y2="2250" stroke="#000" stroke-width="1.1" />
<line x1="1437.3" y1="2244" x2="1437.3" y2="2250" stroke="#000" stroke-width="1.1" />
<line x1="1409.1" y1="2244.5" x2="1438" y2="2244.5" stroke="#000" stroke-width="1.2" />
<rect x="1409" y="2289" width="33.9" height="72.4" fill="#000" />
<text x="1432" y="2596.3" font-family='"Liberation Serif", serif' font-size="48" font-weight="bold" text-anchor="middle" fill="#000" textLength="405" lengthAdjust="spacingAndGlyphs" transform="rotate(-90 1432 2596.3)" >224 Mcs Band Feed</text>
<rect x="1625.5" y="1436.4" width="112.8" height="464.3" fill="#fff" stroke="#000" stroke-width="2.6" />
<circle cx="1653.2" cy="1454.7" r="12" fill="#fff" stroke="#000" stroke-width="2.6" />
<circle cx="1709.2" cy="1454.7" r="12" fill="#fff" stroke="#000" stroke-width="2.6" />
<line x1="1625.5" y1="1472.8" x2="1738.3" y2="1472.8" stroke="#000" stroke-width="1.6" />
<line x1="1625.5" y1="1476.4" x2="1738.3" y2="1476.4" stroke="#000" stroke-width="1.6" />
<line x1="1625.5" y1="1480" x2="1738.3" y2="1480" stroke="#000" stroke-width="1.6" />
<circle cx="1652.5" cy="1500.7" r="17.5" fill="#fff" stroke="#000" stroke-width="2.6" />
<rect x="1648.7" y="1482.7" width="7.6" height="36" fill="#000" />
<rect x="1639.5" y="1498.9" width="26" height="3.6" fill="#000" />
<circle cx="1711" cy="1500.7" r="17.5" fill="#fff" stroke="#000" stroke-width="2.6" />
<rect x="1707.2" y="1482.7" width="7.6" height="36" fill="#000" />
<rect x="1698" y="1498.9" width="26" height="3.6" fill="#000" />
<text x="1682" y="1508.2" font-family='"Liberation Serif", serif' font-size="21" font-weight="bold" text-anchor="middle" fill="#000" >8</text>
<line x1="1625.5" y1="1521.2" x2="1738.3" y2="1521.2" stroke="#000" stroke-width="1.6" />
<line x1="1625.5" y1="1525.2" x2="1738.3" y2="1525.2" stroke="#000" stroke-width="1.6" />
<line x1="1625.5" y1="1528.2" x2="1738.3" y2="1528.2" stroke="#000" stroke-width="1.6" />
<circle cx="1652.5" cy="1548.53" r="17.5" fill="#fff" stroke="#000" stroke-width="2.6" />
<rect x="1648.7" y="1530.53" width="7.6" height="36" fill="#000" />
<rect x="1639.5" y="1546.73" width="26" height="3.6" fill="#000" />
<circle cx="1711" cy="1548.53" r="17.5" fill="#fff" stroke="#000" stroke-width="2.6" />
<rect x="1707.2" y="1530.53" width="7.6" height="36" fill="#000" />
<rect x="1698" y="1546.73" width="26" height="3.6" fill="#000" />
<text x="1682" y="1556.03" font-family='"Liberation Serif", serif' font-size="21" font-weight="bold" text-anchor="middle" fill="#000" >7</text>
<line x1="1625.5" y1="1569.03" x2="1738.3" y2="1569.03" stroke="#000" stroke-width="1.6" />
<line x1="1625.5" y1="1573.03" x2="1738.3" y2="1573.03" stroke="#000" stroke-width="1.6" />
<line x1="1625.5" y1="1576.03" x2="1738.3" y2="1576.03" stroke="#000" stroke-width="1.6" />
<circle cx="1652.5" cy="1596.36" r="17.5" fill="#fff" stroke="#000" stroke-width="2.6" />
<rect x="1648.7" y="1578.36" width="7.6" height="36" fill="#000" />
<rect x="1639.5" y="1594.56" width="26" height="3.6" fill="#000" />
<circle cx="1711" cy="1596.36" r="17.5" fill="#fff" stroke="#000" stroke-width="2.6" />
<rect x="1707.2" y="1578.36" width="7.6" height="36" fill="#000" />
<rect x="1698" y="1594.56" width="26" height="3.6" fill="#000" />
<text x="1682" y="1603.86" font-family='"Liberation Serif", serif' font-size="21" font-weight="bold" text-anchor="middle" fill="#000" >6</text>
<line x1="1625.5" y1="1616.86" x2="1738.3" y2="1616.86" stroke="#000" stroke-width="1.6" />
<line x1="1625.5" y1="1620.86" x2="1738.3" y2="1620.86" stroke="#000" stroke-width="1.6" />
<line x1="1625.5" y1="1623.86" x2="1738.3" y2="1623.86" stroke="#000" stroke-width="1.6" />
<circle cx="1652.5" cy="1644.19" r="17.5" fill="#fff" stroke="#000" stroke-width="2.6" />
<rect x="1648.7" y="1626.19" width="7.6" height="36" fill="#000" />
<rect x="1639.5" y="1642.39" width="26" height="3.6" fill="#000" />
<circle cx="1711" cy="1644.19" r="17.5" fill="#fff" stroke="#000" stroke-width="2.6" />
<rect x="1707.2" y="1626.19" width="7.6" height="36" fill="#000" />
<rect x="1698" y="1642.39" width="26" height="3.6" fill="#000" />
<text x="1682" y="1651.69" font-family='"Liberation Serif", serif' font-size="21" font-weight="bold" text-anchor="middle" fill="#000" >5</text>
<line x1="1625.5" y1="1664.69" x2="1738.3" y2="1664.69" stroke="#000" stroke-width="1.6" />
<line x1="1625.5" y1="1668.69" x2="1738.3" y2="1668.69" stroke="#000" stroke-width="1.6" />
<line x1="1625.5" y1="1671.69" x2="1738.3" y2="1671.69" stroke="#000" stroke-width="1.6" />
<circle cx="1652.5" cy="1692.02" r="17.5" fill="#fff" stroke="#000" stroke-width="2.6" />
<rect x="1648.7" y="1674.02" width="7.6" height="36" fill="#000" />
<rect x="1639.5" y="1690.22" width="26" height="3.6" fill="#000" />
<circle cx="1711" cy="1692.02" r="17.5" fill="#fff" stroke="#000" stroke-width="2.6" />
<rect x="1707.2" y="1674.02" width="7.6" height="36" fill="#000" />
<rect x="1698" y="1690.22" width="26" height="3.6" fill="#000" />
<text x="1682" y="1699.52" font-family='"Liberation Serif", serif' font-size="21" font-weight="bold" text-anchor="middle" fill="#000" >4</text>
<line x1="1625.5" y1="1712.52" x2="1738.3" y2="1712.52" stroke="#000" stroke-width="1.6" />
<line x1="1625.5" y1="1716.52" x2="1738.3" y2="1716.52" stroke="#000" stroke-width="1.6" />
<line x1="1625.5" y1="1719.52" x2="1738.3" y2="1719.52" stroke="#000" stroke-width="1.6" />
<circle cx="1652.5" cy="1739.85" r="17.5" fill="#fff" stroke="#000" stroke-width="2.6" />
<rect x="1648.7" y="1721.85" width="7.6" height="36" fill="#000" />
<rect x="1639.5" y="1738.05" width="26" height="3.6" fill="#000" />
<circle cx="1711" cy="1739.85" r="17.5" fill="#fff" stroke="#000" stroke-width="2.6" />
<rect x="1707.2" y="1721.85" width="7.6" height="36" fill="#000" />
<rect x="1698" y="1738.05" width="26" height="3.6" fill="#000" />
<text x="1682" y="1747.35" font-family='"Liberation Serif", serif' font-size="21" font-weight="bold" text-anchor="middle" fill="#000" >3</text>
<line x1="1625.5" y1="1760.35" x2="1738.3" y2="1760.35" stroke="#000" stroke-width="1.6" />
<line x1="1625.5" y1="1764.35" x2="1738.3" y2="1764.35" stroke="#000" stroke-width="1.6" />
<line x1="1625.5" y1="1767.35" x2="1738.3" y2="1767.35" stroke="#000" stroke-width="1.6" />
<circle cx="1652.5" cy="1787.68" r="17.5" fill="#fff" stroke="#000" stroke-width="2.6" />
<rect x="1648.7" y="1769.68" width="7.6" height="36" fill="#000" />
<rect x="1639.5" y="1785.88" width="26" height="3.6" fill="#000" />
<circle cx="1711" cy="1787.68" r="17.5" fill="#fff" stroke="#000" stroke-width="2.6" />
<rect x="1707.2" y="1769.68" width="7.6" height="36" fill="#000" />
<rect x="1698" y="1785.88" width="26" height="3.6" fill="#000" />
<text x="1682" y="1795.18" font-family='"Liberation Serif", serif' font-size="21" font-weight="bold" text-anchor="middle" fill="#000" >2</text>
<line x1="1625.5" y1="1808.18" x2="1738.3" y2="1808.18" stroke="#000" stroke-width="1.6" />
<line x1="1625.5" y1="1812.18" x2="1738.3" y2="1812.18" stroke="#000" stroke-width="1.6" />
<line x1="1625.5" y1="1815.18" x2="1738.3" y2="1815.18" stroke="#000" stroke-width="1.6" />
<circle cx="1652.5" cy="1835.51" r="17.5" fill="#fff" stroke="#000" stroke-width="2.6" />
<rect x="1648.7" y="1817.51" width="7.6" height="36" fill="#000" />
<rect x="1639.5" y="1833.71" width="26" height="3.6" fill="#000" />
<circle cx="1711" cy="1835.51" r="17.5" fill="#fff" stroke="#000" stroke-width="2.6" />
<rect x="1707.2" y="1817.51" width="7.6" height="36" fill="#000" />
<rect x="1698" y="1833.71" width="26" height="3.6" fill="#000" />
<text x="1682" y="1843.01" font-family='"Liberation Serif", serif' font-size="21" font-weight="bold" text-anchor="middle" fill="#000" >1</text>
<line x1="1625.5" y1="1859.9" x2="1738.3" y2="1859.9" stroke="#000" stroke-width="1.6" />
<line x1="1625.5" y1="1863.4" x2="1738.3" y2="1863.4" stroke="#000" stroke-width="1.6" />
<circle cx="1653.2" cy="1881.9" r="12" fill="#fff" stroke="#000" stroke-width="2.6" />
<circle cx="1709.2" cy="1881.9" r="12" fill="#fff" stroke="#000" stroke-width="2.6" />
<path d="M1635.5,1500.7 L1582.3,1500.7 L1582.3,1856" fill="none" stroke="#000" stroke-width="1.7" />
<path d="M1635.5,1548.5 L1585.4,1548.5 L1585.4,1856" fill="none" stroke="#000" stroke-width="1.7" />
<path d="M1635.5,1596.4 L1588.5,1596.4 L1588.5,1856" fill="none" stroke="#000" stroke-width="1.7" />
<path d="M1635.5,1644.2 L1591.6,1644.2 L1591.6,1856" fill="none" stroke="#000" stroke-width="1.7" />
<path d="M1635.5,1692.0 L1594.7,1692.0 L1594.7,1856" fill="none" stroke="#000" stroke-width="1.7" />
<path d="M1635.5,1739.9 L1597.8,1739.9 L1597.8,1856" fill="none" stroke="#000" stroke-width="1.7" />
<path d="M1635.5,1787.7 L1600.9,1787.7 L1600.9,1856" fill="none" stroke="#000" stroke-width="1.7" />
<path d="M1635.5,1835.5 L1604.0,1835.5 L1604.0,1856" fill="none" stroke="#000" stroke-width="1.7" />
<rect x="1574.5" y="1855.6" width="35" height="139" fill="#000" />
<rect x="1574.5" y="1960" width="124.6" height="34.6" fill="#000" />
<rect x="1665.2" y="1994" width="33.9" height="7" fill="#000" />
<text x="1678" y="1933.5" font-family='"Liberation Sans", sans-serif' font-size="35" font-weight="bold" text-anchor="middle" fill="#000" textLength="129.6" lengthAdjust="spacingAndGlyphs" stroke="#000" stroke-width="1.8">TB-440</text>
<rect x="1659.3" y="2002" width="44.9" height="44" fill="#fff" stroke="#000" stroke-width="4" />
<line x1="1657.3" y1="2028.6" x2="1706.2" y2="2028.6" stroke="#000" stroke-width="3.5" />
<line x1="1666.3" y1="2039" x2="1666.3" y2="2045" stroke="#000" stroke-width="1.1" />
<line x1="1669.7" y1="2039" x2="1669.7" y2="2045" stroke="#000" stroke-width="1.1" />
<line x1="1673.1" y1="2039" x2="1673.1" y2="2045" stroke="#000" stroke-width="1.1" />
<line x1="1676.5" y1="2039" x2="1676.5" y2="2045" stroke="#000" stroke-width="1.1" />
<line x1="1679.9" y1="2039" x2="1679.9" y2="2045" stroke="#000" stroke-width="1.1" />
<line x1="1683.3" y1="2039" x2="1683.3" y2="2045" stroke="#000" stroke-width="1.1" />
<line x1="1686.7" y1="2039" x2="1686.7" y2="2045" stroke="#000" stroke-width="1.1" />
<line x1="1690.1" y1="2039" x2="1690.1" y2="2045" stroke="#000" stroke-width="1.1" />
<line x1="1693.5" y1="2039" x2="1693.5" y2="2045" stroke="#000" stroke-width="1.1" />
<line x1="1665.3" y1="2044.5" x2="1694.2" y2="2044.5" stroke="#000" stroke-width="1.2" />
<text x="1697.2" y="2040" font-family='"Liberation Serif", serif' font-size="8.5" font-weight="normal" text-anchor="middle" fill="#000" >1</text>
<rect x="1627.7" y="2050.5" width="108.4" height="118.4" fill="#fff" stroke="#000" stroke-width="5" />
<text x="1681.8" y="2077.5" font-family='"Liberation Serif", serif' font-size="17" font-weight="bold" text-anchor="middle" fill="#000" textLength="44" lengthAdjust="spacingAndGlyphs" >RJ-45</text>
<text x="1681.8" y="2100.5" font-family='"Liberation Serif", serif' font-size="17" font-weight="bold" text-anchor="middle" fill="#000" textLength="40" lengthAdjust="spacingAndGlyphs" >F - F</text>
<text x="1681.8" y="2122" font-family='"Liberation Serif", serif' font-size="17" font-weight="bold" text-anchor="middle" fill="#000" textLength="90" lengthAdjust="spacingAndGlyphs" >Bulkhead</text>
<rect x="1593" y="2175.8" width="177.5" height="8.2" fill="#fff" stroke="#000" stroke-width="3.6" />
<rect x="1627.7" y="2188" width="108.4" height="50.5" fill="#fff" stroke="#000" stroke-width="5" />
<rect x="1659.3" y="2243" width="44.9" height="44.3" fill="#fff" stroke="#000" stroke-width="4" />
<line x1="1657.3" y1="2260.7" x2="1706.2" y2="2260.7" stroke="#000" stroke-width="3.5" />
<line x1="1666.3" y1="2244" x2="1666.3" y2="2250" stroke="#000" stroke-width="1.1" />
<line x1="1669.7" y1="2244" x2="1669.7" y2="2250" stroke="#000" stroke-width="1.1" />
<line x1="1673.1" y1="2244" x2="1673.1" y2="2250" stroke="#000" stroke-width="1.1" />
<line x1="1676.5" y1="2244" x2="1676.5" y2="2250" stroke="#000" stroke-width="1.1" />
<line x1="1679.9" y1="2244" x2="1679.9" y2="2250" stroke="#000" stroke-width="1.1" />
<line x1="1683.3" y1="2244" x2="1683.3" y2="2250" stroke="#000" stroke-width="1.1" />
<line x1="1686.7" y1="2244" x2="1686.7" y2="2250" stroke="#000" stroke-width="1.1" />
<line x1="1690.1" y1="2244" x2="1690.1" y2="2250" stroke="#000" stroke-width="1.1" />
<line x1="1693.5" y1="2244" x2="1693.5" y2="2250" stroke="#000" stroke-width="1.1" />
<line x1="1665.3" y1="2244.5" x2="1694.2" y2="2244.5" stroke="#000" stroke-width="1.2" />
<rect x="1665.2" y="2289" width="33.9" height="72.4" fill="#000" />
<text x="1700.6" y="2596.3" font-family='"Liberation Serif", serif' font-size="48" font-weight="bold" text-anchor="middle" fill="#000" textLength="405" lengthAdjust="spacingAndGlyphs" transform="rotate(-90 1700.6 2596.3)" >444 Mcs Band Feed</text>
<rect x="888.2" y="1134.7" width="1233.1" height="111.8" fill="#fff" stroke="#000" stroke-width="2.6" />
<circle cx="907" cy="1163" r="11.5" fill="#fff" stroke="#000" stroke-width="2.8" />
<circle cx="907" cy="1218.5" r="11.5" fill="#fff" stroke="#000" stroke-width="2.8" />
<circle cx="2102.5" cy="1163" r="11.5" fill="#fff" stroke="#000" stroke-width="2.8" />
<circle cx="2102.5" cy="1218.5" r="11.5" fill="#fff" stroke="#000" stroke-width="2.8" />
<line x1="907" y1="1127" x2="907" y2="1134" stroke="#000" stroke-width="2.4" />
<line x1="924.2" y1="1134.7" x2="924.2" y2="1246.5" stroke="#000" stroke-width="1.8" />
<line x1="929.1" y1="1134.7" x2="929.1" y2="1246.5" stroke="#000" stroke-width="1.8" />
<line x1="933.1" y1="1134.7" x2="933.1" y2="1246.5" stroke="#000" stroke-width="1.8" />
<line x1="952.9" y1="1127" x2="952.9" y2="1134" stroke="#000" stroke-width="2.4" />
<ellipse cx="952.9" cy="1161.7" rx="17" ry="19.2" fill="#fff" stroke="#000" stroke-width="3.2"/>
<rect x="933.5" y="1155.8" width="38.8" height="11.8" fill="#000" />
<rect x="949.9" y="1149.7" width="6" height="24" fill="#000" />
<ellipse cx="952.9" cy="1219.9" rx="17" ry="19.2" fill="#fff" stroke="#000" stroke-width="3.2"/>
<rect x="933.5" y="1214" width="38.8" height="11.8" fill="#000" />
<rect x="949.9" y="1207.9" width="6" height="24" fill="#000" />
<text x="952.9" y="1199.3" font-family='"Liberation Serif", serif' font-size="24.5" font-weight="bold" text-anchor="middle" fill="#000" textLength="25" lengthAdjust="spacingAndGlyphs" >01</text>
<line x1="972.2" y1="1134.7" x2="972.2" y2="1246.5" stroke="#000" stroke-width="1.8" />
<line x1="977.1" y1="1134.7" x2="977.1" y2="1246.5" stroke="#000" stroke-width="1.8" />
<line x1="981.1" y1="1134.7" x2="981.1" y2="1246.5" stroke="#000" stroke-width="1.8" />
<line x1="1000.9" y1="1127" x2="1000.9" y2="1134" stroke="#000" stroke-width="2.4" />
<ellipse cx="1000.9" cy="1161.7" rx="17" ry="19.2" fill="#fff" stroke="#000" stroke-width="3.2"/>
<rect x="981.5" y="1155.8" width="38.8" height="11.8" fill="#000" />
<rect x="997.9" y="1149.7" width="6" height="24" fill="#000" />
<ellipse cx="1000.9" cy="1219.9" rx="17" ry="19.2" fill="#fff" stroke="#000" stroke-width="3.2"/>
<rect x="981.5" y="1214" width="38.8" height="11.8" fill="#000" />
<rect x="997.9" y="1207.9" width="6" height="24" fill="#000" />
<text x="1000.9" y="1199.3" font-family='"Liberation Serif", serif' font-size="24.5" font-weight="bold" text-anchor="middle" fill="#000" textLength="25" lengthAdjust="spacingAndGlyphs" >02</text>
<line x1="1020.2" y1="1134.7" x2="1020.2" y2="1246.5" stroke="#000" stroke-width="1.8" />
<line x1="1025.1" y1="1134.7" x2="1025.1" y2="1246.5" stroke="#000" stroke-width="1.8" />
<line x1="1029.1" y1="1134.7" x2="1029.1" y2="1246.5" stroke="#000" stroke-width="1.8" />
<line x1="1048.9" y1="1127" x2="1048.9" y2="1134" stroke="#000" stroke-width="2.4" />
<ellipse cx="1048.9" cy="1161.7" rx="17" ry="19.2" fill="#fff" stroke="#000" stroke-width="3.2"/>
<rect x="1029.5" y="1155.8" width="38.8" height="11.8" fill="#000" />
<rect x="1045.9" y="1149.7" width="6" height="24" fill="#000" />
<ellipse cx="1048.9" cy="1219.9" rx="17" ry="19.2" fill="#fff" stroke="#000" stroke-width="3.2"/>
<rect x="1029.5" y="1214" width="38.8" height="11.8" fill="#000" />
<rect x="1045.9" y="1207.9" width="6" height="24" fill="#000" />
<text x="1048.9" y="1199.3" font-family='"Liberation Serif", serif' font-size="24.5" font-weight="bold" text-anchor="middle" fill="#000" textLength="25" lengthAdjust="spacingAndGlyphs" >03</text>
<line x1="1068.2" y1="1134.7" x2="1068.2" y2="1246.5" stroke="#000" stroke-width="1.8" />
<line x1="1073.1" y1="1134.7" x2="1073.1" y2="1246.5" stroke="#000" stroke-width="1.8" />
<line x1="1077.1" y1="1134.7" x2="1077.1" y2="1246.5" stroke="#000" stroke-width="1.8" />
<line x1="1096.9" y1="1127" x2="1096.9" y2="1134" stroke="#000" stroke-width="2.4" />
<ellipse cx="1096.9" cy="1161.7" rx="17" ry="19.2" fill="#fff" stroke="#000" stroke-width="3.2"/>
<rect x="1077.5" y="1155.8" width="38.8" height="11.8" fill="#000" />
<rect x="1093.9" y="1149.7" width="6" height="24" fill="#000" />
<ellipse cx="1096.9" cy="1219.9" rx="17" ry="19.2" fill="#fff" stroke="#000" stroke-width="3.2"/>
<rect x="1077.5" y="1214" width="38.8" height="11.8" fill="#000" />
<rect x="1093.9" y="1207.9" width="6" height="24" fill="#000" />
<text x="1096.9" y="1199.3" font-family='"Liberation Serif", serif' font-size="24.5" font-weight="bold" text-anchor="middle" fill="#000" textLength="25" lengthAdjust="spacingAndGlyphs" >04</text>
<line x1="1116.2" y1="1134.7" x2="1116.2" y2="1246.5" stroke="#000" stroke-width="1.8" />
<line x1="1121.1" y1="1134.7" x2="1121.1" y2="1246.5" stroke="#000" stroke-width="1.8" />
<line x1="1125.1" y1="1134.7" x2="1125.1" y2="1246.5" stroke="#000" stroke-width="1.8" />
<line x1="1144.9" y1="1127" x2="1144.9" y2="1134" stroke="#000" stroke-width="2.4" />
<ellipse cx="1144.9" cy="1161.7" rx="17" ry="19.2" fill="#fff" stroke="#000" stroke-width="3.2"/>
<rect x="1125.5" y="1155.8" width="38.8" height="11.8" fill="#000" />
<rect x="1141.9" y="1149.7" width="6" height="24" fill="#000" />
<ellipse cx="1144.9" cy="1219.9" rx="17" ry="19.2" fill="#fff" stroke="#000" stroke-width="3.2"/>
<rect x="1125.5" y="1214" width="38.8" height="11.8" fill="#000" />
<rect x="1141.9" y="1207.9" width="6" height="24" fill="#000" />
<text x="1144.9" y="1199.3" font-family='"Liberation Serif", serif' font-size="24.5" font-weight="bold" text-anchor="middle" fill="#000" textLength="25" lengthAdjust="spacingAndGlyphs" >05</text>
<line x1="1164.2" y1="1134.7" x2="1164.2" y2="1246.5" stroke="#000" stroke-width="1.8" />
<line x1="1169.1" y1="1134.7" x2="1169.1" y2="1246.5" stroke="#000" stroke-width="1.8" />
<line x1="1173.1" y1="1134.7" x2="1173.1" y2="1246.5" stroke="#000" stroke-width="1.8" />
<line x1="1192.9" y1="1127" x2="1192.9" y2="1134" stroke="#000" stroke-width="2.4" />
<ellipse cx="1192.9" cy="1161.7" rx="17" ry="19.2" fill="#fff" stroke="#000" stroke-width="3.2"/>
<rect x="1173.5" y="1155.8" width="38.8" height="11.8" fill="#000" />
<rect x="1189.9" y="1149.7" width="6" height="24" fill="#000" />
<ellipse cx="1192.9" cy="1219.9" rx="17" ry="19.2" fill="#fff" stroke="#000" stroke-width="3.2"/>
<rect x="1173.5" y="1214" width="38.8" height="11.8" fill="#000" />
<rect x="1189.9" y="1207.9" width="6" height="24" fill="#000" />
<text x="1192.9" y="1199.3" font-family='"Liberation Serif", serif' font-size="24.5" font-weight="bold" text-anchor="middle" fill="#000" textLength="25" lengthAdjust="spacingAndGlyphs" >06</text>
<line x1="1212.2" y1="1134.7" x2="1212.2" y2="1246.5" stroke="#000" stroke-width="1.8" />
<line x1="1217.1" y1="1134.7" x2="1217.1" y2="1246.5" stroke="#000" stroke-width="1.8" />
<line x1="1221.1" y1="1134.7" x2="1221.1" y2="1246.5" stroke="#000" stroke-width="1.8" />
<line x1="1240.9" y1="1127" x2="1240.9" y2="1134" stroke="#000" stroke-width="2.4" />
<ellipse cx="1240.9" cy="1161.7" rx="17" ry="19.2" fill="#fff" stroke="#000" stroke-width="3.2"/>
<rect x="1221.5" y="1155.8" width="38.8" height="11.8" fill="#000" />
<rect x="1237.9" y="1149.7" width="6" height="24" fill="#000" />
<ellipse cx="1240.9" cy="1219.9" rx="17" ry="19.2" fill="#fff" stroke="#000" stroke-width="3.2"/>
<rect x="1221.5" y="1214" width="38.8" height="11.8" fill="#000" />
<rect x="1237.9" y="1207.9" width="6" height="24" fill="#000" />
<text x="1240.9" y="1199.3" font-family='"Liberation Serif", serif' font-size="24.5" font-weight="bold" text-anchor="middle" fill="#000" textLength="25" lengthAdjust="spacingAndGlyphs" >07</text>
<line x1="1260.2" y1="1134.7" x2="1260.2" y2="1246.5" stroke="#000" stroke-width="1.8" />
<line x1="1265.1" y1="1134.7" x2="1265.1" y2="1246.5" stroke="#000" stroke-width="1.8" />
<line x1="1269.1" y1="1134.7" x2="1269.1" y2="1246.5" stroke="#000" stroke-width="1.8" />
<line x1="1288.9" y1="1127" x2="1288.9" y2="1134" stroke="#000" stroke-width="2.4" />
<ellipse cx="1288.9" cy="1161.7" rx="17" ry="19.2" fill="#fff" stroke="#000" stroke-width="3.2"/>
<rect x="1269.5" y="1155.8" width="38.8" height="11.8" fill="#000" />
<rect x="1285.9" y="1149.7" width="6" height="24" fill="#000" />
<ellipse cx="1288.9" cy="1219.9" rx="17" ry="19.2" fill="#fff" stroke="#000" stroke-width="3.2"/>
<rect x="1269.5" y="1214" width="38.8" height="11.8" fill="#000" />
<rect x="1285.9" y="1207.9" width="6" height="24" fill="#000" />
<text x="1288.9" y="1199.3" font-family='"Liberation Serif", serif' font-size="24.5" font-weight="bold" text-anchor="middle" fill="#000" textLength="25" lengthAdjust="spacingAndGlyphs" >08</text>
<line x1="1308.2" y1="1134.7" x2="1308.2" y2="1246.5" stroke="#000" stroke-width="1.8" />
<line x1="1313.1" y1="1134.7" x2="1313.1" y2="1246.5" stroke="#000" stroke-width="1.8" />
<line x1="1317.1" y1="1134.7" x2="1317.1" y2="1246.5" stroke="#000" stroke-width="1.8" />
<line x1="1336.9" y1="1127" x2="1336.9" y2="1134" stroke="#000" stroke-width="2.4" />
<ellipse cx="1336.9" cy="1161.7" rx="17" ry="19.2" fill="#fff" stroke="#000" stroke-width="3.2"/>
<rect x="1317.5" y="1155.8" width="38.8" height="11.8" fill="#000" />
<rect x="1333.9" y="1149.7" width="6" height="24" fill="#000" />
<ellipse cx="1336.9" cy="1219.9" rx="17" ry="19.2" fill="#fff" stroke="#000" stroke-width="3.2"/>
<rect x="1317.5" y="1214" width="38.8" height="11.8" fill="#000" />
<rect x="1333.9" y="1207.9" width="6" height="24" fill="#000" />
<text x="1336.9" y="1199.3" font-family='"Liberation Serif", serif' font-size="24.5" font-weight="bold" text-anchor="middle" fill="#000" textLength="25" lengthAdjust="spacingAndGlyphs" >09</text>
<line x1="1356.2" y1="1134.7" x2="1356.2" y2="1246.5" stroke="#000" stroke-width="1.8" />
<line x1="1361.1" y1="1134.7" x2="1361.1" y2="1246.5" stroke="#000" stroke-width="1.8" />
<line x1="1365.1" y1="1134.7" x2="1365.1" y2="1246.5" stroke="#000" stroke-width="1.8" />
<line x1="1384.9" y1="1127" x2="1384.9" y2="1134" stroke="#000" stroke-width="2.4" />
<ellipse cx="1384.9" cy="1161.7" rx="17" ry="19.2" fill="#fff" stroke="#000" stroke-width="3.2"/>
<rect x="1365.5" y="1155.8" width="38.8" height="11.8" fill="#000" />
<rect x="1381.9" y="1149.7" width="6" height="24" fill="#000" />
<ellipse cx="1384.9" cy="1219.9" rx="17" ry="19.2" fill="#fff" stroke="#000" stroke-width="3.2"/>
<rect x="1365.5" y="1214" width="38.8" height="11.8" fill="#000" />
<rect x="1381.9" y="1207.9" width="6" height="24" fill="#000" />
<text x="1384.9" y="1199.3" font-family='"Liberation Serif", serif' font-size="24.5" font-weight="bold" text-anchor="middle" fill="#000" textLength="25" lengthAdjust="spacingAndGlyphs" >10</text>
<line x1="1404.2" y1="1134.7" x2="1404.2" y2="1246.5" stroke="#000" stroke-width="1.8" />
<line x1="1409.1" y1="1134.7" x2="1409.1" y2="1246.5" stroke="#000" stroke-width="1.8" />
<line x1="1413.1" y1="1134.7" x2="1413.1" y2="1246.5" stroke="#000" stroke-width="1.8" />
<line x1="1432.9" y1="1127" x2="1432.9" y2="1134" stroke="#000" stroke-width="2.4" />
<ellipse cx="1432.9" cy="1161.7" rx="17" ry="19.2" fill="#fff" stroke="#000" stroke-width="3.2"/>
<rect x="1413.5" y="1155.8" width="38.8" height="11.8" fill="#000" />
<rect x="1429.9" y="1149.7" width="6" height="24" fill="#000" />
<ellipse cx="1432.9" cy="1219.9" rx="17" ry="19.2" fill="#fff" stroke="#000" stroke-width="3.2"/>
<rect x="1413.5" y="1214" width="38.8" height="11.8" fill="#000" />
<rect x="1429.9" y="1207.9" width="6" height="24" fill="#000" />
<text x="1432.9" y="1199.3" font-family='"Liberation Serif", serif' font-size="24.5" font-weight="bold" text-anchor="middle" fill="#000" textLength="25" lengthAdjust="spacingAndGlyphs" >11</text>
<line x1="1452.2" y1="1134.7" x2="1452.2" y2="1246.5" stroke="#000" stroke-width="1.8" />
<line x1="1457.1" y1="1134.7" x2="1457.1" y2="1246.5" stroke="#000" stroke-width="1.8" />
<line x1="1461.1" y1="1134.7" x2="1461.1" y2="1246.5" stroke="#000" stroke-width="1.8" />
<line x1="1480.9" y1="1127" x2="1480.9" y2="1134" stroke="#000" stroke-width="2.4" />
<ellipse cx="1480.9" cy="1161.7" rx="17" ry="19.2" fill="#fff" stroke="#000" stroke-width="3.2"/>
<rect x="1461.5" y="1155.8" width="38.8" height="11.8" fill="#000" />
<rect x="1477.9" y="1149.7" width="6" height="24" fill="#000" />
<ellipse cx="1480.9" cy="1219.9" rx="17" ry="19.2" fill="#fff" stroke="#000" stroke-width="3.2"/>
<rect x="1461.5" y="1214" width="38.8" height="11.8" fill="#000" />
<rect x="1477.9" y="1207.9" width="6" height="24" fill="#000" />
<text x="1480.9" y="1199.3" font-family='"Liberation Serif", serif' font-size="24.5" font-weight="bold" text-anchor="middle" fill="#000" textLength="25" lengthAdjust="spacingAndGlyphs" >12</text>
<line x1="1500.2" y1="1134.7" x2="1500.2" y2="1246.5" stroke="#000" stroke-width="1.8" />
<line x1="1505.1" y1="1134.7" x2="1505.1" y2="1246.5" stroke="#000" stroke-width="1.8" />
<line x1="1509.1" y1="1134.7" x2="1509.1" y2="1246.5" stroke="#000" stroke-width="1.8" />
<line x1="1528.9" y1="1127" x2="1528.9" y2="1134" stroke="#000" stroke-width="2.4" />
<ellipse cx="1528.9" cy="1161.7" rx="17" ry="19.2" fill="#fff" stroke="#000" stroke-width="3.2"/>
<rect x="1509.5" y="1155.8" width="38.8" height="11.8" fill="#000" />
<rect x="1525.9" y="1149.7" width="6" height="24" fill="#000" />
<ellipse cx="1528.9" cy="1219.9" rx="17" ry="19.2" fill="#fff" stroke="#000" stroke-width="3.2"/>
<rect x="1509.5" y="1214" width="38.8" height="11.8" fill="#000" />
<rect x="1525.9" y="1207.9" width="6" height="24" fill="#000" />
<text x="1528.9" y="1199.3" font-family='"Liberation Serif", serif' font-size="24.5" font-weight="bold" text-anchor="middle" fill="#000" textLength="25" lengthAdjust="spacingAndGlyphs" >13</text>
<line x1="1548.2" y1="1134.7" x2="1548.2" y2="1246.5" stroke="#000" stroke-width="1.8" />
<line x1="1553.1" y1="1134.7" x2="1553.1" y2="1246.5" stroke="#000" stroke-width="1.8" />
<line x1="1557.1" y1="1134.7" x2="1557.1" y2="1246.5" stroke="#000" stroke-width="1.8" />
<line x1="1576.9" y1="1127" x2="1576.9" y2="1134" stroke="#000" stroke-width="2.4" />
<ellipse cx="1576.9" cy="1161.7" rx="17" ry="19.2" fill="#fff" stroke="#000" stroke-width="3.2"/>
<rect x="1557.5" y="1155.8" width="38.8" height="11.8" fill="#000" />
<rect x="1573.9" y="1149.7" width="6" height="24" fill="#000" />
<ellipse cx="1576.9" cy="1219.9" rx="17" ry="19.2" fill="#fff" stroke="#000" stroke-width="3.2"/>
<rect x="1557.5" y="1214" width="38.8" height="11.8" fill="#000" />
<rect x="1573.9" y="1207.9" width="6" height="24" fill="#000" />
<text x="1576.9" y="1199.3" font-family='"Liberation Serif", serif' font-size="24.5" font-weight="bold" text-anchor="middle" fill="#000" textLength="25" lengthAdjust="spacingAndGlyphs" >14</text>
<line x1="1596.2" y1="1134.7" x2="1596.2" y2="1246.5" stroke="#000" stroke-width="1.8" />
<line x1="1601.1" y1="1134.7" x2="1601.1" y2="1246.5" stroke="#000" stroke-width="1.8" />
<line x1="1605.1" y1="1134.7" x2="1605.1" y2="1246.5" stroke="#000" stroke-width="1.8" />
<line x1="1624.9" y1="1127" x2="1624.9" y2="1134" stroke="#000" stroke-width="2.4" />
<ellipse cx="1624.9" cy="1161.7" rx="17" ry="19.2" fill="#fff" stroke="#000" stroke-width="3.2"/>
<rect x="1605.5" y="1155.8" width="38.8" height="11.8" fill="#000" />
<rect x="1621.9" y="1149.7" width="6" height="24" fill="#000" />
<ellipse cx="1624.9" cy="1219.9" rx="17" ry="19.2" fill="#fff" stroke="#000" stroke-width="3.2"/>
<rect x="1605.5" y="1214" width="38.8" height="11.8" fill="#000" />
<rect x="1621.9" y="1207.9" width="6" height="24" fill="#000" />
<text x="1624.9" y="1199.3" font-family='"Liberation Serif", serif' font-size="24.5" font-weight="bold" text-anchor="middle" fill="#000" textLength="25" lengthAdjust="spacingAndGlyphs" >15</text>
<line x1="1644.2" y1="1134.7" x2="1644.2" y2="1246.5" stroke="#000" stroke-width="1.8" />
<line x1="1649.1" y1="1134.7" x2="1649.1" y2="1246.5" stroke="#000" stroke-width="1.8" />
<line x1="1653.1" y1="1134.7" x2="1653.1" y2="1246.5" stroke="#000" stroke-width="1.8" />
<line x1="1672.9" y1="1127" x2="1672.9" y2="1134" stroke="#000" stroke-width="2.4" />
<ellipse cx="1672.9" cy="1161.7" rx="17" ry="19.2" fill="#fff" stroke="#000" stroke-width="3.2"/>
<rect x="1653.5" y="1155.8" width="38.8" height="11.8" fill="#000" />
<rect x="1669.9" y="1149.7" width="6" height="24" fill="#000" />
<ellipse cx="1672.9" cy="1219.9" rx="17" ry="19.2" fill="#fff" stroke="#000" stroke-width="3.2"/>
<rect x="1653.5" y="1214" width="38.8" height="11.8" fill="#000" />
<rect x="1669.9" y="1207.9" width="6" height="24" fill="#000" />
<text x="1672.9" y="1199.3" font-family='"Liberation Serif", serif' font-size="24.5" font-weight="bold" text-anchor="middle" fill="#000" textLength="25" lengthAdjust="spacingAndGlyphs" >16</text>
<line x1="1692.2" y1="1134.7" x2="1692.2" y2="1246.5" stroke="#000" stroke-width="1.8" />
<line x1="1697.1" y1="1134.7" x2="1697.1" y2="1246.5" stroke="#000" stroke-width="1.8" />
<line x1="1701.1" y1="1134.7" x2="1701.1" y2="1246.5" stroke="#000" stroke-width="1.8" />
<line x1="1720.9" y1="1127" x2="1720.9" y2="1134" stroke="#000" stroke-width="2.4" />
<ellipse cx="1720.9" cy="1161.7" rx="17" ry="19.2" fill="#fff" stroke="#000" stroke-width="3.2"/>
<rect x="1701.5" y="1155.8" width="38.8" height="11.8" fill="#000" />
<rect x="1717.9" y="1149.7" width="6" height="24" fill="#000" />
<ellipse cx="1720.9" cy="1219.9" rx="17" ry="19.2" fill="#fff" stroke="#000" stroke-width="3.2"/>
<rect x="1701.5" y="1214" width="38.8" height="11.8" fill="#000" />
<rect x="1717.9" y="1207.9" width="6" height="24" fill="#000" />
<text x="1720.9" y="1199.3" font-family='"Liberation Serif", serif' font-size="24.5" font-weight="bold" text-anchor="middle" fill="#000" textLength="25" lengthAdjust="spacingAndGlyphs" >17</text>
<line x1="1740.2" y1="1134.7" x2="1740.2" y2="1246.5" stroke="#000" stroke-width="1.8" />
<line x1="1745.1" y1="1134.7" x2="1745.1" y2="1246.5" stroke="#000" stroke-width="1.8" />
<line x1="1749.1" y1="1134.7" x2="1749.1" y2="1246.5" stroke="#000" stroke-width="1.8" />
<line x1="1768.9" y1="1127" x2="1768.9" y2="1134" stroke="#000" stroke-width="2.4" />
<ellipse cx="1768.9" cy="1161.7" rx="17" ry="19.2" fill="#fff" stroke="#000" stroke-width="3.2"/>
<rect x="1749.5" y="1155.8" width="38.8" height="11.8" fill="#000" />
<rect x="1765.9" y="1149.7" width="6" height="24" fill="#000" />
<ellipse cx="1768.9" cy="1219.9" rx="17" ry="19.2" fill="#fff" stroke="#000" stroke-width="3.2"/>
<rect x="1749.5" y="1214" width="38.8" height="11.8" fill="#000" />
<rect x="1765.9" y="1207.9" width="6" height="24" fill="#000" />
<text x="1768.9" y="1199.3" font-family='"Liberation Serif", serif' font-size="24.5" font-weight="bold" text-anchor="middle" fill="#000" textLength="25" lengthAdjust="spacingAndGlyphs" >18</text>
<line x1="1788.2" y1="1134.7" x2="1788.2" y2="1246.5" stroke="#000" stroke-width="1.8" />
<line x1="1793.1" y1="1134.7" x2="1793.1" y2="1246.5" stroke="#000" stroke-width="1.8" />
<line x1="1797.1" y1="1134.7" x2="1797.1" y2="1246.5" stroke="#000" stroke-width="1.8" />
<line x1="1816.9" y1="1127" x2="1816.9" y2="1134" stroke="#000" stroke-width="2.4" />
<ellipse cx="1816.9" cy="1161.7" rx="17" ry="19.2" fill="#fff" stroke="#000" stroke-width="3.2"/>
<rect x="1797.5" y="1155.8" width="38.8" height="11.8" fill="#000" />
<rect x="1813.9" y="1149.7" width="6" height="24" fill="#000" />
<ellipse cx="1816.9" cy="1219.9" rx="17" ry="19.2" fill="#fff" stroke="#000" stroke-width="3.2"/>
<rect x="1797.5" y="1214" width="38.8" height="11.8" fill="#000" />
<rect x="1813.9" y="1207.9" width="6" height="24" fill="#000" />
<text x="1816.9" y="1199.3" font-family='"Liberation Serif", serif' font-size="24.5" font-weight="bold" text-anchor="middle" fill="#000" textLength="25" lengthAdjust="spacingAndGlyphs" >19</text>
<line x1="1836.2" y1="1134.7" x2="1836.2" y2="1246.5" stroke="#000" stroke-width="1.8" />
<line x1="1841.1" y1="1134.7" x2="1841.1" y2="1246.5" stroke="#000" stroke-width="1.8" />
<line x1="1845.1" y1="1134.7" x2="1845.1" y2="1246.5" stroke="#000" stroke-width="1.8" />
<line x1="1864.9" y1="1127" x2="1864.9" y2="1134" stroke="#000" stroke-width="2.4" />
<ellipse cx="1864.9" cy="1161.7" rx="17" ry="19.2" fill="#fff" stroke="#000" stroke-width="3.2"/>
<rect x="1845.5" y="1155.8" width="38.8" height="11.8" fill="#000" />
<rect x="1861.9" y="1149.7" width="6" height="24" fill="#000" />
<ellipse cx="1864.9" cy="1219.9" rx="17" ry="19.2" fill="#fff" stroke="#000" stroke-width="3.2"/>
<rect x="1845.5" y="1214" width="38.8" height="11.8" fill="#000" />
<rect x="1861.9" y="1207.9" width="6" height="24" fill="#000" />
<text x="1864.9" y="1199.3" font-family='"Liberation Serif", serif' font-size="24.5" font-weight="bold" text-anchor="middle" fill="#000" textLength="25" lengthAdjust="spacingAndGlyphs" >20</text>
<line x1="1884.2" y1="1134.7" x2="1884.2" y2="1246.5" stroke="#000" stroke-width="1.8" />
<line x1="1889.1" y1="1134.7" x2="1889.1" y2="1246.5" stroke="#000" stroke-width="1.8" />
<line x1="1893.1" y1="1134.7" x2="1893.1" y2="1246.5" stroke="#000" stroke-width="1.8" />
<line x1="1912.9" y1="1127" x2="1912.9" y2="1134" stroke="#000" stroke-width="2.4" />
<ellipse cx="1912.9" cy="1161.7" rx="17" ry="19.2" fill="#fff" stroke="#000" stroke-width="3.2"/>
<rect x="1893.5" y="1155.8" width="38.8" height="11.8" fill="#000" />
<rect x="1909.9" y="1149.7" width="6" height="24" fill="#000" />
<ellipse cx="1912.9" cy="1219.9" rx="17" ry="19.2" fill="#fff" stroke="#000" stroke-width="3.2"/>
<rect x="1893.5" y="1214" width="38.8" height="11.8" fill="#000" />
<rect x="1909.9" y="1207.9" width="6" height="24" fill="#000" />
<text x="1912.9" y="1199.3" font-family='"Liberation Serif", serif' font-size="24.5" font-weight="bold" text-anchor="middle" fill="#000" textLength="25" lengthAdjust="spacingAndGlyphs" >21</text>
<line x1="1932.2" y1="1134.7" x2="1932.2" y2="1246.5" stroke="#000" stroke-width="1.8" />
<line x1="1937.1" y1="1134.7" x2="1937.1" y2="1246.5" stroke="#000" stroke-width="1.8" />
<line x1="1941.1" y1="1134.7" x2="1941.1" y2="1246.5" stroke="#000" stroke-width="1.8" />
<line x1="1960.9" y1="1127" x2="1960.9" y2="1134" stroke="#000" stroke-width="2.4" />
<ellipse cx="1960.9" cy="1161.7" rx="17" ry="19.2" fill="#fff" stroke="#000" stroke-width="3.2"/>
<rect x="1941.5" y="1155.8" width="38.8" height="11.8" fill="#000" />
<rect x="1957.9" y="1149.7" width="6" height="24" fill="#000" />
<ellipse cx="1960.9" cy="1219.9" rx="17" ry="19.2" fill="#fff" stroke="#000" stroke-width="3.2"/>
<rect x="1941.5" y="1214" width="38.8" height="11.8" fill="#000" />
<rect x="1957.9" y="1207.9" width="6" height="24" fill="#000" />
<text x="1960.9" y="1199.3" font-family='"Liberation Serif", serif' font-size="24.5" font-weight="bold" text-anchor="middle" fill="#000" textLength="25" lengthAdjust="spacingAndGlyphs" >22</text>
<line x1="1980.2" y1="1134.7" x2="1980.2" y2="1246.5" stroke="#000" stroke-width="1.8" />
<line x1="1985.1" y1="1134.7" x2="1985.1" y2="1246.5" stroke="#000" stroke-width="1.8" />
<line x1="1989.1" y1="1134.7" x2="1989.1" y2="1246.5" stroke="#000" stroke-width="1.8" />
<line x1="2008.9" y1="1127" x2="2008.9" y2="1134" stroke="#000" stroke-width="2.4" />
<ellipse cx="2008.9" cy="1161.7" rx="17" ry="19.2" fill="#fff" stroke="#000" stroke-width="3.2"/>
<rect x="1989.5" y="1155.8" width="38.8" height="11.8" fill="#000" />
<rect x="2005.9" y="1149.7" width="6" height="24" fill="#000" />
<ellipse cx="2008.9" cy="1219.9" rx="17" ry="19.2" fill="#fff" stroke="#000" stroke-width="3.2"/>
<rect x="1989.5" y="1214" width="38.8" height="11.8" fill="#000" />
<rect x="2005.9" y="1207.9" width="6" height="24" fill="#000" />
<text x="2008.9" y="1199.3" font-family='"Liberation Serif", serif' font-size="24.5" font-weight="bold" text-anchor="middle" fill="#000" textLength="25" lengthAdjust="spacingAndGlyphs" >23</text>
<line x1="2028.2" y1="1134.7" x2="2028.2" y2="1246.5" stroke="#000" stroke-width="1.8" />
<line x1="2033.1" y1="1134.7" x2="2033.1" y2="1246.5" stroke="#000" stroke-width="1.8" />
<line x1="2037.1" y1="1134.7" x2="2037.1" y2="1246.5" stroke="#000" stroke-width="1.8" />
<line x1="2056.9" y1="1127" x2="2056.9" y2="1134" stroke="#000" stroke-width="2.4" />
<ellipse cx="2056.9" cy="1161.7" rx="17" ry="19.2" fill="#fff" stroke="#000" stroke-width="3.2"/>
<rect x="2037.5" y="1155.8" width="38.8" height="11.8" fill="#000" />
<rect x="2053.9" y="1149.7" width="6" height="24" fill="#000" />
<ellipse cx="2056.9" cy="1219.9" rx="17" ry="19.2" fill="#fff" stroke="#000" stroke-width="3.2"/>
<rect x="2037.5" y="1214" width="38.8" height="11.8" fill="#000" />
<rect x="2053.9" y="1207.9" width="6" height="24" fill="#000" />
<text x="2056.9" y="1199.3" font-family='"Liberation Serif", serif' font-size="24.5" font-weight="bold" text-anchor="middle" fill="#000" textLength="25" lengthAdjust="spacingAndGlyphs" >24</text>
<line x1="2076.2" y1="1134.7" x2="2076.2" y2="1246.5" stroke="#000" stroke-width="1.8" />
<line x1="2081.1" y1="1134.7" x2="2081.1" y2="1246.5" stroke="#000" stroke-width="1.8" />
<line x1="2085.1" y1="1134.7" x2="2085.1" y2="1246.5" stroke="#000" stroke-width="1.8" />
<line x1="2009" y1="1127" x2="2009" y2="1134" stroke="#000" stroke-width="2" />
<line x1="2014.5" y1="1127" x2="2014.5" y2="1134" stroke="#000" stroke-width="2" />
<line x1="2020" y1="1127" x2="2020" y2="1134" stroke="#000" stroke-width="2" />
<text x="2152" y="1192.4" font-family='"Liberation Sans", sans-serif' font-size="37" font-weight="bold" text-anchor="middle" fill="#000" textLength="129" lengthAdjust="spacingAndGlyphs" transform="rotate(-90 2152 1192.4)" stroke="#000" stroke-width="1.6">URI-TB</text>
<rect x="2178.6" y="1162" width="297.8" height="88" fill="#fff" stroke="#000" stroke-width="3" />
<rect x="2232.8" y="1132.7" width="189.4" height="29.3" fill="#fff" stroke="#000" stroke-width="3" />
<line x1="2242.6" y1="1127.5" x2="2242.6" y2="1132.7" stroke="#000" stroke-width="1.3" />
<line x1="2249.66" y1="1127.5" x2="2249.66" y2="1132.7" stroke="#000" stroke-width="1.3" />
<line x1="2256.72" y1="1127.5" x2="2256.72" y2="1132.7" stroke="#000" stroke-width="1.3" />
<line x1="2263.78" y1="1127.5" x2="2263.78" y2="1132.7" stroke="#000" stroke-width="1.3" />
<line x1="2270.83" y1="1127.5" x2="2270.83" y2="1132.7" stroke="#000" stroke-width="1.3" />
<line x1="2277.89" y1="1127.5" x2="2277.89" y2="1132.7" stroke="#000" stroke-width="1.3" />
<line x1="2284.95" y1="1127.5" x2="2284.95" y2="1132.7" stroke="#000" stroke-width="1.3" />
<line x1="2292.01" y1="1127.5" x2="2292.01" y2="1132.7" stroke="#000" stroke-width="1.3" />
<line x1="2299.07" y1="1127.5" x2="2299.07" y2="1132.7" stroke="#000" stroke-width="1.3" />
<line x1="2306.12" y1="1127.5" x2="2306.12" y2="1132.7" stroke="#000" stroke-width="1.3" />
<line x1="2313.18" y1="1127.5" x2="2313.18" y2="1132.7" stroke="#000" stroke-width="1.3" />
<line x1="2320.24" y1="1127.5" x2="2320.24" y2="1132.7" stroke="#000" stroke-width="1.3" />
<line x1="2327.3" y1="1127.5" x2="2327.3" y2="1132.7" stroke="#000" stroke-width="1.3" />
<line x1="2334.36" y1="1127.5" x2="2334.36" y2="1132.7" stroke="#000" stroke-width="1.3" />
<line x1="2341.42" y1="1127.5" x2="2341.42" y2="1132.7" stroke="#000" stroke-width="1.3" />
<line x1="2348.47" y1="1127.5" x2="2348.47" y2="1132.7" stroke="#000" stroke-width="1.3" />
<line x1="2355.53" y1="1127.5" x2="2355.53" y2="1132.7" stroke="#000" stroke-width="1.3" />
<line x1="2362.59" y1="1127.5" x2="2362.59" y2="1132.7" stroke="#000" stroke-width="1.3" />
<line x1="2369.65" y1="1127.5" x2="2369.65" y2="1132.7" stroke="#000" stroke-width="1.3" />
<line x1="2376.71" y1="1127.5" x2="2376.71" y2="1132.7" stroke="#000" stroke-width="1.3" />
<line x1="2383.77" y1="1127.5" x2="2383.77" y2="1132.7" stroke="#000" stroke-width="1.3" />
<line x1="2390.82" y1="1127.5" x2="2390.82" y2="1132.7" stroke="#000" stroke-width="1.3" />
<line x1="2397.88" y1="1127.5" x2="2397.88" y2="1132.7" stroke="#000" stroke-width="1.3" />
<line x1="2404.94" y1="1127.5" x2="2404.94" y2="1132.7" stroke="#000" stroke-width="1.3" />
<line x1="2412" y1="1127.5" x2="2412" y2="1132.7" stroke="#000" stroke-width="1.3" />
<text x="2240" y="1139.5" font-family='"Liberation Serif", serif' font-size="9.5" font-weight="normal" text-anchor="start" fill="#000" transform="rotate(90 2240 1139.5)" >13</text>
<text x="2255.6" y="1139.5" font-family='"Liberation Serif", serif' font-size="9.5" font-weight="normal" text-anchor="start" fill="#000" transform="rotate(90 2255.6 1139.5)" >25</text>
<text x="2268.2" y="1139.5" font-family='"Liberation Serif", serif' font-size="9.5" font-weight="normal" text-anchor="start" fill="#000" transform="rotate(90 2268.2 1139.5)" >24</text>
<text x="2280.8" y="1139.5" font-family='"Liberation Serif", serif' font-size="9.5" font-weight="normal" text-anchor="start" fill="#000" transform="rotate(90 2280.8 1139.5)" >23</text>
<text x="2293.4" y="1139.5" font-family='"Liberation Serif", serif' font-size="9.5" font-weight="normal" text-anchor="start" fill="#000" transform="rotate(90 2293.4 1139.5)" >22</text>
<text x="2306" y="1139.5" font-family='"Liberation Serif", serif' font-size="9.5" font-weight="normal" text-anchor="start" fill="#000" transform="rotate(90 2306 1139.5)" >21</text>
<text x="2318.6" y="1139.5" font-family='"Liberation Serif", serif' font-size="9.5" font-weight="normal" text-anchor="start" fill="#000" transform="rotate(90 2318.6 1139.5)" >20</text>
<text x="2331.2" y="1139.5" font-family='"Liberation Serif", serif' font-size="9.5" font-weight="normal" text-anchor="start" fill="#000" transform="rotate(90 2331.2 1139.5)" >19</text>
<text x="2343.8" y="1139.5" font-family='"Liberation Serif", serif' font-size="9.5" font-weight="normal" text-anchor="start" fill="#000" transform="rotate(90 2343.8 1139.5)" >18</text>
<text x="2356.4" y="1139.5" font-family='"Liberation Serif", serif' font-size="9.5" font-weight="normal" text-anchor="start" fill="#000" transform="rotate(90 2356.4 1139.5)" >17</text>
<text x="2369" y="1139.5" font-family='"Liberation Serif", serif' font-size="9.5" font-weight="normal" text-anchor="start" fill="#000" transform="rotate(90 2369 1139.5)" >16</text>
<text x="2381.6" y="1139.5" font-family='"Liberation Serif", serif' font-size="9.5" font-weight="normal" text-anchor="start" fill="#000" transform="rotate(90 2381.6 1139.5)" >15</text>
<text x="2394.2" y="1139.5" font-family='"Liberation Serif", serif' font-size="9.5" font-weight="normal" text-anchor="start" fill="#000" transform="rotate(90 2394.2 1139.5)" >14</text>
<text x="2406.8" y="1139.5" font-family='"Liberation Serif", serif' font-size="9.5" font-weight="normal" text-anchor="start" fill="#000" transform="rotate(90 2406.8 1139.5)" >1</text>
<line x1="2327" y1="1135" x2="2327" y2="1148" stroke="#000" stroke-width="1" />
<rect x="2190.3" y="1134.5" width="30.2" height="27.5" fill="#fff" stroke="#000" stroke-width="2.6" />
<line x1="2195.3" y1="1134.5" x2="2195.3" y2="1162" stroke="#000" stroke-width="1.5" />
<line x1="2215.5" y1="1134.5" x2="2215.5" y2="1162" stroke="#000" stroke-width="1.5" />
<rect x="2435.5" y="1134.5" width="30.2" height="27.5" fill="#fff" stroke="#000" stroke-width="2.6" />
<line x1="2440.5" y1="1134.5" x2="2440.5" y2="1162" stroke="#000" stroke-width="1.5" />
<line x1="2460.7" y1="1134.5" x2="2460.7" y2="1162" stroke="#000" stroke-width="1.5" />
<rect x="2217.6" y="1250" width="219.4" height="368.7" fill="#fff" stroke="#000" stroke-width="2.8" />
<text x="2324" y="1323" font-family='"Liberation Serif", serif' font-size="44" font-weight="normal" text-anchor="middle" fill="#000" textLength="71.5" lengthAdjust="spacingAndGlyphs" >URI</text>
<text x="2327.8" y="1357" font-family='"Liberation Serif", serif' font-size="19.5" font-weight="normal" text-anchor="middle" fill="#000" textLength="174.4" lengthAdjust="spacingAndGlyphs" >USB Radio Interface</text>
<line x1="2297" y1="1619" x2="2361" y2="1619" stroke="#000" stroke-width="3" />
<rect x="2316.4" y="1621" width="24.1" height="115" fill="#c8c8c8" />
<rect x="2316.4" y="1736" width="24.1" height="344" fill="#c0c0c0" />
<path d="M2279.8,2079 L2294,2079 L2294,2077 L2360.4,2077 L2360.4,2079 L2376.8,2079 L2376.8,2122 L2380.5,2125.8 L2424.7,2125.8 L2424.7,2174 L2384,2174 Q2376.2,2174 2376.2,2166 L2376.2,2152 L2279.8,2152 L2279.8,2165 Q2279.8,2173.4 2271,2173.4 L2190,2173.4 Q2183.3,2173.4 2183.3,2166 Q2183.3,2158 2190,2158 L2232,2158 L2232,2125.8 L2276,2125.8 L2279.8,2122 Z" fill="#000" stroke="none" stroke-width="0" />
<rect x="2316" y="2151" width="25" height="4.8" fill="#000" />
<line x1="2318" y1="2153.4" x2="2339" y2="2153.4" stroke="#909090" stroke-width="1" stroke-dasharray="1 1"/>
<path d="M1993,1885.5 L1993,1997 L1997,2001 L2116,2001 L2120,2005 L2120,2076" fill="none" stroke="#ff0000" stroke-width="4" stroke-linejoin="miter"/>
<path d="M1993.5,1997 L1986,2011" fill="none" stroke="#808080" stroke-width="3" />
<path d="M2003.4,2044 L2003.4,2031 L2007.4,2027 L2092,2027 L2096,2031 L2096,2076" fill="none" stroke="#ff0000" stroke-width="4" />
<path d="M2003,2044 L1994,2098" fill="none" stroke="#808080" stroke-width="3" />
<path d="M2071,1885.5 L2071,1971 L2075,1975 L2140,1975 L2144,1979 L2144,2076" fill="none" stroke="#008000" stroke-width="4" />
<text x="2108.6" y="1970.5" font-family='"Liberation Sans", sans-serif' font-size="17" font-weight="bold" text-anchor="middle" fill="#000" textLength="62.4" lengthAdjust="spacingAndGlyphs" stroke="#000" stroke-width="0.8">Ground</text>
<text x="2054" y="1995" font-family='"Liberation Sans", sans-serif' font-size="17" font-weight="bold" text-anchor="middle" fill="#000" textLength="32" lengthAdjust="spacingAndGlyphs" stroke="#000" stroke-width="0.8">Key</text>
<text x="2053.5" y="2019" font-family='"Liberation Sans", sans-serif' font-size="17" font-weight="bold" text-anchor="middle" fill="#000" textLength="60.3" lengthAdjust="spacingAndGlyphs" stroke="#000" stroke-width="0.8">12 VDC</text>
<text x="2052" y="2042" font-family='"Liberation Sans", sans-serif' font-size="17" font-weight="bold" text-anchor="middle" fill="#000" textLength="30" lengthAdjust="spacingAndGlyphs" stroke="#000" stroke-width="0.8">Hot</text>
<rect x="2094.7" y="2070" width="5.6" height="40" fill="#000" />
<rect x="2118.2" y="2070" width="5.6" height="40" fill="#000" />
<rect x="2141.7" y="2070" width="5.6" height="40" fill="#000" />
<path d="M2065,2174.3 L2065,2116 Q2065,2108.7 2073,2108.7 L2170,2108.7 Q2178.4,2108.7 2178.4,2116 L2178.4,2174.3 Z" fill="#034003" stroke="#000" stroke-width="3" />
<rect x="2041.3" y="2175.8" width="158.7" height="15.2" fill="#034003" stroke="#000" stroke-width="3" />
<rect x="2059.6" y="2191" width="122.9" height="8" fill="#034003" stroke="#000" stroke-width="2.5" />
<rect x="2060.7" y="2199" width="120.3" height="44" fill="#000" />
<path d="M2062,2201.5 L2180,2201.5 M2062,2205.4 L2180,2205.4 M2062,2209.3 L2180,2209.3 M2062,2213.2 L2180,2213.2 M2062,2217.1 L2180,2217.1 M2062,2221.0 L2180,2221.0 M2062,2224.9 L2180,2224.9 M2062,2228.8 L2180,2228.8 M2062,2232.7 L2180,2232.7 M2062,2236.6 L2180,2236.6 M2062,2240.5 L2180,2240.5" stroke="#909090" stroke-width="2" fill="none"/>
<path d="M1963,2116 L1963,2024 Q1963,2016.4 1977.5,2016.4 Q1992,2016.4 1992,2024 L1992,2116 Z" fill="#808080" stroke="#000" stroke-width="2.2" />
<rect x="1963.4" y="2116" width="30.1" height="28.4" fill="#000" />
<path d="M1965,2118.5 L1992,2118.5 M1965,2122.4 L1992,2122.4 M1965,2126.3 L1992,2126.3 M1965,2130.2 L1992,2130.2 M1965,2134.1 L1992,2134.1 M1965,2138.0 L1992,2138.0 M1965,2141.9 L1992,2141.9" stroke="#909090" stroke-width="2" fill="none"/>
<rect x="1947" y="2144.5" width="63.4" height="9.3" fill="#808080" stroke="#000" stroke-width="2.5" />
<line x1="1978.7" y1="2145" x2="1978.7" y2="2153.5" stroke="#000" stroke-width="2" />
<path d="M1942.4,2153.8 L2014.4,2153.8 L2014.4,2187.4 L2007,2237 L1950,2237 L1942.4,2187.4 Z" fill="#000" stroke="none" stroke-width="0" />
<rect x="1963.4" y="2156" width="30.1" height="16" fill="#606060" />
<line x1="1943" y1="2187.4" x2="2014" y2="2187.4" stroke="#fff" stroke-width="0.8" stroke-dasharray="1.5 1.5"/>
<text x="1940" y="2019.4" font-family='"Liberation Sans", sans-serif' font-size="34" font-weight="bold" text-anchor="middle" fill="#000" textLength="201.3" lengthAdjust="spacingAndGlyphs" transform="rotate(-90 1940 2019.4)" stroke="#000" stroke-width="1.6">4 Amp Fuse</text>
<text x="2196" y="1990.3" font-family='"Liberation Sans", sans-serif' font-size="33" font-weight="bold" text-anchor="middle" fill="#000" textLength="222.6" lengthAdjust="spacingAndGlyphs" transform="rotate(-90 2196 1990.3)" stroke="#000" stroke-width="1.6">12 VDC Jack</text>
<text x="2223" y="1982" font-family='"Liberation Sans", sans-serif' font-size="23" font-weight="bold" text-anchor="middle" fill="#000" textLength="276" lengthAdjust="spacingAndGlyphs" transform="rotate(-90 2223 1982)" stroke="#000" stroke-width="0.8">With Connection Key</text>
<text x="2419" y="1949" font-family='"Liberation Sans", sans-serif' font-size="34" font-weight="bold" text-anchor="middle" fill="#000" textLength="322" lengthAdjust="spacingAndGlyphs" transform="rotate(-90 2419 1949)" stroke="#000" stroke-width="1.6">USB "B" Jack with</text>
<text x="2450.5" y="1950.8" font-family='"Liberation Sans", sans-serif' font-size="33" font-weight="bold" text-anchor="middle" fill="#000" textLength="297.5" lengthAdjust="spacingAndGlyphs" transform="rotate(-90 2450.5 1950.8)" stroke="#000" stroke-width="1.6">Cable to "B" Plug</text>
<path d="M1974,2293 L1984.3,2272 L2251.6,2272 L2261.3,2293" fill="none" stroke="#000" stroke-width="2" />
<line x1="2120" y1="2272" x2="2120" y2="2254" stroke="#000" stroke-width="2" />
<path d="M2115.5,2258 L2120,2250.6 L2124.5,2258" fill="none" stroke="#000" stroke-width="2" />
<text x="2114.6" y="2305.7" font-family='"Liberation Sans", sans-serif' font-size="29" font-weight="bold" text-anchor="middle" fill="#000" textLength="154.7" lengthAdjust="spacingAndGlyphs" stroke="#000" stroke-width="1.6">Amphenol</text>
<text x="2114.6" y="2338" font-family='"Liberation Sans", sans-serif' font-size="29" font-weight="bold" text-anchor="middle" fill="#000" textLength="259.4" lengthAdjust="spacingAndGlyphs" stroke="#000" stroke-width="1.6">#97-3102A-14S-1</text>
<text x="2115.7" y="2373" font-family='"Liberation Sans", sans-serif' font-size="29" font-weight="bold" text-anchor="middle" fill="#000" textLength="199.8" lengthAdjust="spacingAndGlyphs" stroke="#000" stroke-width="1.6">3 Pin 16AWG</text>
<rect x="2389.8" y="2459.2" width="2331.7" height="556.5" fill="#fff" />
<rect x="2391.3" y="2459.2" width="2330.2" height="556.5" fill="none" stroke="#000" stroke-width="3.2" />
<line x1="2993.8" y1="2459.2" x2="2993.8" y2="3015.7" stroke="#000" stroke-width="3" />
<line x1="3525.5" y1="2459.2" x2="3525.5" y2="3015.7" stroke="#000" stroke-width="3" />
<line x1="2391.3" y1="2877" x2="4721.5" y2="2877" stroke="#000" stroke-width="3" />
<line x1="2993.8" y1="2969.4" x2="4721.5" y2="2969.4" stroke="#000" stroke-width="3" />
<line x1="3299.4" y1="2459.2" x2="3299.4" y2="2737.5" stroke="#000" stroke-width="3" />
<line x1="2993.8" y1="2534.8" x2="3525.5" y2="2534.8" stroke="#000" stroke-width="3" />
<line x1="2993.8" y1="2603.9" x2="3525.5" y2="2603.9" stroke="#000" stroke-width="3" />
<line x1="2993.8" y1="2669.4" x2="3525.5" y2="2669.4" stroke="#000" stroke-width="3" />
<line x1="2993.8" y1="2737.5" x2="3525.5" y2="2737.5" stroke="#000" stroke-width="3" />
<line x1="3525.5" y1="2613" x2="4721.5" y2="2613" stroke="#000" stroke-width="3" />
<line x1="3525.5" y1="2738" x2="4721.5" y2="2738" stroke="#000" stroke-width="3" />
<line x1="3675.5" y1="2877" x2="3675.5" y2="2969.4" stroke="#000" stroke-width="3" />
<line x1="3916.6" y1="2877" x2="3916.6" y2="2969.4" stroke="#000" stroke-width="3" />
<line x1="4625.6" y1="2877" x2="4625.6" y2="2969.4" stroke="#000" stroke-width="3" />
<line x1="3808.3" y1="2969.4" x2="3808.3" y2="3015.7" stroke="#000" stroke-width="3" />
<line x1="4491" y1="2969.4" x2="4491" y2="3015.7" stroke="#000" stroke-width="3" />
<text x="3142" y="2508" font-family='"Liberation Sans", sans-serif' font-size="28" font-weight="normal" text-anchor="middle" fill="#000" textLength="172.5" lengthAdjust="spacingAndGlyphs" >APPROVALS</text>
<text x="3401" y="2508" font-family='"Liberation Sans", sans-serif' font-size="28" font-weight="normal" text-anchor="middle" fill="#000" textLength="72.6" lengthAdjust="spacingAndGlyphs" >DATE</text>
<text x="3007" y="2555" font-family='"Liberation Sans", sans-serif' font-size="23" font-weight="normal" text-anchor="start" fill="#000" textLength="124.5" lengthAdjust="spacingAndGlyphs" >DRAWN BY</text>
<text x="3003" y="2624" font-family='"Liberation Sans", sans-serif' font-size="23" font-weight="normal" text-anchor="start" fill="#000" textLength="146" lengthAdjust="spacingAndGlyphs" >CHECKED BY</text>
<text x="3002" y="2688" font-family='"Liberation Sans", sans-serif' font-size="23" font-weight="normal" text-anchor="start" fill="#000" textLength="163" lengthAdjust="spacingAndGlyphs" >APPROVED BY</text>
<path d="M470,300 C380,335 200,330 195,265 C190,200 380,165 515,195 C500,250 400,300 330,300 M380,330 C250,340 180,400 185,460 C190,520 330,500 400,420 M515,470 C500,390 390,420 400,480 C410,520 480,480 530,460 M470,505 L650,300 M625,475 C650,530 720,500 760,450 L1040,200 L1055,195 L815,505 L1150,190 L915,505 M1115,445 C1070,400 1000,430 1010,470 C1030,520 1110,470 1160,470 M1500,205 C1450,240 1380,290 1250,290 C1170,280 1210,190 1330,190 C1400,195 1420,230 1410,260 M1335,500 L1690,205 M1470,300 C1380,320 1350,380 1345,430 C1340,470 1350,500 1400,490 M1400,490 C1470,460 1520,420 1550,385 L1510,500 C1560,430 1620,390 1640,390 C1660,420 1630,470 1610,500 C1670,430 1730,390 1745,395 C1760,430 1730,480 1720,500 C1780,440 1840,395 1855,400 C1870,430 1840,480 1830,500 C1880,480 1930,440 1950,415 C1960,385 1890,420 1880,470 C1875,510 1960,490 2050,420 L1990,520 C2030,470 2110,430 2150,430 C2120,500 2040,550 1970,580 C1900,620 1960,610 2020,560" fill="none" stroke="#000" stroke-width="7" transform="translate(2995 2530) scale(0.12815)"/>
<circle cx="3210.93" cy="2556.91" r="1.3" fill="#000" stroke="#000" stroke-width="0" />
<circle cx="3194.91" cy="2578.06" r="1.2" fill="#000" stroke="#000" stroke-width="0" />
<text x="3307" y="2591" font-family='"Liberation Serif", serif' font-size="60" font-weight="normal" text-anchor="start" fill="#000" textLength="219" lengthAdjust="spacingAndGlyphs" font-style="italic" >20160211</text>
<defs><filter id="blur" x="-5%" y="-40%" width="110%" height="180%"><feGaussianBlur stdDeviation="5"/></filter></defs>
<text x="3544.6" y="2569" font-family='"Liberation Sans", sans-serif' font-size="81" font-weight="bold" text-anchor="start" fill="#a8a8a8" textLength="397" lengthAdjust="spacingAndGlyphs" filter="url(#blur)" stroke="#a8a8a8" stroke-width="6">GREYLORD</text>
<text x="3987" y="2569" font-family='"Liberation Sans", sans-serif' font-size="81" font-weight="bold" text-anchor="start" fill="#a8a8a8" textLength="534" lengthAdjust="spacingAndGlyphs" filter="url(#blur)" stroke="#a8a8a8" stroke-width="6">ENTERPRISES,</text>
<text x="4570" y="2569" font-family='"Liberation Sans", sans-serif' font-size="81" font-weight="bold" text-anchor="start" fill="#a8a8a8" textLength="138" lengthAdjust="spacingAndGlyphs" filter="url(#blur)" stroke="#a8a8a8" stroke-width="6">INC.</text>
<text x="3552.6" y="2566" font-family='"Liberation Sans", sans-serif' font-size="81" font-weight="bold" text-anchor="start" fill="#808080" textLength="397" lengthAdjust="spacingAndGlyphs" stroke="#808080" stroke-width="2">GREYLORD</text>
<text x="3547.6" y="2562" font-family='"Liberation Sans", sans-serif' font-size="81" font-weight="bold" text-anchor="start" fill="#bdbdbd" textLength="397" lengthAdjust="spacingAndGlyphs" stroke="#000" stroke-width="1.4">GREYLORD</text>
<text x="3995" y="2566" font-family='"Liberation Sans", sans-serif' font-size="81" font-weight="bold" text-anchor="start" fill="#808080" textLength="534" lengthAdjust="spacingAndGlyphs" stroke="#808080" stroke-width="2">ENTERPRISES,</text>
<text x="3990" y="2562" font-family='"Liberation Sans", sans-serif' font-size="81" font-weight="bold" text-anchor="start" fill="#bdbdbd" textLength="534" lengthAdjust="spacingAndGlyphs" stroke="#000" stroke-width="1.4">ENTERPRISES,</text>
<text x="4578" y="2566" font-family='"Liberation Sans", sans-serif' font-size="81" font-weight="bold" text-anchor="start" fill="#808080" textLength="138" lengthAdjust="spacingAndGlyphs" stroke="#808080" stroke-width="2">INC.</text>
<text x="4573" y="2562" font-family='"Liberation Sans", sans-serif' font-size="81" font-weight="bold" text-anchor="start" fill="#bdbdbd" textLength="138" lengthAdjust="spacingAndGlyphs" stroke="#000" stroke-width="1.4">INC.</text>
<text x="3540.6" y="2642" font-family='"Liberation Sans", sans-serif' font-size="27" font-weight="normal" text-anchor="start" fill="#000" textLength="162.4" lengthAdjust="spacingAndGlyphs" >CATEGORY</text>
<text x="3578" y="2713.5" font-family='"Liberation Serif", serif' font-size="96" font-weight="bold" text-anchor="start" fill="#000" textLength="1102" lengthAdjust="spacingAndGlyphs" >KB8QEU's Repeater Plans</text>
<text x="3539" y="2765.6" font-family='"Liberation Sans", sans-serif' font-size="26" font-weight="normal" text-anchor="start" fill="#000" textLength="333.5" lengthAdjust="spacingAndGlyphs" >PRODUCT DESCRIPTION</text>
<text x="3674.5" y="2808.6" font-family='"Liberation Serif", serif' font-size="63" font-weight="bold" text-anchor="start" fill="#000" textLength="911.5" lengthAdjust="spacingAndGlyphs" >Radio/Repeater Control Interface</text>
<text x="4015.7" y="2863.5" font-family='"Liberation Sans", sans-serif' font-size="46" font-weight="bold" text-anchor="start" fill="#000" textLength="316" lengthAdjust="spacingAndGlyphs" >Wiring Layout</text>
<text x="3544" y="2901.7" font-family='"Liberation Sans", sans-serif' font-size="23" font-weight="normal" text-anchor="start" fill="#000" textLength="51" lengthAdjust="spacingAndGlyphs" >SIZE</text>
<text x="3723" y="2901.7" font-family='"Liberation Sans", sans-serif' font-size="23" font-weight="normal" text-anchor="start" fill="#000" textLength="144" lengthAdjust="spacingAndGlyphs" >FSCM NO.</text>
<text x="3928" y="2901.7" font-family='"Liberation Sans", sans-serif' font-size="23" font-weight="normal" text-anchor="start" fill="#000" textLength="158" lengthAdjust="spacingAndGlyphs" >DWG.&#160;&#160;NO.</text>
<text x="4649" y="2901.7" font-family='"Liberation Sans", sans-serif' font-size="23" font-weight="normal" text-anchor="start" fill="#000" textLength="60" lengthAdjust="spacingAndGlyphs" >REV.</text>
<text x="3599" y="2956" font-family='"Liberation Serif", serif' font-size="84" font-weight="bold" text-anchor="start" fill="#000" textLength="52" lengthAdjust="spacingAndGlyphs" >D</text>
<text x="3688.6" y="2958.6" font-family='"Liberation Serif", serif' font-size="84" font-weight="bold" text-anchor="start" fill="#000" textLength="220.4" lengthAdjust="spacingAndGlyphs" >T8965</text>
<text x="4052" y="2948.4" font-family='"Liberation Mono", monospace' font-size="63" font-weight="bold" text-anchor="start" fill="#000" textLength="568" lengthAdjust="spacingAndGlyphs" >RCI-AUDIO-1.png</text>
<text x="4651.4" y="2952.5" font-family='"Liberation Sans", sans-serif' font-size="58" font-weight="bold" text-anchor="start" fill="#000" textLength="41.6" lengthAdjust="spacingAndGlyphs" >A</text>
<text x="3565" y="3001.8" font-family='"Liberation Sans", sans-serif' font-size="26" font-weight="normal" text-anchor="start" fill="#000" textLength="206" lengthAdjust="spacingAndGlyphs" >SCALE:&#160;&#160;NONE</text>
<text x="3823" y="3001.8" font-family='"Liberation Sans", sans-serif' font-size="26" font-weight="normal" text-anchor="start" fill="#000" textLength="138" lengthAdjust="spacingAndGlyphs" >CAD FILE:</text>
<text x="3971.5" y="3001.8" font-family='"Liberation Serif", serif' font-size="36" font-weight="bold" text-anchor="start" fill="#000" textLength="500" lengthAdjust="spacingAndGlyphs" >160481-02150120030T8965</text>
<text x="4501" y="3001.8" font-family='"Liberation Sans", sans-serif' font-size="26" font-weight="normal" text-anchor="start" fill="#000" textLength="200" lengthAdjust="spacingAndGlyphs" >SHEET&#160;&#160;1&#160;&#160;OF&#160;&#160;1</text>
</svg></body></html>
